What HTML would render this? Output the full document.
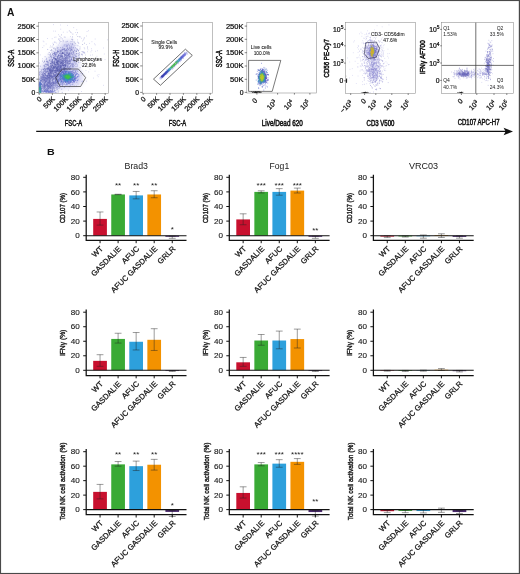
<!DOCTYPE html>
<html><head><meta charset="utf-8"><title>Figure</title>
<style>html,body{margin:0;padding:0;background:#fff;}body{width:520px;height:574px;overflow:hidden;font-family:"Liberation Sans",sans-serif;}svg{display:block;will-change:transform;}text{font-family:"Liberation Sans",sans-serif;}</style>
</head><body>
<svg width="520" height="574" viewBox="0 0 520 574" font-family="Liberation Sans, sans-serif">
<rect x="0" y="0" width="520" height="574" fill="#fff"/>
<text x="6.9" y="15.8" font-size="10.2" text-anchor="start" font-weight="bold" fill="#111" textLength="7.4" lengthAdjust="spacingAndGlyphs" >A</text>
<text x="47.0" y="154.9" font-size="9.9" text-anchor="start" font-weight="bold" fill="#111" textLength="7.7" lengthAdjust="spacingAndGlyphs" >B</text>
<rect x="38.5" y="22.7" width="69.9" height="70.6" fill="#fff" stroke="#8c8c8c" stroke-width="0.55"/>
<text x="35.2" y="28.599999999999998" font-size="6.8" text-anchor="end" font-weight="normal" fill="#111" textLength="17.6" lengthAdjust="spacingAndGlyphs" stroke="#111" stroke-width="0.24">250K</text>
<path d="M36.400000000000006 26.2h2.2" stroke="#333" stroke-width="0.6"/>
<text x="35.2" y="41.9" font-size="6.8" text-anchor="end" font-weight="normal" fill="#111" textLength="17.6" lengthAdjust="spacingAndGlyphs" stroke="#111" stroke-width="0.24">200K</text>
<path d="M36.400000000000006 39.5h2.2" stroke="#333" stroke-width="0.6"/>
<text x="35.2" y="55.199999999999996" font-size="6.8" text-anchor="end" font-weight="normal" fill="#111" textLength="17.6" lengthAdjust="spacingAndGlyphs" stroke="#111" stroke-width="0.24">150K</text>
<path d="M36.400000000000006 52.8h2.2" stroke="#333" stroke-width="0.6"/>
<text x="35.2" y="68.4" font-size="6.8" text-anchor="end" font-weight="normal" fill="#111" textLength="17.6" lengthAdjust="spacingAndGlyphs" stroke="#111" stroke-width="0.24">100K</text>
<path d="M36.400000000000006 66.0h2.2" stroke="#333" stroke-width="0.6"/>
<text x="35.2" y="81.60000000000001" font-size="6.8" text-anchor="end" font-weight="normal" fill="#111" textLength="13.376000000000001" lengthAdjust="spacingAndGlyphs" stroke="#111" stroke-width="0.24">50K</text>
<path d="M36.400000000000006 79.2h2.2" stroke="#333" stroke-width="0.6"/>
<text x="35.2" y="94.9" font-size="6.8" text-anchor="end" font-weight="normal" fill="#111" stroke="#111" stroke-width="0.24">0</text>
<path d="M36.400000000000006 92.5h2.2" stroke="#333" stroke-width="0.6"/>
<text x="0" y="0" font-size="7.0" text-anchor="end" font-weight="normal" fill="#111" transform="translate(42.2 99.5) rotate(-45)" stroke="#111" stroke-width="0.24">0</text>
<path d="M39.2 93.3v1.6" stroke="#333" stroke-width="0.6"/>
<text x="0" y="0" font-size="7.0" text-anchor="end" font-weight="normal" fill="#111" textLength="13.4" lengthAdjust="spacingAndGlyphs" transform="translate(55.4 99.5) rotate(-45)" stroke="#111" stroke-width="0.24">50K</text>
<path d="M52.4 93.3v1.6" stroke="#333" stroke-width="0.6"/>
<text x="0" y="0" font-size="7.0" text-anchor="end" font-weight="normal" fill="#111" textLength="17.6" lengthAdjust="spacingAndGlyphs" transform="translate(68.6 99.5) rotate(-45)" stroke="#111" stroke-width="0.24">100K</text>
<path d="M65.6 93.3v1.6" stroke="#333" stroke-width="0.6"/>
<text x="0" y="0" font-size="7.0" text-anchor="end" font-weight="normal" fill="#111" textLength="17.6" lengthAdjust="spacingAndGlyphs" transform="translate(81.8 99.5) rotate(-45)" stroke="#111" stroke-width="0.24">150K</text>
<path d="M78.8 93.3v1.6" stroke="#333" stroke-width="0.6"/>
<text x="0" y="0" font-size="7.0" text-anchor="end" font-weight="normal" fill="#111" textLength="17.6" lengthAdjust="spacingAndGlyphs" transform="translate(95.0 99.5) rotate(-45)" stroke="#111" stroke-width="0.24">200K</text>
<path d="M92.0 93.3v1.6" stroke="#333" stroke-width="0.6"/>
<text x="0" y="0" font-size="7.0" text-anchor="end" font-weight="normal" fill="#111" textLength="17.6" lengthAdjust="spacingAndGlyphs" transform="translate(108.2 99.5) rotate(-45)" stroke="#111" stroke-width="0.24">250K</text>
<path d="M105.2 93.3v1.6" stroke="#333" stroke-width="0.6"/>
<clipPath id="c1"><rect x="38.8" y="23.0" width="69.30000000000001" height="70.0"/></clipPath>
<g clip-path="url(#c1)">
<filter id="bl" x="-20%" y="-20%" width="140%" height="140%"><feGaussianBlur stdDeviation="2.6"/></filter>
<polygon points="39,93 39,70 46,60 64,41 73,41 78,56 78,68 84,78 79,86 60,89 50,93" fill="#9a9ae2" opacity="0.42" filter="url(#bl)"/>
<path d="M58.8 73.7h0.75M54.6 70.4h0.75M49.9 78.7h0.75M68.7 58.1h0.75M67.1 58.3h0.75M62.0 65.2h0.75M50.1 90.8h0.75M64.5 65.1h0.75M48.8 77.3h0.75M60.0 65.4h0.75M58.5 60.8h0.75M62.4 67.0h0.75M62.3 82.6h0.75M68.6 67.1h0.75M49.3 73.3h0.75M54.8 72.5h0.75M64.1 62.8h0.75M49.5 70.6h0.75M60.7 79.3h0.75M53.2 78.9h0.75M53.2 58.8h0.75M65.4 73.2h0.75M41.1 90.4h0.75M52.8 67.2h0.75M61.4 63.2h0.75M51.5 88.4h0.75M68.1 64.9h0.75M70.8 54.2h0.75M51.9 63.0h0.75M59.3 59.9h0.75M47.8 69.5h0.75M47.9 77.9h0.75M56.7 47.2h0.75M48.3 86.2h0.75M72.0 54.9h0.75M56.7 62.3h0.75M54.9 85.1h0.75M67.1 57.2h0.75M62.2 67.8h0.75M73.3 53.4h0.75M64.9 65.2h0.75M53.1 91.2h0.75M68.0 60.2h0.75M39.7 88.8h0.75M54.6 53.0h0.75M62.1 74.8h0.75M56.8 89.5h0.75M61.3 62.3h0.75M64.0 67.7h0.75M65.1 71.8h0.75M50.8 74.9h0.75M66.0 57.4h0.75M56.5 82.3h0.75M66.6 51.0h0.75M46.9 84.0h0.75M55.3 69.6h0.75M63.0 49.5h0.75M60.6 50.3h0.75M55.5 80.1h0.75M71.1 59.5h0.75M61.4 65.6h0.75M62.3 69.4h0.75M58.2 72.0h0.75M62.3 62.6h0.75M66.8 62.5h0.75M74.9 47.6h0.75M52.8 72.4h0.75M62.9 72.5h0.75M57.6 74.2h0.75M58.0 39.1h0.75M50.9 82.5h0.75M62.3 65.4h0.75M58.3 76.2h0.75M57.3 63.9h0.75M78.2 43.0h0.75M53.3 74.9h0.75M56.0 71.3h0.75M59.3 53.5h0.75M62.6 73.2h0.75M72.5 64.8h0.75M43.3 86.8h0.75M58.8 75.1h0.75M51.7 47.0h0.75M58.4 51.6h0.75M55.1 55.9h0.75M65.8 71.4h0.75M57.9 71.4h0.75M64.8 60.6h0.75M65.6 75.5h0.75M64.3 56.2h0.75M72.5 34.1h0.75M63.4 57.8h0.75M62.8 70.1h0.75M63.1 68.8h0.75M57.4 58.6h0.75M42.3 75.2h0.75M71.6 57.5h0.75M64.0 49.1h0.75M51.9 64.9h0.75M72.3 66.2h0.75M59.7 84.6h0.75M64.5 57.3h0.75M54.0 67.9h0.75M63.2 66.0h0.75M63.8 48.5h0.75M74.6 61.6h0.75M67.9 52.1h0.75M57.9 81.0h0.75M59.5 68.2h0.75M67.3 52.1h0.75M48.5 92.8h0.75M57.1 63.2h0.75M62.4 72.1h0.75M65.8 72.9h0.75M63.2 73.5h0.75M77.9 58.1h0.75M57.7 79.7h0.75M48.7 82.8h0.75M56.4 71.1h0.75M54.8 76.5h0.75M71.7 49.1h0.75M67.4 66.7h0.75M49.7 66.7h0.75M59.6 79.1h0.75M42.4 85.3h0.75M69.9 60.6h0.75M62.4 71.8h0.75M52.9 62.9h0.75M42.8 84.2h0.75M61.9 56.6h0.75M47.1 76.3h0.75M45.8 85.7h0.75M51.1 83.5h0.75M42.7 69.2h0.75M62.0 59.9h0.75M57.7 64.1h0.75M67.9 63.0h0.75M64.8 62.7h0.75M71.6 56.4h0.75M50.1 56.4h0.75M71.8 63.7h0.75M53.2 70.6h0.75M63.1 40.9h0.75M74.6 72.5h0.75M54.7 81.9h0.75M71.5 47.4h0.75M67.1 66.0h0.75M50.7 78.8h0.75M64.7 68.7h0.75M56.7 68.7h0.75M48.4 79.1h0.75M65.3 59.4h0.75M47.0 75.5h0.75M84.2 43.2h0.75M48.8 52.5h0.75M65.3 63.8h0.75M73.0 51.7h0.75M60.3 71.6h0.75M56.7 62.8h0.75M77.7 60.7h0.75M43.9 82.3h0.75M61.2 66.4h0.75M49.7 69.9h0.75M79.5 49.0h0.75M41.8 77.5h0.75M76.1 53.5h0.75M76.1 51.5h0.75M52.8 79.7h0.75M60.4 71.6h0.75M51.9 76.7h0.75M63.5 65.2h0.75M63.9 62.6h0.75M59.8 75.5h0.75M53.9 65.5h0.75M53.3 76.0h0.75M58.0 70.8h0.75M58.9 69.6h0.75M50.2 65.9h0.75M66.9 68.1h0.75M60.2 63.4h0.75M56.1 60.5h0.75M44.1 90.5h0.75M55.0 82.1h0.75M58.7 86.4h0.75M47.7 68.3h0.75M55.1 79.4h0.75M62.7 64.1h0.75M73.0 54.9h0.75M61.1 71.4h0.75M75.7 54.0h0.75M59.9 53.6h0.75M60.8 73.3h0.75M61.5 76.2h0.75M67.4 65.6h0.75M70.1 80.6h0.75M66.2 54.3h0.75M72.7 77.4h0.75M60.1 76.0h0.75M65.4 58.0h0.75M50.2 82.8h0.75M66.8 69.1h0.75M64.0 60.3h0.75M67.3 61.4h0.75M59.8 66.9h0.75M59.9 74.2h0.75M46.7 78.5h0.75M50.1 63.6h0.75M43.9 66.6h0.75M55.9 78.7h0.75M62.0 62.5h0.75M48.6 66.5h0.75M74.5 50.4h0.75M61.5 53.5h0.75M46.8 64.5h0.75M68.9 63.6h0.75M43.5 90.1h0.75M53.2 55.6h0.75M38.5 85.6h0.75M45.7 71.0h0.75M59.6 69.5h0.75M66.6 64.4h0.75M75.6 56.4h0.75M45.4 81.9h0.75M44.2 77.0h0.75M57.4 69.9h0.75M53.1 57.8h0.75M48.6 82.8h0.75M54.8 70.1h0.75M53.4 67.0h0.75M65.2 62.4h0.75M53.7 67.6h0.75M42.0 61.1h0.75M50.8 80.1h0.75M47.8 86.6h0.75M51.7 62.4h0.75M54.4 70.7h0.75M64.8 66.1h0.75M53.1 66.3h0.75M56.6 70.4h0.75M65.1 61.8h0.75M45.3 72.2h0.75M51.2 70.5h0.75M49.0 81.0h0.75M54.9 74.9h0.75M59.7 61.6h0.75M73.7 41.8h0.75M66.9 57.1h0.75M53.6 47.9h0.75M53.7 78.3h0.75M75.1 70.7h0.75M67.3 70.0h0.75M68.9 63.8h0.75M61.0 62.7h0.75M56.0 59.4h0.75M61.4 52.1h0.75M71.3 73.9h0.75M56.4 71.6h0.75M66.9 56.1h0.75M53.3 79.0h0.75M66.2 65.0h0.75M61.7 84.0h0.75M70.6 50.4h0.75M57.7 64.4h0.75M64.8 50.6h0.75M60.5 59.7h0.75M56.7 79.4h0.75M68.0 54.0h0.75M57.3 79.5h0.75M59.3 70.7h0.75M75.6 56.0h0.75M66.4 83.1h0.75M62.3 71.8h0.75M52.9 76.1h0.75M61.7 49.3h0.75M64.4 54.2h0.75M55.9 68.5h0.75M51.2 66.4h0.75M50.4 63.5h0.75M59.1 70.9h0.75M60.3 62.9h0.75M52.1 79.7h0.75M62.8 80.1h0.75M63.2 60.0h0.75M50.7 71.7h0.75M49.0 78.2h0.75M63.0 67.6h0.75M73.6 70.2h0.75M52.8 76.9h0.75M68.9 30.9h0.75M55.0 75.5h0.75M61.4 68.7h0.75M58.2 73.0h0.75M62.6 71.2h0.75M39.0 87.0h0.75M52.4 65.3h0.75M53.5 83.0h0.75M56.5 78.6h0.75M65.3 61.7h0.75M61.3 62.9h0.75M47.2 84.7h0.75M58.6 62.0h0.75M61.3 72.8h0.75M54.9 81.2h0.75M69.0 46.1h0.75M58.3 66.8h0.75M71.3 52.9h0.75M61.0 56.4h0.75M57.8 69.1h0.75M55.3 52.6h0.75M62.9 60.2h0.75M63.4 65.3h0.75M45.6 85.0h0.75M66.1 50.2h0.75M43.0 75.5h0.75M50.6 83.9h0.75M73.0 51.6h0.75M71.9 74.3h0.75M50.5 72.4h0.75M64.9 65.1h0.75M44.1 76.1h0.75M61.5 66.6h0.75M47.1 82.9h0.75M56.4 76.7h0.75M56.7 70.0h0.75M61.0 76.8h0.75M66.5 52.1h0.75M60.3 56.8h0.75M62.6 70.9h0.75M67.3 50.6h0.75M58.5 70.5h0.75M46.8 85.9h0.75M54.9 77.9h0.75M38.8 74.5h0.75M59.7 69.5h0.75M58.7 78.4h0.75M52.7 69.9h0.75M53.1 58.0h0.75M52.8 76.5h0.75M63.5 58.9h0.75M56.8 63.2h0.75M69.2 71.6h0.75M65.6 85.3h0.75M53.3 76.3h0.75M64.8 70.8h0.75M66.9 65.1h0.75M76.9 71.5h0.75M60.9 67.6h0.75M67.0 59.9h0.75M63.8 45.9h0.75M62.1 58.5h0.75M76.6 66.4h0.75M56.6 68.1h0.75M49.7 71.6h0.75M56.7 78.4h0.75M58.6 68.8h0.75M61.6 74.3h0.75M60.9 62.9h0.75M62.2 61.0h0.75M57.2 87.2h0.75M56.3 60.3h0.75M68.0 58.2h0.75M54.9 92.4h0.75M65.3 68.5h0.75M58.7 66.2h0.75M51.6 89.9h0.75M56.7 67.6h0.75M61.1 65.3h0.75M61.1 60.1h0.75M46.2 61.7h0.75M58.5 76.2h0.75M66.1 52.7h0.75M65.6 76.1h0.75M59.5 75.3h0.75M70.8 50.3h0.75M63.4 52.7h0.75M59.1 66.4h0.75M65.0 71.8h0.75M72.4 39.8h0.75M56.4 77.2h0.75M52.7 82.6h0.75M60.8 61.6h0.75M53.6 57.4h0.75M55.4 54.9h0.75M49.8 74.8h0.75M59.6 76.6h0.75M56.5 66.6h0.75M70.6 68.6h0.75M60.0 70.3h0.75M68.8 56.1h0.75M61.8 92.4h0.75M63.9 37.1h0.75M60.0 70.9h0.75M68.9 60.6h0.75M50.3 68.2h0.75M64.4 71.6h0.75M44.3 77.5h0.75M47.4 62.3h0.75M53.7 70.3h0.75M57.6 61.4h0.75M49.2 77.5h0.75M54.0 67.2h0.75M62.1 71.6h0.75M76.1 61.9h0.75M49.8 76.3h0.75M52.4 77.0h0.75M54.6 58.2h0.75M61.3 63.7h0.75M45.8 90.5h0.75M56.9 48.8h0.75M65.2 60.7h0.75M64.0 65.3h0.75M66.6 53.6h0.75M62.4 57.7h0.75M59.1 57.9h0.75M66.5 76.5h0.75M60.5 63.4h0.75M45.1 79.0h0.75M64.5 70.2h0.75M64.0 66.1h0.75M65.0 74.4h0.75M52.1 71.4h0.75M65.0 59.3h0.75M52.8 70.0h0.75M59.4 74.1h0.75M54.1 60.7h0.75M62.2 64.9h0.75M54.7 83.0h0.75M54.1 70.9h0.75M71.1 64.9h0.75M55.2 78.3h0.75M63.9 87.2h0.75M60.7 78.9h0.75M57.5 79.2h0.75M61.0 34.9h0.75M57.4 75.7h0.75M53.7 67.6h0.75M74.6 45.2h0.75M50.2 90.5h0.75M51.3 92.5h0.75M54.4 76.0h0.75M68.1 55.3h0.75M70.9 58.4h0.75M56.5 81.3h0.75M65.2 65.8h0.75M39.4 93.2h0.75M68.7 61.6h0.75M51.4 50.2h0.75M61.9 68.9h0.75M72.0 36.9h0.75M55.7 72.8h0.75M62.3 57.5h0.75M62.4 53.3h0.75M57.2 64.1h0.75M55.5 64.7h0.75M51.9 90.9h0.75M57.3 63.6h0.75M64.9 70.3h0.75M50.1 79.6h0.75M64.9 64.9h0.75M44.1 65.1h0.75M69.1 56.3h0.75M56.6 67.8h0.75M57.7 64.5h0.75M46.3 77.8h0.75M50.2 73.5h0.75M52.7 84.3h0.75M51.7 86.1h0.75M52.3 81.7h0.75M69.4 54.3h0.75M52.8 77.4h0.75M49.8 61.1h0.75M54.3 76.4h0.75M54.9 74.5h0.75M67.7 63.5h0.75M68.0 61.0h0.75M55.7 72.2h0.75M54.3 70.9h0.75M47.3 64.8h0.75M55.4 72.6h0.75M50.5 79.8h0.75M61.0 62.6h0.75M59.5 36.3h0.75M46.6 64.7h0.75M79.7 67.6h0.75M60.3 62.1h0.75M50.0 54.7h0.75M66.4 60.8h0.75M55.0 66.6h0.75M60.2 60.1h0.75M56.9 64.7h0.75M63.6 69.5h0.75M51.2 78.7h0.75M63.4 62.6h0.75M78.1 62.3h0.75M40.8 72.2h0.75M72.7 64.9h0.75M69.3 61.6h0.75M49.5 73.4h0.75M59.8 55.7h0.75M39.0 85.7h0.75M87.1 48.0h0.75M48.9 74.1h0.75M55.7 63.7h0.75M67.4 54.0h0.75M56.9 85.9h0.75M54.8 76.3h0.75M56.2 68.0h0.75M56.7 62.8h0.75M44.4 80.5h0.75M58.1 69.5h0.75M62.8 63.2h0.75M48.2 75.3h0.75M41.2 92.1h0.75M64.5 65.5h0.75M56.1 69.7h0.75M65.1 58.6h0.75M66.7 62.8h0.75M66.7 71.3h0.75M51.8 74.1h0.75M47.6 75.2h0.75M79.2 57.9h0.75M61.2 70.8h0.75M71.2 58.7h0.75M60.2 50.9h0.75M55.6 77.8h0.75M69.4 53.3h0.75M49.6 77.3h0.75M48.4 73.3h0.75M65.9 49.9h0.75M69.8 76.6h0.75M68.7 56.9h0.75M55.6 77.3h0.75M73.6 53.1h0.75M68.0 55.2h0.75M60.8 62.5h0.75M68.2 68.9h0.75M46.9 84.8h0.75M56.7 64.2h0.75M59.9 75.3h0.75M76.4 48.8h0.75M52.1 59.7h0.75M72.9 47.7h0.75M51.7 65.3h0.75M51.7 65.7h0.75M61.1 69.9h0.75M59.7 69.7h0.75M59.3 83.7h0.75M43.3 69.7h0.75M52.5 68.3h0.75M48.5 79.0h0.75M53.8 61.5h0.75M64.7 75.7h0.75M62.3 60.8h0.75M58.3 67.1h0.75M61.6 72.2h0.75M44.3 61.3h0.75M53.0 66.0h0.75M59.6 59.5h0.75M70.9 75.2h0.75M44.1 76.7h0.75M45.8 91.4h0.75M43.1 69.4h0.75M50.2 87.9h0.75M50.2 76.4h0.75M67.8 70.2h0.75M78.2 51.0h0.75M60.1 68.1h0.75M79.3 54.0h0.75M58.1 74.1h0.75M60.4 66.0h0.75M47.1 69.8h0.75M45.6 69.4h0.75M70.1 57.2h0.75M56.5 87.6h0.75M54.4 52.1h0.75M76.2 51.3h0.75M66.9 41.4h0.75M64.3 64.6h0.75M60.4 67.4h0.75M57.9 51.8h0.75M41.1 77.9h0.75M50.5 73.1h0.75M62.2 65.8h0.75M54.6 66.2h0.75M59.8 77.4h0.75M64.3 60.8h0.75M64.0 78.2h0.75M57.0 78.0h0.75M65.2 55.1h0.75M58.2 55.7h0.75M66.7 58.4h0.75M49.7 89.2h0.75M58.2 83.6h0.75M52.0 76.0h0.75M58.3 64.6h0.75M57.0 64.1h0.75M63.1 61.5h0.75M44.7 56.7h0.75M66.9 56.1h0.75M45.1 89.3h0.75M67.3 67.6h0.75M58.2 86.7h0.75M69.7 79.5h0.75M60.6 73.1h0.75M49.2 69.1h0.75M71.1 60.0h0.75M74.2 54.9h0.75M44.7 69.4h0.75M49.5 73.9h0.75M55.0 80.2h0.75M59.0 64.3h0.75M58.5 66.5h0.75M63.7 69.3h0.75M61.5 55.8h0.75M54.4 91.1h0.75M64.8 71.7h0.75M43.9 86.2h0.75M50.4 63.5h0.75M58.0 77.4h0.75M74.7 62.7h0.75M43.9 73.6h0.75M67.0 66.6h0.75M52.4 62.1h0.75M68.2 63.1h0.75M59.5 61.0h0.75M64.6 68.5h0.75M43.8 68.6h0.75M63.1 67.1h0.75M62.9 72.1h0.75M53.1 75.3h0.75M58.8 74.5h0.75M68.6 50.2h0.75M81.7 51.5h0.75M67.1 62.3h0.75M70.3 48.5h0.75M51.4 66.4h0.75M68.8 68.6h0.75M64.3 64.6h0.75M57.4 71.9h0.75M52.9 88.8h0.75M49.0 69.6h0.75M47.9 74.4h0.75M70.1 63.2h0.75M52.8 87.6h0.75M61.6 56.9h0.75M42.8 83.0h0.75M55.1 77.3h0.75M44.4 65.7h0.75M51.5 60.8h0.75M58.3 54.5h0.75M48.2 73.7h0.75M60.9 79.8h0.75M67.7 61.6h0.75M52.0 59.8h0.75M51.1 72.8h0.75M53.4 81.8h0.75M48.6 74.7h0.75M39.0 73.3h0.75M69.7 67.1h0.75M54.0 63.5h0.75M68.8 56.4h0.75M73.0 64.0h0.75M64.1 54.8h0.75M70.1 60.0h0.75M44.3 84.8h0.75M46.7 84.6h0.75M56.6 58.6h0.75M68.8 70.1h0.75M53.8 87.7h0.75M84.4 53.0h0.75M57.9 72.3h0.75M62.2 74.3h0.75M66.3 57.7h0.75M51.8 86.9h0.75M57.9 76.5h0.75M68.7 71.9h0.75M64.1 54.6h0.75M70.1 71.5h0.75M56.3 76.6h0.75M73.7 60.2h0.75M54.8 58.4h0.75M49.9 84.0h0.75M74.7 73.9h0.75M57.7 82.8h0.75M54.8 54.3h0.75M52.7 78.8h0.75M53.5 74.0h0.75M57.2 60.8h0.75M58.1 61.5h0.75M56.8 77.1h0.75M55.2 76.5h0.75M70.2 51.2h0.75M60.9 73.3h0.75M61.1 77.0h0.75M51.7 85.6h0.75M49.8 71.8h0.75M66.7 46.1h0.75M74.8 51.7h0.75M63.7 49.2h0.75M74.9 60.8h0.75M56.4 69.8h0.75M77.4 42.1h0.75M51.4 71.5h0.75M63.1 65.2h0.75M68.6 73.2h0.75M58.1 74.4h0.75M63.6 49.0h0.75M75.7 64.0h0.75M41.9 80.2h0.75M40.2 74.0h0.75M51.4 57.2h0.75M69.6 68.7h0.75M44.1 86.0h0.75M51.0 76.3h0.75M61.4 70.4h0.75M55.5 72.9h0.75M54.5 75.5h0.75M49.5 82.4h0.75M40.8 88.9h0.75M72.8 47.8h0.75M49.9 84.1h0.75M41.8 73.9h0.75M56.4 79.9h0.75M60.4 64.3h0.75M45.2 75.5h0.75M69.5 54.8h0.75M39.4 72.0h0.75M48.9 81.6h0.75M58.7 66.1h0.75M48.5 67.1h0.75M59.2 86.9h0.75M56.9 80.5h0.75M43.8 87.0h0.75M65.6 69.8h0.75M52.8 83.7h0.75M56.9 62.0h0.75M56.7 60.4h0.75M51.9 77.9h0.75M42.6 74.9h0.75M58.9 76.5h0.75M61.8 78.1h0.75M42.2 77.2h0.75M71.8 53.1h0.75M60.6 55.4h0.75M65.5 60.9h0.75M63.0 61.8h0.75M63.6 53.1h0.75M42.8 74.5h0.75M62.7 53.3h0.75M45.1 77.3h0.75M47.8 69.4h0.75M52.4 70.0h0.75M48.7 71.7h0.75M55.8 66.9h0.75M60.2 68.6h0.75M48.7 57.3h0.75M49.7 72.1h0.75M55.3 54.6h0.75M51.0 75.9h0.75M60.8 76.4h0.75M59.9 77.5h0.75M69.5 56.9h0.75M62.3 64.0h0.75M55.1 59.2h0.75M62.3 56.4h0.75M65.9 58.3h0.75M65.7 55.9h0.75M56.3 74.3h0.75M51.9 71.8h0.75M59.5 68.4h0.75M69.7 52.2h0.75M81.9 54.5h0.75M76.6 53.6h0.75M59.7 68.0h0.75M53.0 68.0h0.75M54.0 67.4h0.75M73.2 52.5h0.75M44.3 67.1h0.75M55.4 68.1h0.75M43.7 77.1h0.75M71.4 79.1h0.75M57.0 68.8h0.75M69.6 53.3h0.75M57.3 65.8h0.75M61.5 81.2h0.75M74.8 64.0h0.75M55.5 73.0h0.75M56.6 82.4h0.75M50.6 86.7h0.75M73.9 61.8h0.75M56.8 83.5h0.75M48.5 74.3h0.75M54.3 88.0h0.75M67.2 48.4h0.75M50.5 76.3h0.75M82.3 44.5h0.75M44.2 68.6h0.75M59.4 80.8h0.75M70.6 47.1h0.75M50.0 74.9h0.75M55.6 85.0h0.75M56.0 63.0h0.75M63.9 60.3h0.75M52.5 84.4h0.75M54.0 52.6h0.75M74.4 50.3h0.75M53.7 53.7h0.75M50.7 75.8h0.75M58.2 51.6h0.75M40.4 71.6h0.75M58.1 73.0h0.75M42.1 85.8h0.75M70.4 69.0h0.75M61.4 60.5h0.75M44.1 78.8h0.75M53.8 77.0h0.75M66.6 75.6h0.75M54.4 61.9h0.75M74.7 55.1h0.75M54.9 65.3h0.75M60.5 55.9h0.75M49.1 84.5h0.75M63.1 68.5h0.75M70.5 66.8h0.75M57.0 82.0h0.75M54.3 82.6h0.75M60.7 67.9h0.75M65.2 58.1h0.75M71.1 59.7h0.75M56.0 65.4h0.75M49.5 75.5h0.75M56.3 71.2h0.75M83.9 37.9h0.75M59.1 57.3h0.75M50.9 75.8h0.75M53.9 63.1h0.75M67.1 48.9h0.75M53.5 48.5h0.75M59.4 70.1h0.75M62.7 69.0h0.75M61.0 66.4h0.75M39.9 87.6h0.75M59.3 64.8h0.75M48.7 76.1h0.75M81.2 54.6h0.75M64.5 74.3h0.75M49.6 71.2h0.75M54.8 76.0h0.75M77.2 32.7h0.75M59.9 69.4h0.75M62.8 72.8h0.75M64.6 44.6h0.75M57.8 66.2h0.75M52.4 59.5h0.75M63.0 63.8h0.75M45.8 59.6h0.75M51.1 70.5h0.75M42.4 81.5h0.75M66.2 63.1h0.75M60.6 71.1h0.75M53.8 76.0h0.75M61.3 70.6h0.75M56.7 69.3h0.75M53.5 68.2h0.75M77.6 45.8h0.75M73.6 72.5h0.75M60.1 47.6h0.75M67.8 64.2h0.75M79.3 52.6h0.75M57.4 56.1h0.75M52.9 79.7h0.75M56.3 59.6h0.75M52.9 71.9h0.75M60.3 69.5h0.75M49.2 67.7h0.75M76.0 60.8h0.75M62.7 73.9h0.75M64.9 66.4h0.75M57.5 60.8h0.75M67.8 66.2h0.75M61.9 86.2h0.75M83.6 52.2h0.75M77.0 49.4h0.75M52.2 70.6h0.75M52.5 78.5h0.75M61.4 71.8h0.75M75.0 43.4h0.75M65.7 63.1h0.75M58.9 65.2h0.75M52.6 67.4h0.75M59.2 66.9h0.75M55.8 62.3h0.75M58.6 68.7h0.75M56.8 58.4h0.75M66.5 67.9h0.75M60.5 61.0h0.75M53.0 73.7h0.75M71.9 66.4h0.75M53.3 68.4h0.75M61.9 65.5h0.75M47.2 76.5h0.75M60.9 72.6h0.75M43.5 78.7h0.75M55.1 59.0h0.75M60.7 69.1h0.75M51.7 66.6h0.75M55.8 68.5h0.75M56.0 62.2h0.75M57.2 50.7h0.75M56.7 71.0h0.75M61.9 56.0h0.75M59.0 60.8h0.75M72.9 67.0h0.75M57.4 75.1h0.75M56.3 82.9h0.75M67.3 55.6h0.75M51.6 83.2h0.75M72.5 60.1h0.75M54.2 53.3h0.75M60.6 81.8h0.75M54.9 86.8h0.75M76.3 50.7h0.75M64.6 55.2h0.75M48.2 82.4h0.75M56.2 71.1h0.75M62.5 60.7h0.75M61.7 68.4h0.75M67.9 75.7h0.75M61.8 64.3h0.75M53.1 69.1h0.75M68.9 54.5h0.75M46.9 79.1h0.75M54.6 68.9h0.75M59.9 52.6h0.75M62.5 64.0h0.75M49.4 82.4h0.75M60.0 71.9h0.75M56.3 75.1h0.75M39.6 83.7h0.75M69.5 64.0h0.75M54.7 67.0h0.75M54.8 49.3h0.75M55.6 80.4h0.75M57.3 57.9h0.75M54.3 64.0h0.75M63.3 71.7h0.75M52.3 53.2h0.75M54.2 53.9h0.75M68.7 57.7h0.75M71.6 41.5h0.75M63.7 72.7h0.75M49.4 73.6h0.75M54.8 72.9h0.75M52.5 82.9h0.75M62.5 63.2h0.75M69.0 48.8h0.75M64.9 52.4h0.75M53.2 53.5h0.75M58.5 66.1h0.75M51.0 72.3h0.75M51.5 70.3h0.75M51.0 73.3h0.75M49.3 80.4h0.75M62.5 59.3h0.75M61.6 79.4h0.75M70.3 61.4h0.75M64.9 54.9h0.75M63.0 74.5h0.75M53.2 74.8h0.75M62.9 66.1h0.75M61.2 75.7h0.75M60.6 73.6h0.75M69.6 59.4h0.75M57.3 56.6h0.75M44.8 81.5h0.75M69.7 69.1h0.75M50.5 83.8h0.75M47.6 75.9h0.75M59.7 74.6h0.75M66.0 70.9h0.75M55.4 83.3h0.75M65.4 58.8h0.75M58.5 61.6h0.75M47.6 79.8h0.75M68.8 86.7h0.75M63.3 80.4h0.75M61.2 67.9h0.75M59.4 57.8h0.75M66.9 60.1h0.75M49.8 88.2h0.75M64.6 64.4h0.75M67.7 49.7h0.75M65.9 66.0h0.75M57.7 83.4h0.75M40.1 80.6h0.75M56.1 59.2h0.75M48.2 64.3h0.75M52.4 64.1h0.75M52.3 59.6h0.75M59.9 63.0h0.75M58.1 68.0h0.75M51.8 62.8h0.75M48.5 77.8h0.75M50.5 57.0h0.75M49.0 75.3h0.75M51.8 82.0h0.75M52.5 67.6h0.75M55.0 83.0h0.75M56.2 78.5h0.75M51.2 57.1h0.75M49.9 81.2h0.75M64.8 68.0h0.75M69.6 63.7h0.75M54.1 72.4h0.75M61.5 58.8h0.75M57.4 51.4h0.75M62.0 61.0h0.75M60.5 65.6h0.75M47.4 79.4h0.75M64.9 49.1h0.75M48.3 82.0h0.75M50.1 70.1h0.75M57.3 82.2h0.75M57.7 92.3h0.75M48.0 71.1h0.75M67.0 62.2h0.75M54.2 83.4h0.75M39.2 86.3h0.75M65.1 55.4h0.75M51.0 85.5h0.75M64.8 58.6h0.75M42.5 88.0h0.75M65.3 67.1h0.75M70.6 47.3h0.75M54.2 74.3h0.75M62.0 52.1h0.75M53.0 44.4h0.75M60.4 57.6h0.75M65.2 66.3h0.75M48.6 81.9h0.75M63.0 68.4h0.75M45.7 75.8h0.75M55.4 70.4h0.75M51.8 89.1h0.75M61.7 80.2h0.75M64.5 59.5h0.75M57.5 56.8h0.75M52.4 70.6h0.75M48.5 83.3h0.75M64.7 75.8h0.75M48.6 77.6h0.75M63.4 65.7h0.75M55.7 67.0h0.75M63.7 64.8h0.75M42.7 88.7h0.75M41.3 80.1h0.75M59.4 67.6h0.75M54.1 64.6h0.75M51.6 68.0h0.75M64.6 67.2h0.75M78.0 53.9h0.75M49.5 76.4h0.75M52.6 80.6h0.75M76.7 49.4h0.75M51.1 85.4h0.75M59.6 70.1h0.75M66.9 46.0h0.75M62.2 85.6h0.75M56.4 62.3h0.75M63.7 72.1h0.75M53.2 68.0h0.75M62.7 84.2h0.75M45.7 89.4h0.75M61.5 70.9h0.75M57.7 75.3h0.75M63.3 59.3h0.75M53.6 73.5h0.75M49.6 79.1h0.75M56.9 73.1h0.75M75.1 58.8h0.75M57.9 76.2h0.75M64.3 68.5h0.75M59.6 69.7h0.75M50.2 71.4h0.75M71.6 63.9h0.75M65.3 63.2h0.75M57.6 64.4h0.75M48.2 91.4h0.75M56.5 64.8h0.75M57.6 84.4h0.75M75.6 70.4h0.75M52.5 77.0h0.75M55.0 75.2h0.75M52.4 68.6h0.75M61.8 54.1h0.75M57.2 76.7h0.75M51.6 73.5h0.75M58.7 63.7h0.75M48.1 82.6h0.75M65.5 77.6h0.75M55.0 84.8h0.75M50.2 76.5h0.75M57.0 73.6h0.75M73.9 65.7h0.75M60.4 81.0h0.75M69.9 60.8h0.75M57.2 80.8h0.75M59.1 71.5h0.75M59.6 74.4h0.75M72.5 60.6h0.75M61.8 74.9h0.75M63.9 49.3h0.75M61.9 47.7h0.75M65.3 65.1h0.75M70.7 53.4h0.75M50.1 71.5h0.75M52.7 85.8h0.75M52.3 69.1h0.75M57.9 60.3h0.75M52.2 72.2h0.75M78.3 55.7h0.75M48.3 65.1h0.75M60.5 66.2h0.75M63.7 67.1h0.75M60.6 75.9h0.75M65.4 60.4h0.75M52.4 71.8h0.75M57.3 57.3h0.75M52.8 68.1h0.75M50.8 86.8h0.75M58.0 69.4h0.75M56.5 53.8h0.75M59.1 70.8h0.75M58.4 55.7h0.75M64.6 61.8h0.75M74.3 57.9h0.75M73.7 70.6h0.75M55.7 67.5h0.75M50.4 69.4h0.75M47.6 62.5h0.75M59.7 71.5h0.75M63.6 56.6h0.75M64.9 51.1h0.75M46.9 63.7h0.75M48.0 74.7h0.75M71.8 54.5h0.75M52.7 83.0h0.75M60.3 62.9h0.75M56.6 67.7h0.75M44.7 68.7h0.75M64.1 74.5h0.75M67.0 52.3h0.75M51.4 76.4h0.75M66.4 60.4h0.75M55.6 76.7h0.75M59.2 73.1h0.75M47.3 68.3h0.75M62.4 71.1h0.75M49.3 80.7h0.75M62.5 58.1h0.75M63.9 83.3h0.75M69.5 63.6h0.75M59.7 85.1h0.75M43.1 85.3h0.75M70.4 65.6h0.75M47.7 76.8h0.75M49.3 60.1h0.75M65.6 64.0h0.75M57.5 75.8h0.75M65.3 61.6h0.75M69.8 68.6h0.75M55.4 74.8h0.75M59.6 78.3h0.75M57.5 75.1h0.75M59.3 67.7h0.75M70.1 50.0h0.75M72.6 56.5h0.75M66.7 54.1h0.75M68.7 61.6h0.75M54.9 76.6h0.75M56.9 70.3h0.75M63.7 52.4h0.75M51.3 71.6h0.75M61.1 70.8h0.75M72.4 51.0h0.75M57.5 61.4h0.75M69.3 67.5h0.75M57.6 47.7h0.75M72.7 64.9h0.75M56.2 54.8h0.75M58.8 74.4h0.75M56.8 61.7h0.75M56.6 82.0h0.75M55.8 88.4h0.75M59.7 69.8h0.75M45.2 81.3h0.75M55.3 56.4h0.75M65.7 41.8h0.75M49.4 82.3h0.75M65.3 66.4h0.75M54.2 72.3h0.75M53.3 69.5h0.75M60.6 66.8h0.75M54.8 76.6h0.75M57.5 68.9h0.75M57.1 51.1h0.75M54.3 62.6h0.75M63.5 77.6h0.75M49.7 80.3h0.75M58.7 78.7h0.75M42.2 73.7h0.75M59.9 62.2h0.75M61.3 76.2h0.75M49.7 77.3h0.75M61.2 68.8h0.75M59.6 78.2h0.75M72.1 43.4h0.75M60.6 41.5h0.75M66.4 52.7h0.75M57.2 66.3h0.75M46.8 71.4h0.75M61.9 77.8h0.75M64.4 55.5h0.75M50.5 72.2h0.75M58.7 88.2h0.75M63.4 62.3h0.75M49.2 70.7h0.75M71.6 57.5h0.75M56.2 82.7h0.75M53.3 83.2h0.75M48.9 77.9h0.75M63.8 65.2h0.75M61.0 55.2h0.75M76.4 56.7h0.75M60.3 70.7h0.75M51.6 76.8h0.75M48.9 83.5h0.75M66.4 71.5h0.75M69.1 61.6h0.75M54.2 72.1h0.75M56.7 73.4h0.75M48.1 92.5h0.75M44.0 84.1h0.75M55.5 67.0h0.75M69.5 50.8h0.75M75.4 56.2h0.75M56.5 75.7h0.75M65.6 53.9h0.75M55.7 66.1h0.75M56.6 67.1h0.75M63.8 71.6h0.75M68.7 54.5h0.75M63.9 69.8h0.75M50.4 68.4h0.75M61.2 53.8h0.75M59.7 55.6h0.75M65.8 45.7h0.75M71.9 65.1h0.75M58.8 84.5h0.75M42.9 71.7h0.75M66.8 63.7h0.75M43.5 62.4h0.75M56.0 68.5h0.75M53.8 72.1h0.75M42.1 86.3h0.75M79.0 55.0h0.75M51.7 70.4h0.75M66.4 68.4h0.75M57.2 57.2h0.75M59.9 67.7h0.75M74.6 57.7h0.75M68.1 67.6h0.75M63.1 78.6h0.75M57.0 75.0h0.75M59.9 55.9h0.75M43.8 70.4h0.75M58.9 67.0h0.75M58.2 74.2h0.75M42.6 91.7h0.75M57.3 67.1h0.75M72.8 66.5h0.75M49.9 70.5h0.75M54.1 75.8h0.75M57.8 59.7h0.75M59.9 54.7h0.75M66.2 61.6h0.75M72.5 71.5h0.75M55.2 71.3h0.75M65.9 66.9h0.75M49.8 84.4h0.75M55.9 79.2h0.75M68.2 54.4h0.75M58.2 70.8h0.75M62.9 63.5h0.75M51.4 70.7h0.75M63.0 75.1h0.75M64.2 74.8h0.75M59.9 66.0h0.75M42.6 84.6h0.75M60.3 51.1h0.75" stroke="#6468b8" stroke-width="0.75" fill="none" opacity="0.68"/>
<path d="M46.1 72.4h0.7M56.1 73.1h0.7M52.4 54.7h0.7M63.9 50.4h0.7M60.1 76.3h0.7M51.3 63.3h0.7M49.9 70.1h0.7M49.1 74.7h0.7M64.1 58.6h0.7M59.7 87.0h0.7M51.1 75.8h0.7M60.4 67.8h0.7M56.8 70.4h0.7M70.9 46.1h0.7M51.4 77.3h0.7M50.3 72.7h0.7M59.6 65.1h0.7M58.7 71.1h0.7M50.4 64.2h0.7M61.1 56.6h0.7M62.1 52.6h0.7M62.0 61.4h0.7M55.6 80.6h0.7M48.7 86.6h0.7M66.1 56.9h0.7M59.3 58.2h0.7M57.9 66.7h0.7M62.6 63.9h0.7M52.8 66.0h0.7M55.1 72.5h0.7M41.1 78.4h0.7M52.1 68.4h0.7M44.2 61.2h0.7M53.8 68.6h0.7M53.8 53.1h0.7M57.0 70.2h0.7M65.1 64.6h0.7M59.4 53.0h0.7M59.7 59.0h0.7M58.2 78.0h0.7M49.4 69.6h0.7M50.8 67.5h0.7M65.0 57.4h0.7M67.7 53.7h0.7M57.4 74.8h0.7M50.9 71.0h0.7M56.1 67.7h0.7M62.2 52.9h0.7M59.1 62.5h0.7M44.4 75.0h0.7M57.3 69.2h0.7M61.1 64.3h0.7M55.4 64.3h0.7M55.6 59.1h0.7M47.0 78.0h0.7M45.7 78.3h0.7M49.9 71.6h0.7M53.4 64.2h0.7M47.2 65.3h0.7M54.3 62.1h0.7M47.8 54.2h0.7M52.8 74.4h0.7M39.8 88.4h0.7M58.0 65.4h0.7M48.3 81.0h0.7M53.9 61.9h0.7M61.6 58.7h0.7M55.2 64.6h0.7M60.9 61.0h0.7M66.2 56.3h0.7M52.1 71.3h0.7M61.4 56.1h0.7M61.6 63.8h0.7M46.1 61.2h0.7M58.7 65.3h0.7M54.7 62.6h0.7M64.2 54.0h0.7M50.0 70.0h0.7M54.8 59.5h0.7M58.9 81.2h0.7M69.9 56.3h0.7M68.3 54.5h0.7M51.1 85.6h0.7M67.1 55.4h0.7M49.5 88.3h0.7M63.8 51.5h0.7M61.1 66.9h0.7M61.0 69.9h0.7M60.4 67.2h0.7M51.4 61.0h0.7M63.8 84.5h0.7M64.3 67.0h0.7M71.5 59.8h0.7M58.1 59.0h0.7M49.1 60.4h0.7M59.6 70.4h0.7M43.8 87.4h0.7M67.9 61.8h0.7M48.3 73.1h0.7M40.6 81.3h0.7M69.1 66.7h0.7M55.3 81.0h0.7M57.7 60.5h0.7M60.7 37.7h0.7M57.5 67.3h0.7M78.4 50.4h0.7M72.3 44.5h0.7M69.1 60.3h0.7M61.8 62.1h0.7M54.1 66.6h0.7M57.2 83.4h0.7M45.4 64.5h0.7M58.6 63.3h0.7M65.8 69.4h0.7M55.2 66.3h0.7M52.1 73.2h0.7M55.0 70.8h0.7M79.0 36.8h0.7M59.5 79.7h0.7M66.0 59.9h0.7M65.1 61.4h0.7M67.3 63.4h0.7M69.2 60.0h0.7M53.7 70.9h0.7M56.3 75.8h0.7M60.4 56.6h0.7M71.8 67.7h0.7M60.4 50.9h0.7M59.1 68.7h0.7M58.4 67.4h0.7M66.1 55.5h0.7M52.9 78.7h0.7M56.8 67.3h0.7M47.5 67.6h0.7M47.4 77.1h0.7M38.6 68.7h0.7M59.6 51.6h0.7M54.5 74.5h0.7M47.0 93.2h0.7M54.8 75.3h0.7M55.2 71.5h0.7M57.7 65.0h0.7M38.9 79.6h0.7M62.7 70.4h0.7M55.7 72.8h0.7M60.1 65.8h0.7M57.2 52.1h0.7M58.0 62.8h0.7M51.4 66.6h0.7M47.6 70.7h0.7M60.4 83.7h0.7M68.1 49.5h0.7M57.7 56.0h0.7M64.0 68.7h0.7M52.5 63.6h0.7M51.2 65.5h0.7M46.9 78.9h0.7M51.0 67.6h0.7M47.3 72.0h0.7M64.4 67.6h0.7M65.0 74.4h0.7M47.6 82.5h0.7M48.8 76.8h0.7M60.0 66.6h0.7M62.0 53.5h0.7M48.1 77.5h0.7M56.0 61.2h0.7M69.9 62.1h0.7M49.3 80.8h0.7M55.5 50.7h0.7M57.4 63.4h0.7M53.3 83.5h0.7M56.4 62.5h0.7M62.6 63.5h0.7M64.5 60.2h0.7M54.7 58.7h0.7M54.8 70.5h0.7M50.1 66.7h0.7M46.2 84.4h0.7M54.8 64.0h0.7M50.5 67.5h0.7M51.7 73.0h0.7M55.7 74.2h0.7M56.6 67.8h0.7M65.0 65.6h0.7M61.9 60.8h0.7M52.5 65.3h0.7M57.6 71.3h0.7M56.8 62.7h0.7M41.9 74.6h0.7M63.4 65.8h0.7M53.7 58.5h0.7M56.5 68.7h0.7M52.5 75.9h0.7M52.2 65.6h0.7M52.3 80.4h0.7M55.6 60.0h0.7M54.1 78.4h0.7M59.6 59.4h0.7M66.2 49.7h0.7M54.7 79.3h0.7M57.2 68.8h0.7M53.0 62.8h0.7M48.5 77.0h0.7M61.9 49.5h0.7M66.8 53.4h0.7M50.9 77.5h0.7M56.9 58.0h0.7M44.6 87.7h0.7M51.6 78.0h0.7M44.0 84.1h0.7M45.5 69.7h0.7M56.2 68.8h0.7M48.4 68.1h0.7M51.0 59.0h0.7M62.5 62.2h0.7M71.6 52.2h0.7M60.4 63.3h0.7M51.6 62.0h0.7M68.7 53.3h0.7M50.3 65.5h0.7M68.9 53.1h0.7M52.1 79.4h0.7M69.2 47.6h0.7M57.9 61.0h0.7M57.4 75.1h0.7M77.5 36.5h0.7M59.5 69.4h0.7M58.1 71.0h0.7M58.1 55.1h0.7M49.7 76.2h0.7M63.6 58.7h0.7M59.3 50.1h0.7M57.6 59.5h0.7M59.0 65.9h0.7M49.7 74.7h0.7M50.6 78.0h0.7M49.4 72.8h0.7M55.7 62.0h0.7M61.8 53.1h0.7M63.7 58.6h0.7M49.4 75.4h0.7M50.1 73.1h0.7M62.9 73.7h0.7M60.9 74.5h0.7M54.4 58.0h0.7M44.8 90.3h0.7M47.1 87.2h0.7M65.3 57.2h0.7M54.6 67.3h0.7M57.4 62.6h0.7M52.0 70.1h0.7M62.0 53.0h0.7M54.6 59.1h0.7M46.6 69.0h0.7M58.6 69.8h0.7M56.9 61.7h0.7M59.5 59.1h0.7M60.6 63.2h0.7M50.1 53.8h0.7M51.8 80.7h0.7M65.7 73.3h0.7M53.2 66.7h0.7M69.0 53.1h0.7M71.4 49.1h0.7M58.7 70.0h0.7M50.0 72.3h0.7M52.5 70.7h0.7M60.0 57.1h0.7M57.0 61.5h0.7M51.2 49.8h0.7M56.4 68.5h0.7M54.3 79.2h0.7M63.7 67.5h0.7M65.9 58.5h0.7M51.5 64.4h0.7M53.7 66.8h0.7M56.7 62.3h0.7M70.1 32.1h0.7M62.6 53.4h0.7M59.3 70.9h0.7M52.0 62.6h0.7M58.9 61.5h0.7M44.5 86.4h0.7M47.1 74.1h0.7M61.4 62.2h0.7M64.2 74.9h0.7M57.1 60.2h0.7M58.0 63.4h0.7M56.6 85.2h0.7M54.7 67.0h0.7M57.4 74.2h0.7M64.3 70.5h0.7M68.9 63.0h0.7M57.8 68.2h0.7M53.5 69.7h0.7M43.4 81.0h0.7M48.2 73.3h0.7M65.9 55.0h0.7M68.5 56.6h0.7M67.1 60.0h0.7M56.4 74.1h0.7M52.7 67.6h0.7M73.7 60.6h0.7M57.9 80.3h0.7M58.8 55.7h0.7M60.3 64.4h0.7M57.9 61.4h0.7M48.8 78.4h0.7M65.8 59.9h0.7M65.8 62.7h0.7M50.4 75.4h0.7M63.3 65.5h0.7M60.2 65.9h0.7M66.6 70.6h0.7M42.8 86.9h0.7M73.9 42.9h0.7M45.8 84.0h0.7M44.9 77.9h0.7M65.6 68.6h0.7M62.8 63.4h0.7M64.4 56.8h0.7M51.1 74.0h0.7M58.0 62.0h0.7M51.2 71.4h0.7M43.1 77.6h0.7M54.9 65.9h0.7M63.1 69.6h0.7M58.8 63.0h0.7M45.0 74.3h0.7M55.8 60.0h0.7M55.3 58.9h0.7M57.6 64.5h0.7M61.8 55.4h0.7M55.6 70.3h0.7M64.4 70.2h0.7M53.1 67.0h0.7M56.9 70.4h0.7M61.4 65.7h0.7M58.4 86.2h0.7M68.7 48.3h0.7M49.9 78.0h0.7M50.4 55.8h0.7M50.9 61.7h0.7M65.7 65.5h0.7M57.4 51.9h0.7M69.7 55.3h0.7M56.8 70.9h0.7M65.4 50.5h0.7M54.6 64.6h0.7M55.5 48.9h0.7M62.1 49.7h0.7M56.2 52.6h0.7M48.5 73.3h0.7M55.6 53.5h0.7M58.2 58.4h0.7M63.7 53.2h0.7M59.4 60.9h0.7M67.0 47.8h0.7M65.1 71.8h0.7M60.3 67.2h0.7M53.1 73.6h0.7M42.8 88.0h0.7M46.6 68.0h0.7M52.6 82.8h0.7M53.4 57.7h0.7M65.8 46.7h0.7M55.7 70.2h0.7M43.0 72.4h0.7M57.1 76.4h0.7M56.6 52.5h0.7M64.9 54.6h0.7M60.4 61.3h0.7M55.5 59.2h0.7M48.2 72.8h0.7M57.2 71.3h0.7M55.8 82.1h0.7M50.5 70.4h0.7M63.3 60.5h0.7M50.4 66.3h0.7M43.9 71.1h0.7M68.9 58.1h0.7M71.1 49.5h0.7M62.3 64.9h0.7M62.0 56.2h0.7M68.2 68.6h0.7M40.3 78.3h0.7M53.9 77.3h0.7M63.2 53.7h0.7M61.1 59.4h0.7M56.7 61.6h0.7M56.8 66.2h0.7M73.6 61.4h0.7M47.5 84.9h0.7M61.0 68.7h0.7M67.1 58.0h0.7M58.3 55.6h0.7M53.0 87.0h0.7M60.8 51.7h0.7M68.1 55.5h0.7M44.9 92.1h0.7M55.5 78.7h0.7M49.5 70.5h0.7M46.2 80.2h0.7M60.8 54.4h0.7M53.9 89.8h0.7M71.8 50.2h0.7M48.5 67.8h0.7M48.8 83.3h0.7M61.0 50.6h0.7M55.8 65.2h0.7M57.4 69.9h0.7M67.8 44.1h0.7M67.0 60.9h0.7M54.5 68.3h0.7M52.8 81.9h0.7M50.9 69.3h0.7M53.9 63.0h0.7M49.0 75.2h0.7M65.7 51.1h0.7M54.3 56.8h0.7M52.0 89.8h0.7M48.0 65.5h0.7M58.8 68.7h0.7M42.2 80.1h0.7M54.8 60.9h0.7M66.1 61.0h0.7M58.1 60.5h0.7M54.1 64.7h0.7M57.5 68.1h0.7M59.1 71.6h0.7M71.5 39.5h0.7M62.6 65.0h0.7M60.2 59.1h0.7M58.1 73.4h0.7M63.1 61.4h0.7M54.4 75.5h0.7M61.4 57.8h0.7M70.2 65.9h0.7M47.4 85.8h0.7M43.7 73.5h0.7M57.8 69.8h0.7M52.5 62.2h0.7M45.4 78.3h0.7M53.6 63.5h0.7M54.6 85.4h0.7M50.9 73.6h0.7M51.0 69.6h0.7M56.0 64.8h0.7M56.1 56.7h0.7" stroke="#44489c" stroke-width="0.7" fill="none" opacity="0.62"/>
<path d="M46.6 88.7h0.75M52.7 87.7h0.75M47.2 77.5h0.75M39.3 89.7h0.75M50.3 87.8h0.75M39.0 74.7h0.75M41.9 79.3h0.75M47.8 80.1h0.75M54.7 82.0h0.75M44.3 89.2h0.75M48.6 80.6h0.75M41.1 83.8h0.75M41.8 75.6h0.75M50.0 88.4h0.75M51.7 87.1h0.75M43.8 79.3h0.75M41.6 88.7h0.75M49.3 75.7h0.75M51.3 91.1h0.75M47.2 79.1h0.75M55.6 78.6h0.75M46.6 75.7h0.75M40.9 76.7h0.75M52.3 90.7h0.75M45.0 78.4h0.75M46.7 86.8h0.75M39.6 79.4h0.75M46.5 88.4h0.75M47.4 87.2h0.75M40.9 72.9h0.75M48.5 80.5h0.75M46.4 83.2h0.75M49.3 81.2h0.75M54.0 85.2h0.75M49.6 88.1h0.75M52.1 87.0h0.75M56.1 87.3h0.75M49.7 87.3h0.75M43.9 81.7h0.75M43.8 90.7h0.75M49.2 79.2h0.75M55.5 86.7h0.75M52.8 86.1h0.75M45.4 85.8h0.75M41.5 79.1h0.75M42.6 82.4h0.75M40.4 84.5h0.75M56.0 84.8h0.75M51.3 83.9h0.75M48.9 84.8h0.75M44.3 85.4h0.75M39.7 87.2h0.75M45.6 79.7h0.75M45.2 87.7h0.75M43.7 87.3h0.75M49.8 92.7h0.75M41.7 84.5h0.75M49.5 92.4h0.75M48.3 88.7h0.75M39.8 82.1h0.75M55.2 83.6h0.75M57.6 81.4h0.75M45.6 77.1h0.75M50.1 86.3h0.75M56.9 85.8h0.75M45.8 78.1h0.75M46.6 89.7h0.75M50.7 91.1h0.75M51.3 84.8h0.75M50.0 85.9h0.75M48.8 79.8h0.75M48.9 86.4h0.75M51.9 92.1h0.75M54.6 80.3h0.75M48.7 86.7h0.75M41.5 82.7h0.75M48.0 88.7h0.75M57.8 86.5h0.75M44.0 73.3h0.75M52.3 84.3h0.75M46.5 80.1h0.75M50.6 76.1h0.75M47.5 85.6h0.75M48.5 91.5h0.75M46.5 85.5h0.75M51.2 77.3h0.75M45.6 85.3h0.75M51.7 81.0h0.75M51.0 86.9h0.75M39.6 77.7h0.75M39.9 85.7h0.75M48.0 88.6h0.75M51.1 82.3h0.75M52.3 89.1h0.75M49.3 87.4h0.75M40.6 86.8h0.75M41.9 79.1h0.75M45.3 85.7h0.75M46.7 83.4h0.75M42.0 85.9h0.75M43.3 78.0h0.75M47.5 92.2h0.75M45.0 79.7h0.75M45.5 84.0h0.75M47.7 89.9h0.75M49.2 75.9h0.75M41.5 78.9h0.75M49.2 85.5h0.75M55.9 83.7h0.75M48.5 85.4h0.75M48.4 92.3h0.75M53.5 82.0h0.75M50.4 83.1h0.75M47.5 85.8h0.75M47.1 82.7h0.75M54.8 83.7h0.75M50.1 90.1h0.75M53.9 90.4h0.75M55.6 77.9h0.75M56.8 85.1h0.75M40.0 84.9h0.75M39.6 80.0h0.75M48.5 85.8h0.75M43.0 83.8h0.75M46.5 85.4h0.75M47.0 83.9h0.75M51.4 77.0h0.75M44.5 85.7h0.75M45.0 82.2h0.75M44.8 86.0h0.75M53.2 84.1h0.75M45.7 86.8h0.75M45.8 75.3h0.75M48.3 83.1h0.75M44.1 88.1h0.75M47.2 82.2h0.75M47.1 84.4h0.75M49.2 86.1h0.75M44.6 78.7h0.75M41.5 84.3h0.75M41.3 88.8h0.75M40.4 76.0h0.75M46.0 76.1h0.75M55.1 80.0h0.75M46.7 83.8h0.75M42.9 76.2h0.75M39.7 87.8h0.75M46.9 89.2h0.75M44.4 88.6h0.75M51.5 88.0h0.75M54.2 84.1h0.75M54.7 81.5h0.75M55.3 71.3h0.75M47.1 81.0h0.75M47.0 90.2h0.75M50.6 85.5h0.75M55.5 77.6h0.75M42.9 92.5h0.75M48.6 74.6h0.75M48.7 79.1h0.75M54.4 90.7h0.75M44.3 91.5h0.75M42.8 89.6h0.75M49.9 84.4h0.75M39.9 83.6h0.75M42.2 72.8h0.75M49.9 86.8h0.75M50.9 85.3h0.75M43.8 70.2h0.75M49.4 89.8h0.75M44.0 77.9h0.75M46.8 76.6h0.75M47.0 88.9h0.75M54.5 86.3h0.75M48.0 88.7h0.75M54.0 83.4h0.75M40.9 81.0h0.75M40.7 80.6h0.75M46.4 86.7h0.75M47.8 85.3h0.75M45.2 87.1h0.75M51.4 88.8h0.75M54.5 83.5h0.75M48.0 87.1h0.75M45.3 89.8h0.75M45.0 80.0h0.75M46.7 82.8h0.75M51.2 83.1h0.75M47.6 83.9h0.75M48.7 81.8h0.75M52.5 77.9h0.75M45.1 81.5h0.75M50.2 85.2h0.75M49.4 83.3h0.75M43.4 79.4h0.75M45.3 82.3h0.75M48.4 86.8h0.75M51.9 84.5h0.75M43.3 79.7h0.75M47.3 86.8h0.75M56.7 85.9h0.75M41.8 91.1h0.75M52.7 91.7h0.75M47.0 89.8h0.75M44.6 84.6h0.75M45.9 89.8h0.75M47.3 81.5h0.75M48.2 88.3h0.75M43.4 88.2h0.75M43.4 80.6h0.75M48.1 83.8h0.75M42.1 76.9h0.75M47.1 86.2h0.75M44.7 85.9h0.75M39.4 87.0h0.75M49.1 86.4h0.75M43.9 85.4h0.75M47.7 90.3h0.75M48.4 86.3h0.75M43.4 89.3h0.75M52.9 82.5h0.75M50.2 86.5h0.75M46.8 78.6h0.75M55.8 75.7h0.75M48.5 83.1h0.75M52.7 82.9h0.75M47.2 88.1h0.75M49.3 82.4h0.75M50.4 87.0h0.75M51.9 82.4h0.75M46.8 83.0h0.75M42.8 86.3h0.75M49.0 92.1h0.75M45.4 86.9h0.75M52.7 84.4h0.75M47.3 85.7h0.75M43.6 80.1h0.75M52.6 85.9h0.75M46.6 78.8h0.75M47.6 90.8h0.75M41.3 80.6h0.75M52.5 92.1h0.75M54.7 82.2h0.75M50.0 81.3h0.75M49.6 83.2h0.75M48.0 91.7h0.75M48.7 83.8h0.75M47.3 86.3h0.75M44.4 86.0h0.75M50.0 92.8h0.75M40.8 89.4h0.75M59.1 86.0h0.75M47.6 90.7h0.75M44.5 82.6h0.75M48.7 82.1h0.75M52.5 85.0h0.75M44.8 89.6h0.75M42.9 91.2h0.75M51.8 85.7h0.75M51.9 93.0h0.75M53.8 85.0h0.75M46.7 90.5h0.75M39.7 82.0h0.75M49.4 87.8h0.75M48.6 87.2h0.75M40.5 84.1h0.75M48.3 83.9h0.75M47.3 88.0h0.75M42.3 82.2h0.75M41.8 76.6h0.75M50.8 83.9h0.75M51.8 83.2h0.75M57.5 88.5h0.75M47.7 85.6h0.75M46.0 89.0h0.75M56.9 82.9h0.75M41.6 88.0h0.75M52.3 77.6h0.75M43.6 80.1h0.75M49.8 87.5h0.75M43.4 79.4h0.75M50.4 74.8h0.75M50.2 84.2h0.75M56.5 89.9h0.75M44.1 83.6h0.75M45.6 81.4h0.75M47.4 89.8h0.75M39.6 83.9h0.75M54.4 88.7h0.75M43.0 81.0h0.75M42.8 77.1h0.75M52.7 85.3h0.75M43.6 77.9h0.75M45.1 82.5h0.75M55.5 82.7h0.75M47.6 90.3h0.75M50.3 84.1h0.75M49.9 82.9h0.75M46.6 80.3h0.75M42.6 77.7h0.75M49.5 87.5h0.75M47.9 88.8h0.75M49.6 85.6h0.75M42.7 87.9h0.75M52.8 88.1h0.75M53.1 82.7h0.75M42.2 91.1h0.75M44.1 86.2h0.75M46.1 85.1h0.75M45.7 82.4h0.75M48.0 75.6h0.75M42.5 79.5h0.75M43.4 72.5h0.75M49.8 93.0h0.75M45.8 88.6h0.75M49.9 78.9h0.75M53.0 76.7h0.75M44.2 83.2h0.75M53.2 85.6h0.75M46.4 81.1h0.75M47.4 85.2h0.75M50.6 91.8h0.75M50.6 85.1h0.75M46.3 92.8h0.75M48.0 84.9h0.75M55.8 92.7h0.75M49.8 84.5h0.75M43.9 90.2h0.75M44.8 89.7h0.75M43.2 85.5h0.75M49.0 85.7h0.75M48.1 86.9h0.75M41.5 79.6h0.75M46.4 80.5h0.75M43.8 85.2h0.75M52.8 82.2h0.75M49.7 85.9h0.75M45.3 80.4h0.75M46.3 81.5h0.75M49.6 76.4h0.75M52.5 88.7h0.75M49.8 92.3h0.75M49.9 76.7h0.75M47.3 87.2h0.75M43.7 79.5h0.75M49.1 87.5h0.75M44.9 83.8h0.75M44.5 82.2h0.75M46.7 90.2h0.75M39.1 83.3h0.75" stroke="#6c70c0" stroke-width="0.75" fill="none" opacity="0.62"/>
<path d="M50.4 78.6h0.75M44.4 80.4h0.75M48.5 63.6h0.75M47.6 60.9h0.75M44.6 80.7h0.75M48.3 68.4h0.75M45.9 79.1h0.75M54.6 60.1h0.75M54.6 54.4h0.75M50.7 68.0h0.75M39.7 84.3h0.75M49.0 79.4h0.75M47.2 75.7h0.75M45.5 72.8h0.75M55.5 70.1h0.75M44.6 74.3h0.75M46.5 81.4h0.75M44.8 71.7h0.75M50.7 64.5h0.75M48.9 70.5h0.75M48.0 78.5h0.75M44.5 73.5h0.75M48.3 68.8h0.75M41.8 81.3h0.75M52.0 60.7h0.75M41.9 79.0h0.75M56.8 69.1h0.75M47.2 71.1h0.75M41.6 75.1h0.75M45.9 76.0h0.75M54.2 75.0h0.75M46.2 81.3h0.75M47.3 68.7h0.75M48.8 81.4h0.75M51.3 66.1h0.75M47.6 79.1h0.75M47.9 87.9h0.75M48.3 77.1h0.75M49.2 70.0h0.75M47.0 76.2h0.75M44.9 83.0h0.75M49.8 70.4h0.75M43.7 86.6h0.75M43.2 76.0h0.75M46.6 78.7h0.75M48.7 74.0h0.75M40.7 86.4h0.75M56.9 65.9h0.75M47.0 69.2h0.75M41.3 74.5h0.75M48.8 69.9h0.75M46.9 84.7h0.75M43.5 78.3h0.75M42.7 82.6h0.75M48.8 74.5h0.75M51.1 69.4h0.75M43.8 86.3h0.75M44.0 77.6h0.75M39.0 78.7h0.75M53.1 67.6h0.75M51.5 77.2h0.75M47.1 61.5h0.75M50.4 73.2h0.75M55.7 64.0h0.75M43.2 81.1h0.75M42.7 78.1h0.75M44.8 76.1h0.75M39.9 91.0h0.75M40.7 78.1h0.75M54.7 67.4h0.75M38.9 91.3h0.75M60.6 53.4h0.75M52.5 61.0h0.75M50.5 69.0h0.75M48.4 67.0h0.75M49.5 70.9h0.75M45.3 71.1h0.75M51.2 68.2h0.75M56.1 63.2h0.75M49.5 71.7h0.75M53.7 71.3h0.75M50.0 63.1h0.75M50.3 81.3h0.75M45.2 70.0h0.75M38.8 84.0h0.75M55.5 59.4h0.75M44.3 81.1h0.75M45.3 77.5h0.75M45.9 75.4h0.75M50.1 69.0h0.75M47.4 75.7h0.75M49.3 68.9h0.75M43.3 74.5h0.75M58.0 57.1h0.75M40.6 83.3h0.75M52.1 69.9h0.75M54.3 68.5h0.75M46.6 71.8h0.75M46.0 64.3h0.75M44.2 71.4h0.75M48.2 69.0h0.75M42.6 78.7h0.75M52.8 73.0h0.75M45.7 88.2h0.75M49.7 78.0h0.75M40.4 77.0h0.75M45.2 74.9h0.75M42.7 69.3h0.75M51.0 67.3h0.75M41.8 86.9h0.75M50.1 69.2h0.75M61.4 61.2h0.75M43.0 75.8h0.75M53.6 56.1h0.75M44.7 80.5h0.75M39.5 83.8h0.75M44.1 83.6h0.75M42.7 71.9h0.75M44.2 91.2h0.75M50.7 75.8h0.75M49.8 69.6h0.75M52.6 70.3h0.75M54.8 58.8h0.75M46.4 75.7h0.75M41.0 70.8h0.75M58.2 65.7h0.75M40.9 69.6h0.75M46.3 71.7h0.75M48.4 62.2h0.75M41.2 77.1h0.75M43.9 80.1h0.75M41.8 76.9h0.75M45.4 74.1h0.75M49.5 75.5h0.75M52.0 61.1h0.75M44.3 79.9h0.75M45.5 72.6h0.75M46.8 61.6h0.75M43.5 84.2h0.75M52.2 61.1h0.75M51.6 61.8h0.75M39.2 88.1h0.75M48.4 73.3h0.75M51.3 72.6h0.75M47.2 76.0h0.75M53.6 63.6h0.75M45.8 81.6h0.75M50.4 50.5h0.75M39.1 84.0h0.75M44.6 79.1h0.75M45.3 81.4h0.75M47.3 68.7h0.75M45.9 79.1h0.75M47.4 77.3h0.75M41.6 81.6h0.75M44.5 82.6h0.75M39.3 72.3h0.75M44.7 74.0h0.75M46.8 71.0h0.75M46.3 76.9h0.75M53.9 53.8h0.75M42.8 77.0h0.75M43.0 76.1h0.75M49.4 66.4h0.75M44.3 88.1h0.75M46.9 73.5h0.75M54.6 65.3h0.75M40.4 81.4h0.75M51.4 71.5h0.75M43.5 75.6h0.75M44.8 68.3h0.75M55.3 55.1h0.75M45.9 80.6h0.75M55.3 64.6h0.75M46.3 66.1h0.75M45.4 70.3h0.75M45.9 77.7h0.75M55.1 67.7h0.75M49.0 76.3h0.75M43.1 73.5h0.75M41.2 80.6h0.75M53.0 71.1h0.75M44.0 73.8h0.75M40.7 79.4h0.75M50.3 68.4h0.75M42.4 78.6h0.75M45.5 71.4h0.75M44.6 85.0h0.75M48.5 75.6h0.75M49.4 81.4h0.75M46.1 79.0h0.75M48.1 77.1h0.75M52.4 61.6h0.75M57.7 66.9h0.75M43.4 65.6h0.75M48.1 86.0h0.75M44.3 75.2h0.75M54.2 58.8h0.75M45.0 75.8h0.75M54.8 66.5h0.75M46.3 58.8h0.75M47.7 75.1h0.75M46.9 75.3h0.75M51.0 63.1h0.75M46.9 77.6h0.75M44.1 84.3h0.75M52.1 54.4h0.75M42.9 75.8h0.75M44.3 79.5h0.75M58.2 74.5h0.75M48.7 69.2h0.75M45.8 78.3h0.75M39.3 82.7h0.75M48.7 79.0h0.75M47.6 72.0h0.75M39.8 76.7h0.75M46.0 68.8h0.75M53.3 68.3h0.75M42.3 79.8h0.75M54.9 71.3h0.75M52.6 70.5h0.75M46.3 78.2h0.75M39.9 80.3h0.75M52.0 76.9h0.75M52.1 65.4h0.75M51.9 77.0h0.75M40.5 78.1h0.75M45.3 66.7h0.75M55.7 72.2h0.75M47.3 68.7h0.75M43.3 77.5h0.75M54.9 68.3h0.75M54.9 60.8h0.75M51.7 75.4h0.75M39.3 84.7h0.75M41.6 84.3h0.75M44.0 88.2h0.75M44.5 73.3h0.75M48.8 73.0h0.75M54.0 70.7h0.75M44.8 85.8h0.75M45.0 63.9h0.75M46.4 68.6h0.75M48.8 73.2h0.75M48.9 70.6h0.75M45.0 77.6h0.75M52.0 69.1h0.75M49.5 68.0h0.75M51.8 62.8h0.75M47.3 80.5h0.75M49.2 68.6h0.75M48.1 68.3h0.75M61.0 69.2h0.75M41.5 76.8h0.75M54.6 62.8h0.75M39.5 75.5h0.75M45.3 74.0h0.75M49.1 69.7h0.75M47.7 71.5h0.75M50.9 75.0h0.75" stroke="#6468b8" stroke-width="0.75" fill="none" opacity="0.62"/>
<path d="M67.5 48.1h0.7M57.9 45.0h0.7M68.2 83.6h0.7M85.8 59.5h0.7M94.7 71.2h0.7M71.3 53.5h0.7M50.4 59.7h0.7M62.9 32.2h0.7M47.4 85.0h0.7M71.4 63.5h0.7M71.2 49.0h0.7M75.4 72.3h0.7M63.1 63.7h0.7M84.4 48.8h0.7M70.7 44.9h0.7M77.6 50.5h0.7M86.3 44.5h0.7M95.0 51.3h0.7M54.6 42.4h0.7M78.6 43.2h0.7M96.9 75.2h0.7M76.3 34.7h0.7M67.6 45.1h0.7M39.0 62.4h0.7M103.2 48.0h0.7M80.9 75.3h0.7M52.6 50.9h0.7M72.3 63.1h0.7M49.7 59.2h0.7M66.3 70.3h0.7M42.4 47.5h0.7M59.9 51.2h0.7M79.6 46.6h0.7M81.4 71.3h0.7M83.4 52.9h0.7M54.7 52.2h0.7M78.7 57.8h0.7M77.3 64.6h0.7M53.9 42.0h0.7M91.1 48.7h0.7M42.6 83.9h0.7M54.7 42.0h0.7M83.5 39.0h0.7M54.1 71.7h0.7M70.1 56.8h0.7M57.7 52.7h0.7M60.0 55.6h0.7M80.3 36.9h0.7M53.3 24.6h0.7M92.1 54.9h0.7M67.8 55.1h0.7M84.1 60.8h0.7M81.6 53.5h0.7M66.1 55.2h0.7M42.8 41.1h0.7M78.7 56.8h0.7M81.0 81.6h0.7M97.8 76.7h0.7M64.4 86.7h0.7M53.9 54.7h0.7M83.9 52.8h0.7M66.1 50.7h0.7M88.4 71.9h0.7M66.8 64.4h0.7M52.5 72.6h0.7M90.3 55.2h0.7M62.6 48.7h0.7M65.0 37.2h0.7M46.3 80.9h0.7M67.7 64.3h0.7M73.0 63.2h0.7M43.6 41.8h0.7M78.1 71.0h0.7M49.7 47.3h0.7M50.9 65.8h0.7M73.5 56.5h0.7M57.6 61.1h0.7M68.5 44.8h0.7M73.3 46.0h0.7M83.2 65.4h0.7M57.0 64.8h0.7M69.1 45.4h0.7M53.4 31.1h0.7M49.9 61.2h0.7M87.3 46.6h0.7M70.6 61.2h0.7M80.5 62.6h0.7M87.6 67.5h0.7M55.8 62.0h0.7M68.3 64.7h0.7M63.2 68.5h0.7M89.1 43.4h0.7M59.3 59.9h0.7M75.8 58.2h0.7M81.3 38.3h0.7M80.4 73.5h0.7M85.8 62.4h0.7M64.2 62.0h0.7M66.8 32.2h0.7M58.3 55.4h0.7M59.7 42.0h0.7M64.3 50.4h0.7M69.1 55.3h0.7M70.8 70.9h0.7M70.2 62.1h0.7M61.6 66.2h0.7M62.6 46.7h0.7M48.2 69.4h0.7M59.6 59.7h0.7M86.1 64.0h0.7M103.9 54.0h0.7M83.3 66.4h0.7M57.5 56.7h0.7M59.0 40.6h0.7M72.8 44.4h0.7M94.9 44.9h0.7M59.3 57.4h0.7M59.7 56.8h0.7M58.3 34.7h0.7M92.3 62.7h0.7M70.5 49.0h0.7M65.7 60.5h0.7M45.8 44.0h0.7M53.8 74.9h0.7M51.1 73.6h0.7M66.7 56.5h0.7M89.6 69.1h0.7M83.0 40.0h0.7M86.2 81.2h0.7M66.4 48.7h0.7M50.5 71.3h0.7M72.7 56.1h0.7M48.2 80.3h0.7M82.0 55.7h0.7M91.6 41.7h0.7M82.1 41.0h0.7M90.6 51.9h0.7M87.6 49.8h0.7M74.4 73.1h0.7M53.6 57.5h0.7M54.6 68.8h0.7M58.3 50.4h0.7M64.8 73.5h0.7M51.3 55.6h0.7M62.7 47.8h0.7M55.4 53.6h0.7M71.1 32.8h0.7M71.7 38.2h0.7M68.2 90.2h0.7M52.5 55.0h0.7M63.9 70.7h0.7M60.4 29.2h0.7M42.2 58.7h0.7M72.1 72.0h0.7M59.4 66.0h0.7M51.0 75.4h0.7M66.9 45.8h0.7M70.8 82.1h0.7M54.4 37.4h0.7M51.8 38.7h0.7M67.2 61.3h0.7M65.4 59.0h0.7M87.0 51.7h0.7M71.9 45.8h0.7M64.0 62.1h0.7M75.4 32.5h0.7M52.7 57.1h0.7M65.7 73.2h0.7M60.0 25.0h0.7M86.7 31.5h0.7M52.5 61.8h0.7M71.8 64.0h0.7M61.0 89.3h0.7M76.6 45.2h0.7M88.1 30.7h0.7M58.6 60.3h0.7M70.2 41.6h0.7M93.3 78.1h0.7M53.0 61.6h0.7M57.9 49.5h0.7M83.8 57.9h0.7M66.3 57.5h0.7M49.2 74.3h0.7M56.0 75.6h0.7M60.7 49.2h0.7M91.8 58.9h0.7M57.8 48.0h0.7M77.7 84.1h0.7M77.8 50.1h0.7M50.1 45.9h0.7M66.1 59.7h0.7M57.5 75.2h0.7M52.7 45.3h0.7M76.0 63.2h0.7M61.8 70.4h0.7M45.5 80.5h0.7M103.0 85.3h0.7M69.9 85.5h0.7M68.9 75.9h0.7M64.8 58.9h0.7M76.4 29.8h0.7M64.7 81.8h0.7M82.7 60.9h0.7M71.1 76.8h0.7M73.4 27.6h0.7M52.9 51.6h0.7M70.3 49.3h0.7M66.3 81.0h0.7M83.0 65.0h0.7M68.2 57.0h0.7M73.8 59.6h0.7M56.4 67.7h0.7M54.8 55.4h0.7M62.3 38.7h0.7M77.7 55.0h0.7M49.4 54.8h0.7M46.0 77.5h0.7M76.3 85.8h0.7M58.9 66.6h0.7M52.5 43.2h0.7M66.6 62.2h0.7M82.8 52.0h0.7M85.6 70.4h0.7M54.0 53.3h0.7M53.4 81.5h0.7M59.2 69.2h0.7M82.6 52.2h0.7M60.2 61.1h0.7M55.6 37.1h0.7M52.6 61.1h0.7M71.1 82.3h0.7M38.9 63.5h0.7M49.6 73.3h0.7M79.1 57.9h0.7M91.5 50.4h0.7M59.6 40.3h0.7M57.5 57.7h0.7M78.7 75.1h0.7M63.7 45.1h0.7M62.7 49.6h0.7M60.6 50.0h0.7M54.1 55.2h0.7M59.8 53.5h0.7M46.0 58.2h0.7M77.1 65.7h0.7M59.3 39.0h0.7M47.3 38.5h0.7M57.8 51.4h0.7M39.8 66.0h0.7M43.6 45.8h0.7M56.5 68.3h0.7M97.2 50.7h0.7M63.6 50.2h0.7M64.8 53.5h0.7M107.2 39.8h0.7M66.3 44.3h0.7M73.7 48.3h0.7M77.1 39.9h0.7M101.5 59.1h0.7M40.0 66.4h0.7M60.6 38.9h0.7M75.0 48.3h0.7M79.7 47.9h0.7M82.3 58.2h0.7M73.7 58.3h0.7M62.2 50.6h0.7M75.2 66.5h0.7M61.5 89.2h0.7M94.8 39.0h0.7M85.2 55.0h0.7M71.7 44.3h0.7M94.1 43.8h0.7M66.7 45.3h0.7M98.6 74.6h0.7M47.1 49.4h0.7M73.8 49.6h0.7M62.4 40.1h0.7M72.0 39.9h0.7M81.2 91.5h0.7M62.9 80.3h0.7M73.9 46.1h0.7M62.6 41.8h0.7M69.8 66.4h0.7M82.7 51.9h0.7M49.2 54.9h0.7M94.4 60.2h0.7M67.0 25.4h0.7M61.2 64.1h0.7M53.1 75.9h0.7M59.1 43.2h0.7M58.9 54.7h0.7M83.8 47.7h0.7M39.9 54.9h0.7M76.2 78.7h0.7M50.3 77.9h0.7M78.7 62.7h0.7M55.9 43.0h0.7M53.0 69.8h0.7M71.5 71.8h0.7M96.6 56.3h0.7M67.3 84.3h0.7M47.5 49.5h0.7M62.2 50.5h0.7M70.3 43.7h0.7M86.3 36.0h0.7M55.2 31.2h0.7M45.9 64.7h0.7M77.9 53.2h0.7M81.3 65.1h0.7M58.9 55.5h0.7M73.8 85.6h0.7M61.1 61.5h0.7M76.6 74.0h0.7M74.7 71.8h0.7M51.3 52.2h0.7M104.7 59.6h0.7M69.4 60.0h0.7M70.3 36.6h0.7M57.1 53.5h0.7M70.7 43.4h0.7" stroke="#8c8cd8" stroke-width="0.7" fill="none" opacity="0.6"/>
<path d="M66.9 74.8h0.8M61.4 75.1h0.8M63.8 79.9h0.8M73.5 79.1h0.8M66.4 75.4h0.8M60.3 75.5h0.8M74.5 80.9h0.8M68.4 76.4h0.8M67.4 78.6h0.8M67.4 78.6h0.8M63.9 77.4h0.8M65.8 80.7h0.8M61.8 81.4h0.8M67.0 75.6h0.8M67.5 77.6h0.8M66.3 78.6h0.8M64.8 71.8h0.8M70.5 77.1h0.8M74.9 78.5h0.8M58.4 81.2h0.8M64.3 79.0h0.8M77.4 80.7h0.8M62.5 76.9h0.8M60.1 79.4h0.8M69.9 73.9h0.8M69.4 80.2h0.8M71.1 75.1h0.8M64.3 73.6h0.8M61.6 78.2h0.8M67.6 81.4h0.8M68.6 76.2h0.8M61.0 82.2h0.8M68.1 77.1h0.8M62.9 73.9h0.8M70.3 74.1h0.8M70.0 79.2h0.8M65.7 72.0h0.8M69.3 81.7h0.8M63.7 73.2h0.8M72.3 77.7h0.8M64.6 81.2h0.8M66.2 78.7h0.8M65.6 74.8h0.8M68.4 74.5h0.8M59.4 75.5h0.8M73.0 80.8h0.8M77.2 80.4h0.8M74.7 78.0h0.8M65.4 78.7h0.8M63.1 79.6h0.8M65.4 78.1h0.8M63.6 76.8h0.8M71.8 76.5h0.8M64.4 78.1h0.8M71.4 76.6h0.8M62.1 72.2h0.8M61.4 80.6h0.8M67.0 78.8h0.8M72.2 78.1h0.8M69.6 75.6h0.8M60.1 79.2h0.8M67.0 79.1h0.8M62.6 76.8h0.8M76.5 74.5h0.8M67.8 81.4h0.8M66.4 77.6h0.8M57.8 79.7h0.8M65.4 81.3h0.8M67.0 76.0h0.8M69.4 76.5h0.8M65.1 82.2h0.8M71.8 77.6h0.8M71.0 79.9h0.8M70.0 77.4h0.8M67.7 78.5h0.8M69.9 78.4h0.8M64.9 77.0h0.8M69.5 74.1h0.8M67.4 79.7h0.8M68.2 76.3h0.8M67.3 75.7h0.8M71.8 76.0h0.8M59.9 73.4h0.8M68.8 77.9h0.8M65.3 73.1h0.8M66.7 74.6h0.8M64.4 77.2h0.8M63.9 78.2h0.8M64.1 75.8h0.8M66.4 81.9h0.8M74.5 80.2h0.8M64.1 77.3h0.8M71.5 79.8h0.8M60.1 77.1h0.8M64.1 79.6h0.8M70.3 75.6h0.8M77.0 76.4h0.8M78.4 76.7h0.8M67.0 83.2h0.8M65.0 75.8h0.8M74.0 77.1h0.8M69.6 73.3h0.8M75.5 80.4h0.8M69.0 79.5h0.8M65.1 75.8h0.8M60.3 78.4h0.8M73.0 80.0h0.8M71.5 79.5h0.8M63.3 73.1h0.8M70.3 77.8h0.8M71.8 76.4h0.8M63.4 78.7h0.8M64.9 72.1h0.8M64.7 74.5h0.8M62.4 75.5h0.8M71.7 84.7h0.8M75.2 75.9h0.8M72.5 77.0h0.8M69.2 75.1h0.8M67.1 72.0h0.8M75.5 74.8h0.8M70.0 75.4h0.8M68.6 73.6h0.8M65.7 80.1h0.8M70.1 71.1h0.8M71.2 73.1h0.8M68.7 78.9h0.8M64.5 76.3h0.8M66.3 78.5h0.8M71.5 81.5h0.8M68.9 83.5h0.8M63.1 82.8h0.8M66.2 79.7h0.8M66.8 77.5h0.8M63.3 78.5h0.8M76.5 77.7h0.8M67.3 77.3h0.8M70.6 76.6h0.8M67.4 77.9h0.8M73.3 80.2h0.8M62.7 75.3h0.8M67.5 79.9h0.8M71.8 76.6h0.8M77.0 76.7h0.8M73.7 81.7h0.8M74.6 77.9h0.8M70.0 72.5h0.8M59.4 75.3h0.8M70.6 80.6h0.8M66.9 80.5h0.8M70.0 82.0h0.8M60.2 74.7h0.8M63.1 74.0h0.8M74.8 74.4h0.8M63.7 76.0h0.8M71.4 75.8h0.8M70.7 79.0h0.8M64.5 69.8h0.8M63.3 73.3h0.8M74.8 75.0h0.8M62.6 78.4h0.8M67.6 74.3h0.8M72.3 80.1h0.8M68.7 74.9h0.8M63.5 70.8h0.8M69.1 78.5h0.8M63.3 77.3h0.8M82.2 73.7h0.8M59.7 79.2h0.8M65.5 75.7h0.8M70.2 76.8h0.8M71.9 78.9h0.8M72.6 77.6h0.8M57.7 81.5h0.8M59.7 80.5h0.8M68.5 72.9h0.8M67.7 80.0h0.8M62.8 77.4h0.8M64.1 74.1h0.8M64.6 81.2h0.8M70.5 77.2h0.8M67.0 77.6h0.8M68.7 77.8h0.8M59.7 80.1h0.8M63.5 69.1h0.8M70.6 73.5h0.8M66.8 76.9h0.8M64.7 78.9h0.8M66.2 76.4h0.8M63.1 76.4h0.8M62.7 77.4h0.8M73.4 80.4h0.8M69.3 73.0h0.8M72.0 80.2h0.8M76.7 70.2h0.8M67.5 76.2h0.8M72.3 73.8h0.8M65.7 84.5h0.8M71.9 71.0h0.8M67.5 81.5h0.8M64.6 79.1h0.8M67.8 72.6h0.8M64.6 80.8h0.8M72.8 75.3h0.8M72.5 75.0h0.8M68.5 77.2h0.8M61.8 78.2h0.8M65.6 68.6h0.8M63.7 74.6h0.8M63.6 74.2h0.8M64.3 69.5h0.8M71.4 77.5h0.8M68.6 76.4h0.8M67.7 76.4h0.8M62.5 72.4h0.8M67.7 80.4h0.8M68.5 82.3h0.8M61.2 76.4h0.8M64.6 81.1h0.8M75.1 75.6h0.8M70.7 76.5h0.8M62.9 76.9h0.8M62.7 82.1h0.8M70.1 81.0h0.8M69.0 69.6h0.8M71.0 77.5h0.8M56.6 77.5h0.8M72.0 82.6h0.8M62.8 79.7h0.8M68.9 76.7h0.8M66.1 78.9h0.8M70.0 79.3h0.8M65.6 73.1h0.8M73.4 81.3h0.8M64.8 77.1h0.8M71.1 71.7h0.8M69.7 84.8h0.8M68.6 75.0h0.8M76.6 77.2h0.8M68.4 75.9h0.8M68.2 71.5h0.8M61.6 72.6h0.8M71.5 76.9h0.8M72.6 70.8h0.8M64.7 81.8h0.8M63.8 71.3h0.8M64.0 76.1h0.8M67.3 81.3h0.8M73.4 82.1h0.8M70.0 75.6h0.8M65.2 72.5h0.8M73.2 81.2h0.8M67.8 74.4h0.8M70.5 78.8h0.8M68.1 73.5h0.8M68.5 75.4h0.8M70.7 79.1h0.8M69.4 75.9h0.8M74.3 79.7h0.8M73.1 79.9h0.8M70.4 78.4h0.8M62.6 71.5h0.8M63.2 79.1h0.8M71.5 77.8h0.8M67.8 83.0h0.8M65.6 71.6h0.8M60.4 76.2h0.8M70.6 79.5h0.8M66.4 79.8h0.8M67.2 74.9h0.8M65.7 79.6h0.8M71.7 73.6h0.8M62.9 77.6h0.8M77.0 73.5h0.8M61.7 78.5h0.8M69.7 75.3h0.8M67.3 78.7h0.8M59.5 77.1h0.8M70.1 80.1h0.8M72.7 77.0h0.8M60.9 81.5h0.8M70.9 75.2h0.8M72.1 80.5h0.8M66.8 69.7h0.8M65.3 74.8h0.8M63.6 76.9h0.8M62.5 78.4h0.8M75.9 73.4h0.8M72.1 75.5h0.8M69.9 76.8h0.8M73.2 75.0h0.8M70.7 74.8h0.8M68.4 77.2h0.8M72.3 72.2h0.8M61.3 81.6h0.8M69.1 82.6h0.8M62.8 77.9h0.8M70.1 82.8h0.8M67.2 75.8h0.8M70.6 76.9h0.8M64.0 79.6h0.8M58.8 74.0h0.8M73.5 75.6h0.8M65.9 78.4h0.8M72.5 78.9h0.8M63.1 75.4h0.8M72.1 76.8h0.8M64.6 80.0h0.8M72.5 84.1h0.8M62.6 75.0h0.8M64.3 78.3h0.8M65.3 80.7h0.8M55.3 80.2h0.8M64.5 76.3h0.8M70.0 77.8h0.8M62.8 82.0h0.8M70.0 75.6h0.8M68.3 73.7h0.8M61.9 76.2h0.8M69.0 77.5h0.8M63.9 72.8h0.8M59.9 82.3h0.8M69.1 74.7h0.8M72.7 78.9h0.8M65.5 75.3h0.8M72.5 78.2h0.8M74.7 78.3h0.8M64.8 75.3h0.8M64.2 78.0h0.8M68.5 79.1h0.8M69.4 73.9h0.8M66.5 74.2h0.8M69.6 73.0h0.8M64.8 74.5h0.8M64.6 76.4h0.8M74.2 76.4h0.8M61.0 76.2h0.8M70.8 79.0h0.8M68.5 83.5h0.8M72.4 77.5h0.8M72.8 73.0h0.8M66.6 74.5h0.8M68.2 82.3h0.8M65.2 82.2h0.8M62.8 81.7h0.8M59.8 74.5h0.8M71.9 76.9h0.8M68.0 77.2h0.8M68.2 76.6h0.8M63.0 76.3h0.8M67.9 74.4h0.8M69.5 82.8h0.8M60.1 75.5h0.8M66.1 77.3h0.8M67.8 74.9h0.8M67.2 77.2h0.8M67.0 82.1h0.8M68.0 72.5h0.8M60.4 79.1h0.8M65.9 75.2h0.8M61.3 76.2h0.8M67.0 75.0h0.8M65.8 80.0h0.8M70.9 78.9h0.8M66.6 72.9h0.8M70.9 81.9h0.8M73.1 80.9h0.8M68.6 78.4h0.8M67.3 81.2h0.8M66.2 84.0h0.8M70.9 76.2h0.8M67.4 72.1h0.8M64.1 76.3h0.8M78.3 74.6h0.8M71.5 77.4h0.8M66.1 79.2h0.8M58.5 80.2h0.8M76.0 78.1h0.8M67.1 77.7h0.8M70.4 75.6h0.8M67.9 78.8h0.8M65.8 78.4h0.8M68.9 79.5h0.8M63.0 75.5h0.8M65.5 81.0h0.8M68.5 72.0h0.8M61.7 83.3h0.8M68.9 73.1h0.8M63.3 77.7h0.8M73.8 82.3h0.8M65.8 76.3h0.8M76.0 74.1h0.8M74.4 78.3h0.8M67.8 81.3h0.8M69.6 74.6h0.8M60.6 77.3h0.8M69.7 81.5h0.8M55.7 81.5h0.8M70.2 82.0h0.8M71.0 77.9h0.8M69.3 78.5h0.8M64.6 76.8h0.8M68.0 75.8h0.8M60.9 72.6h0.8M69.7 78.9h0.8M67.9 73.5h0.8M71.2 76.0h0.8M58.1 82.2h0.8M60.7 84.3h0.8M69.8 75.8h0.8M56.9 75.0h0.8M74.0 81.5h0.8M68.6 71.8h0.8M65.7 76.3h0.8M69.5 76.8h0.8M68.9 72.0h0.8M64.5 81.8h0.8M60.9 80.1h0.8M77.7 79.3h0.8M61.2 81.2h0.8M59.1 78.3h0.8M65.6 81.1h0.8M72.7 77.8h0.8M75.4 80.3h0.8M65.3 74.1h0.8M78.4 75.9h0.8M69.2 76.8h0.8M65.3 72.1h0.8M66.8 76.8h0.8M71.8 75.6h0.8M60.4 73.8h0.8M67.2 78.0h0.8M70.6 76.0h0.8M69.8 77.7h0.8M74.9 77.0h0.8M68.0 79.0h0.8M72.8 74.3h0.8M65.3 76.3h0.8M57.9 81.3h0.8M72.2 77.3h0.8M82.4 81.2h0.8M76.4 82.2h0.8M71.4 72.7h0.8M74.2 78.5h0.8M62.1 77.4h0.8M70.8 80.3h0.8M68.2 75.5h0.8M70.8 74.8h0.8M67.1 79.6h0.8M61.0 78.4h0.8M58.7 74.3h0.8M61.9 76.9h0.8M70.6 77.0h0.8M71.5 77.5h0.8M66.5 78.8h0.8M66.3 77.6h0.8M72.1 75.4h0.8M72.5 73.7h0.8M66.4 71.7h0.8M65.0 82.3h0.8M69.0 81.2h0.8M60.8 74.0h0.8M69.5 79.8h0.8M71.1 71.9h0.8M69.7 77.0h0.8M67.9 78.7h0.8M66.1 71.8h0.8M62.6 72.6h0.8M61.5 76.8h0.8M73.2 74.9h0.8M64.0 73.5h0.8M59.7 77.4h0.8M65.2 76.4h0.8M63.1 78.8h0.8M62.0 78.9h0.8M64.4 79.7h0.8M63.4 78.6h0.8M69.4 76.9h0.8M74.7 77.8h0.8M63.4 79.4h0.8M63.7 75.5h0.8M67.5 77.8h0.8M75.0 71.6h0.8M66.2 80.8h0.8M66.7 78.2h0.8M74.2 73.3h0.8M67.6 79.7h0.8M64.8 71.6h0.8M62.9 77.8h0.8M68.3 83.1h0.8M73.3 72.3h0.8M72.0 80.1h0.8M74.7 76.7h0.8M64.9 77.7h0.8M74.3 79.2h0.8M75.0 79.7h0.8M64.8 74.0h0.8M75.7 72.4h0.8M65.8 76.2h0.8M63.3 75.4h0.8M67.4 84.8h0.8M67.1 75.5h0.8M68.0 80.2h0.8M63.7 75.9h0.8M59.6 79.4h0.8M70.5 82.0h0.8M62.0 84.1h0.8M71.3 76.3h0.8M65.6 76.2h0.8M62.0 79.7h0.8M64.7 74.9h0.8M69.7 77.6h0.8M64.8 76.5h0.8M65.2 81.5h0.8M71.9 74.9h0.8M67.2 81.6h0.8M66.1 82.9h0.8M69.4 79.3h0.8M58.1 79.9h0.8M68.9 79.1h0.8" stroke="#5c66d0" stroke-width="0.8" fill="none" opacity="0.8"/>
<path d="M68.7 78.0h0.85M66.1 78.7h0.85M67.6 75.1h0.85M64.7 77.3h0.85M68.3 72.9h0.85M62.0 78.9h0.85M67.4 82.2h0.85M63.4 76.5h0.85M65.8 78.0h0.85M71.1 80.0h0.85M64.7 79.3h0.85M64.2 77.6h0.85M67.9 78.1h0.85M65.3 79.5h0.85M67.2 77.0h0.85M66.7 75.0h0.85M69.3 77.6h0.85M68.6 80.4h0.85M65.1 76.5h0.85M67.4 78.6h0.85M66.9 78.7h0.85M68.6 73.8h0.85M65.6 73.3h0.85M66.6 76.2h0.85M69.0 77.3h0.85M67.2 79.3h0.85M69.0 74.7h0.85M65.6 77.6h0.85M71.9 76.6h0.85M67.0 77.5h0.85M69.5 76.8h0.85M68.2 76.2h0.85M65.9 75.5h0.85M69.1 76.0h0.85M68.8 77.7h0.85M70.0 72.1h0.85M64.9 74.8h0.85M67.0 78.5h0.85M74.1 79.8h0.85M71.0 77.7h0.85M66.4 78.0h0.85M61.7 78.7h0.85M67.4 78.1h0.85M64.7 75.0h0.85M65.7 76.9h0.85M68.3 76.3h0.85M68.3 78.3h0.85M64.3 76.8h0.85M63.3 76.0h0.85M69.8 75.7h0.85M72.3 77.9h0.85M69.7 77.2h0.85M69.7 79.0h0.85M67.7 76.0h0.85M66.0 80.6h0.85M66.9 76.2h0.85M65.5 73.9h0.85M66.1 77.6h0.85M66.1 75.6h0.85M68.5 77.8h0.85M66.2 77.6h0.85M64.8 78.6h0.85M64.8 76.4h0.85M67.8 76.2h0.85M64.4 80.9h0.85M71.4 73.8h0.85M67.7 74.7h0.85M68.2 74.6h0.85M68.9 78.0h0.85M71.9 79.2h0.85M66.2 78.7h0.85M66.2 76.8h0.85M66.1 73.7h0.85M69.0 73.2h0.85M66.8 78.0h0.85M67.7 74.1h0.85M65.7 78.3h0.85M70.3 80.0h0.85M62.6 77.9h0.85M66.1 78.4h0.85M62.9 76.7h0.85M69.3 75.8h0.85M66.4 75.2h0.85M70.3 74.5h0.85M65.0 76.4h0.85M66.6 80.9h0.85M68.1 75.5h0.85M68.9 77.6h0.85M68.1 76.9h0.85M68.6 74.8h0.85M64.2 76.2h0.85M64.5 78.3h0.85M72.5 79.3h0.85M68.6 77.6h0.85M65.6 74.6h0.85M68.8 74.3h0.85M68.2 76.7h0.85M69.4 77.1h0.85M67.7 75.9h0.85M62.9 76.4h0.85M69.2 78.9h0.85M71.0 75.2h0.85M64.9 78.3h0.85M66.2 81.8h0.85M68.2 74.2h0.85M65.9 79.9h0.85M62.6 77.3h0.85M63.7 80.0h0.85M66.2 75.1h0.85M62.9 75.7h0.85M60.7 76.1h0.85M73.2 77.2h0.85M66.7 74.9h0.85M68.3 76.1h0.85M65.2 79.6h0.85M68.6 75.4h0.85M71.3 76.9h0.85M68.7 77.3h0.85M70.5 78.1h0.85M66.5 78.3h0.85M66.4 77.2h0.85M71.7 75.0h0.85M64.7 76.3h0.85M66.1 79.4h0.85M63.2 81.2h0.85M71.6 76.2h0.85M67.9 76.3h0.85M69.2 78.2h0.85M69.4 78.4h0.85M72.5 76.7h0.85M69.2 76.7h0.85M67.5 77.4h0.85M67.3 77.6h0.85M65.2 76.7h0.85M65.8 74.8h0.85M65.5 76.1h0.85M67.0 74.1h0.85M66.7 74.9h0.85M65.2 77.4h0.85M70.3 77.5h0.85M66.1 76.2h0.85M70.9 74.0h0.85M70.4 74.2h0.85M65.7 77.1h0.85M66.8 80.1h0.85M68.7 76.9h0.85M69.9 77.1h0.85M65.3 79.1h0.85M71.4 79.4h0.85M64.3 80.5h0.85M66.3 78.4h0.85M70.6 81.4h0.85M63.1 75.1h0.85M70.5 77.9h0.85M66.6 71.6h0.85M68.6 76.7h0.85M60.5 82.0h0.85M60.8 76.0h0.85M67.4 77.4h0.85M69.4 76.5h0.85M65.0 76.3h0.85M61.8 74.9h0.85M72.6 75.7h0.85M67.2 80.5h0.85M70.2 77.2h0.85M69.3 76.5h0.85M65.0 78.9h0.85M67.8 80.0h0.85M66.7 76.3h0.85M68.3 76.6h0.85M66.6 75.3h0.85M68.1 77.6h0.85M72.2 77.0h0.85M62.8 77.9h0.85M73.5 76.2h0.85M65.3 76.7h0.85M59.8 76.4h0.85M66.9 74.2h0.85M68.9 75.4h0.85M62.5 75.7h0.85M69.1 80.6h0.85M70.7 77.4h0.85M66.0 76.5h0.85M70.0 76.0h0.85M68.5 78.8h0.85M65.0 75.9h0.85M68.6 77.0h0.85M67.1 76.0h0.85M67.2 80.4h0.85M71.0 74.0h0.85M67.5 77.2h0.85M67.5 74.4h0.85M67.1 77.3h0.85M65.6 77.6h0.85M60.9 74.2h0.85M67.7 77.7h0.85M67.0 76.1h0.85M67.9 79.0h0.85M69.8 76.9h0.85M66.2 79.0h0.85M68.8 78.6h0.85M66.7 75.4h0.85M67.9 75.8h0.85M70.4 78.6h0.85M61.6 78.2h0.85M70.9 78.9h0.85M66.1 75.4h0.85M70.0 78.9h0.85M67.6 74.9h0.85M63.4 77.5h0.85M65.2 75.7h0.85M68.6 79.0h0.85M61.9 75.8h0.85M70.8 76.9h0.85M66.5 78.2h0.85M64.4 74.7h0.85M67.5 79.9h0.85M70.1 77.0h0.85M70.1 76.2h0.85M64.3 73.9h0.85M68.1 78.7h0.85M68.4 76.9h0.85M66.3 79.0h0.85M67.3 74.3h0.85M71.0 75.8h0.85M68.4 77.0h0.85M70.2 77.5h0.85M70.7 77.4h0.85M66.2 76.1h0.85M69.1 75.5h0.85M69.9 76.6h0.85M64.9 75.4h0.85M67.0 80.3h0.85M69.4 77.0h0.85M65.0 80.5h0.85M66.7 77.0h0.85M66.3 79.5h0.85M67.9 76.1h0.85M67.9 75.1h0.85M64.6 76.7h0.85M59.8 79.2h0.85M72.7 74.9h0.85M67.0 74.1h0.85M67.9 77.4h0.85M69.4 74.5h0.85M65.8 75.8h0.85M66.7 81.3h0.85M66.9 76.9h0.85M66.1 78.5h0.85M74.2 79.2h0.85M71.5 75.0h0.85M70.2 77.1h0.85M70.7 79.0h0.85M69.1 73.9h0.85M67.8 76.1h0.85M68.6 77.1h0.85M70.2 74.0h0.85M65.4 76.9h0.85M68.3 76.2h0.85M67.3 77.1h0.85" stroke="#3f92c8" stroke-width="0.85" fill="none" opacity="0.9"/>
<path d="M69.0 76.8h0.85M67.8 74.9h0.85M63.3 75.3h0.85M68.0 74.4h0.85M68.0 76.8h0.85M67.4 76.1h0.85M66.7 77.8h0.85M68.0 76.9h0.85M66.6 77.1h0.85M69.3 76.9h0.85M66.8 75.6h0.85M67.6 75.9h0.85M65.1 77.8h0.85M66.4 74.7h0.85M66.3 78.9h0.85M67.2 75.5h0.85M65.7 77.7h0.85M68.0 77.1h0.85M67.1 77.4h0.85M69.8 77.4h0.85M67.1 75.4h0.85M68.1 78.6h0.85M68.4 75.5h0.85M67.7 78.3h0.85M66.4 77.4h0.85M69.3 78.7h0.85M64.9 75.0h0.85M68.0 77.7h0.85M66.8 76.9h0.85M66.8 78.2h0.85M63.9 77.2h0.85M65.4 76.2h0.85M65.0 75.9h0.85M67.4 76.9h0.85M70.2 76.7h0.85M67.9 77.3h0.85M67.8 78.5h0.85M67.6 77.1h0.85M67.2 76.9h0.85M67.3 78.0h0.85M67.4 77.0h0.85M67.3 77.7h0.85M66.7 77.9h0.85M66.5 77.7h0.85M70.4 77.2h0.85M67.3 75.6h0.85M68.6 76.9h0.85M68.8 76.2h0.85M68.2 78.9h0.85M68.0 76.5h0.85M65.3 76.9h0.85M68.4 77.5h0.85M65.6 75.8h0.85M65.9 75.8h0.85M67.0 77.2h0.85M70.4 77.1h0.85M69.7 75.1h0.85M69.8 77.8h0.85M68.1 77.8h0.85M68.4 79.0h0.85M68.7 75.0h0.85M64.6 78.6h0.85M67.3 78.3h0.85M66.9 76.2h0.85M66.9 77.2h0.85M67.7 76.2h0.85M68.2 77.6h0.85M66.0 75.7h0.85M64.3 76.6h0.85M67.4 76.1h0.85M66.4 76.8h0.85M67.4 77.5h0.85M68.7 77.4h0.85M69.2 75.8h0.85M68.4 77.3h0.85M65.8 76.2h0.85M68.1 77.0h0.85M65.4 76.3h0.85M69.8 77.8h0.85M67.5 78.4h0.85M66.0 76.7h0.85M68.9 76.5h0.85M65.6 77.5h0.85M69.9 74.1h0.85M67.6 75.5h0.85M66.9 75.4h0.85M71.5 76.2h0.85M67.5 76.1h0.85M65.8 76.4h0.85M67.7 78.8h0.85M67.9 78.6h0.85M65.7 77.0h0.85M66.7 75.2h0.85M73.3 76.6h0.85M67.8 76.1h0.85M66.5 75.8h0.85M69.0 76.5h0.85M67.2 77.1h0.85M65.5 77.2h0.85M67.1 77.4h0.85M66.8 76.9h0.85M68.2 78.0h0.85M66.3 78.0h0.85M65.8 76.7h0.85M67.6 77.1h0.85M63.5 75.8h0.85M67.1 77.9h0.85M66.3 78.5h0.85M64.5 77.0h0.85M68.3 76.9h0.85M67.8 77.9h0.85M66.1 77.5h0.85M69.1 76.6h0.85M63.7 75.6h0.85M66.0 75.7h0.85M68.1 76.0h0.85M71.3 77.5h0.85M65.3 76.6h0.85M69.8 77.6h0.85M65.8 78.0h0.85" stroke="#38b070" stroke-width="0.85" fill="none" opacity="0.95"/>
<path d="M67.0 78.2h0.9M66.9 77.3h0.9M67.9 76.6h0.9M67.3 77.6h0.9M67.8 76.9h0.9M67.8 77.9h0.9M68.2 77.2h0.9M67.7 76.0h0.9M67.5 76.6h0.9M68.1 76.5h0.9M67.8 76.3h0.9M68.2 76.5h0.9M67.4 77.2h0.9M67.1 76.9h0.9M68.3 77.9h0.9M65.8 76.4h0.9M68.0 77.5h0.9M67.0 77.0h0.9M67.2 78.2h0.9M67.2 76.2h0.9M66.0 76.1h0.9M68.6 76.7h0.9M69.1 77.3h0.9M67.7 77.3h0.9M68.1 77.4h0.9M66.5 76.6h0.9M66.9 77.0h0.9M67.2 76.2h0.9M66.8 78.0h0.9M69.3 76.4h0.9M67.7 76.9h0.9M66.6 77.3h0.9M67.3 77.9h0.9M67.8 76.7h0.9M65.0 76.8h0.9M68.2 76.5h0.9M68.2 77.3h0.9M65.8 76.8h0.9M67.7 77.3h0.9M67.5 76.9h0.9M67.1 76.7h0.9M67.4 76.3h0.9M68.0 76.7h0.9M67.9 76.6h0.9M67.8 77.0h0.9M68.2 77.2h0.9M68.2 76.8h0.9M67.4 76.7h0.9M66.3 76.8h0.9M68.4 77.4h0.9M66.6 77.1h0.9M68.1 76.1h0.9M67.7 77.1h0.9M68.1 77.1h0.9M65.9 75.7h0.9M69.2 76.7h0.9M68.5 77.6h0.9M67.5 76.2h0.9M68.6 76.9h0.9M67.9 77.2h0.9" stroke="#44c44c" stroke-width="0.9" fill="none" opacity="1"/>
<path d="M40.5 91.3h0.75M39.1 82.2h0.75M40.0 87.5h0.75M40.4 87.0h0.75M40.7 91.8h0.75M40.5 84.5h0.75M39.8 87.2h0.75M39.3 84.2h0.75M40.0 83.0h0.75M40.2 89.3h0.75M39.8 86.2h0.75M40.3 89.3h0.75M40.1 82.9h0.75M39.5 86.1h0.75M38.8 84.5h0.75M39.5 90.5h0.75M39.7 85.7h0.75M39.4 85.9h0.75M39.0 88.5h0.75M40.6 88.1h0.75M39.6 92.2h0.75M40.2 83.6h0.75M39.6 85.2h0.75M39.9 92.0h0.75M39.5 87.0h0.75M40.0 83.0h0.75M39.6 89.8h0.75M40.6 80.5h0.75M40.3 86.4h0.75M40.7 89.8h0.75M41.1 88.7h0.75M39.7 84.4h0.75M39.1 89.6h0.75M40.2 90.6h0.75M40.1 81.9h0.75M39.7 86.6h0.75M40.0 90.4h0.75M40.7 88.6h0.75M38.7 83.7h0.75M38.6 84.6h0.75M39.2 88.4h0.75M39.8 91.7h0.75M40.5 85.8h0.75M40.5 87.5h0.75M40.2 92.5h0.75M39.2 87.2h0.75M40.8 84.7h0.75M40.0 88.0h0.75M39.7 82.6h0.75M39.5 83.8h0.75M40.5 88.4h0.75M40.3 83.1h0.75M40.2 88.0h0.75M40.5 84.8h0.75M40.4 92.6h0.75M41.0 84.0h0.75M39.2 82.0h0.75M40.5 89.7h0.75M40.1 84.3h0.75M39.9 87.1h0.75M40.6 89.4h0.75M40.7 86.0h0.75M40.1 86.2h0.75M39.6 86.4h0.75M39.7 89.4h0.75M39.7 87.8h0.75M39.4 82.9h0.75M40.7 83.8h0.75M41.0 91.0h0.75M38.5 85.1h0.75M39.7 87.6h0.75M39.8 85.3h0.75M40.6 87.0h0.75M40.5 84.9h0.75M39.5 92.5h0.75M39.7 83.4h0.75M39.8 91.4h0.75M39.8 84.8h0.75M40.3 91.2h0.75M39.8 86.3h0.75M39.8 89.0h0.75M38.7 88.2h0.75M39.9 86.3h0.75M39.7 82.4h0.75M39.0 88.1h0.75M39.5 87.2h0.75M39.8 85.6h0.75M39.2 85.6h0.75M39.7 83.2h0.75M39.3 90.7h0.75M40.5 88.0h0.75M41.8 90.6h0.75M40.6 84.5h0.75M39.4 83.3h0.75M39.9 84.5h0.75M40.3 83.4h0.75M40.0 80.2h0.75M39.9 91.4h0.75M39.7 88.7h0.75M40.5 83.4h0.75M39.1 87.8h0.75M40.1 86.5h0.75M39.3 92.0h0.75M39.2 86.5h0.75M39.9 90.2h0.75M39.6 84.5h0.75M41.1 84.4h0.75M40.4 86.9h0.75M39.6 87.3h0.75M39.8 88.7h0.75" stroke="#5a74c8" stroke-width="0.75" fill="none" opacity="0.8"/>
<path d="M38.7 89.9h0.75M39.6 88.1h0.75M40.2 91.3h0.75M39.7 89.4h0.75M40.1 89.1h0.75M39.3 91.4h0.75M39.3 88.5h0.75M40.1 86.9h0.75M39.6 90.2h0.75M39.7 87.2h0.75M39.5 89.3h0.75M40.3 92.0h0.75M39.3 91.7h0.75M39.8 89.8h0.75M39.5 89.5h0.75M39.1 88.8h0.75M39.9 92.8h0.75M40.2 89.3h0.75M39.8 85.3h0.75M39.5 87.5h0.75M39.9 86.8h0.75M39.2 87.8h0.75M39.7 91.6h0.75M39.7 88.4h0.75M39.7 90.0h0.75M39.9 90.7h0.75M40.4 92.3h0.75M39.4 91.5h0.75M39.9 88.0h0.75M39.3 88.4h0.75M38.7 91.2h0.75M39.5 92.4h0.75M39.4 90.1h0.75M39.9 91.9h0.75M39.7 88.0h0.75M40.4 91.7h0.75" stroke="#38a898" stroke-width="0.75" fill="none" opacity="0.9"/>
<path d="M53.4 92.2h0.7M53.6 91.6h0.7M49.9 91.7h0.7M42.1 91.8h0.7M44.2 91.6h0.7M44.0 91.7h0.7M46.1 92.6h0.7M48.8 91.6h0.7M44.5 91.3h0.7M47.8 91.3h0.7M46.3 91.0h0.7M51.0 91.2h0.7M44.8 91.6h0.7M44.8 91.3h0.7M46.0 90.9h0.7M47.1 91.0h0.7M43.1 91.6h0.7M46.9 90.7h0.7M46.5 91.5h0.7M49.7 91.6h0.7M49.0 91.7h0.7M46.1 91.0h0.7M50.4 91.2h0.7M48.1 91.7h0.7M51.7 92.0h0.7M45.3 91.2h0.7M50.2 90.7h0.7M43.1 91.7h0.7M45.6 91.0h0.7M51.2 91.7h0.7M51.6 91.2h0.7M46.9 91.2h0.7M49.2 90.4h0.7M45.3 91.7h0.7M45.0 91.4h0.7M48.5 91.7h0.7M46.2 90.8h0.7M57.9 91.1h0.7M54.8 90.5h0.7M48.5 91.3h0.7M55.5 92.4h0.7M51.9 90.9h0.7M44.9 91.0h0.7M46.0 91.5h0.7M44.9 91.3h0.7M53.8 92.1h0.7M40.7 90.9h0.7M46.6 92.0h0.7M46.7 92.3h0.7M49.5 92.1h0.7M44.7 91.2h0.7M52.0 91.7h0.7M40.7 91.3h0.7M48.7 91.7h0.7M45.5 92.2h0.7M48.6 92.1h0.7M49.6 91.4h0.7M46.8 90.8h0.7M51.4 91.8h0.7M51.7 91.2h0.7M44.1 91.2h0.7M46.8 91.4h0.7M51.9 91.0h0.7M46.1 91.7h0.7M51.6 92.5h0.7M50.1 91.0h0.7M44.0 91.0h0.7M48.3 91.5h0.7M47.8 91.1h0.7M47.3 91.4h0.7" stroke="#7078d0" stroke-width="0.7" fill="none" opacity="0.8"/>
</g>
<polygon points="55.7,77.7 62.3,69 78.4,69 85.7,77.7 80.6,86.5 60.1,86.5" fill="none" stroke="#222" stroke-width="0.6"/>
<text x="87.6" y="60.8" font-size="5.0" text-anchor="middle" font-weight="normal" fill="#111" textLength="28.5" lengthAdjust="spacingAndGlyphs" stroke="#111" stroke-width="0.06">Lymphocytes</text>
<text x="89" y="66.6" font-size="5.0" text-anchor="middle" font-weight="normal" fill="#111" textLength="14" lengthAdjust="spacingAndGlyphs" stroke="#111" stroke-width="0.06">22.8%</text>
<text x="0" y="0" font-size="8.8" text-anchor="middle" font-weight="normal" fill="#111" textLength="17" lengthAdjust="spacingAndGlyphs" transform="translate(14.4 58.3) rotate(-90)" stroke="#111" stroke-width="0.5">SSC-A</text>
<text x="73.5" y="125.6" font-size="8.3" text-anchor="middle" font-weight="normal" fill="#111" textLength="17.5" lengthAdjust="spacingAndGlyphs" stroke="#111" stroke-width="0.5">FSC-A</text>
<rect x="142.5" y="22.6" width="69.80000000000001" height="70.6" fill="#fff" stroke="#8c8c8c" stroke-width="0.55"/>
<text x="139" y="28.4" font-size="6.8" text-anchor="end" font-weight="normal" fill="#111" textLength="17.6" lengthAdjust="spacingAndGlyphs" stroke="#111" stroke-width="0.24">250K</text>
<path d="M140.2 26.0h2.2" stroke="#333" stroke-width="0.6"/>
<text x="139" y="41.699999999999996" font-size="6.8" text-anchor="end" font-weight="normal" fill="#111" textLength="17.6" lengthAdjust="spacingAndGlyphs" stroke="#111" stroke-width="0.24">200K</text>
<path d="M140.2 39.3h2.2" stroke="#333" stroke-width="0.6"/>
<text x="139" y="55.0" font-size="6.8" text-anchor="end" font-weight="normal" fill="#111" textLength="17.6" lengthAdjust="spacingAndGlyphs" stroke="#111" stroke-width="0.24">150K</text>
<path d="M140.2 52.6h2.2" stroke="#333" stroke-width="0.6"/>
<text x="139" y="68.30000000000001" font-size="6.8" text-anchor="end" font-weight="normal" fill="#111" textLength="17.6" lengthAdjust="spacingAndGlyphs" stroke="#111" stroke-width="0.24">100K</text>
<path d="M140.2 65.9h2.2" stroke="#333" stroke-width="0.6"/>
<text x="139" y="81.60000000000001" font-size="6.8" text-anchor="end" font-weight="normal" fill="#111" textLength="13.376000000000001" lengthAdjust="spacingAndGlyphs" stroke="#111" stroke-width="0.24">50K</text>
<path d="M140.2 79.2h2.2" stroke="#333" stroke-width="0.6"/>
<text x="139" y="94.80000000000001" font-size="6.8" text-anchor="end" font-weight="normal" fill="#111" stroke="#111" stroke-width="0.24">0</text>
<path d="M140.2 92.4h2.2" stroke="#333" stroke-width="0.6"/>
<text x="0" y="0" font-size="7.0" text-anchor="end" font-weight="normal" fill="#111" transform="translate(146.2 99.4) rotate(-45)" stroke="#111" stroke-width="0.24">0</text>
<path d="M143.2 93.2v1.6" stroke="#333" stroke-width="0.6"/>
<text x="0" y="0" font-size="7.0" text-anchor="end" font-weight="normal" fill="#111" textLength="13.4" lengthAdjust="spacingAndGlyphs" transform="translate(159.6 99.4) rotate(-45)" stroke="#111" stroke-width="0.24">50K</text>
<path d="M156.6 93.2v1.6" stroke="#333" stroke-width="0.6"/>
<text x="0" y="0" font-size="7.0" text-anchor="end" font-weight="normal" fill="#111" textLength="17.6" lengthAdjust="spacingAndGlyphs" transform="translate(173.0 99.4) rotate(-45)" stroke="#111" stroke-width="0.24">100K</text>
<path d="M170.0 93.2v1.6" stroke="#333" stroke-width="0.6"/>
<text x="0" y="0" font-size="7.0" text-anchor="end" font-weight="normal" fill="#111" textLength="17.6" lengthAdjust="spacingAndGlyphs" transform="translate(186.4 99.4) rotate(-45)" stroke="#111" stroke-width="0.24">150K</text>
<path d="M183.4 93.2v1.6" stroke="#333" stroke-width="0.6"/>
<text x="0" y="0" font-size="7.0" text-anchor="end" font-weight="normal" fill="#111" textLength="17.6" lengthAdjust="spacingAndGlyphs" transform="translate(199.8 99.4) rotate(-45)" stroke="#111" stroke-width="0.24">200K</text>
<path d="M196.8 93.2v1.6" stroke="#333" stroke-width="0.6"/>
<text x="0" y="0" font-size="7.0" text-anchor="end" font-weight="normal" fill="#111" textLength="17.6" lengthAdjust="spacingAndGlyphs" transform="translate(213.2 99.4) rotate(-45)" stroke="#111" stroke-width="0.24">250K</text>
<path d="M210.2 93.2v1.6" stroke="#333" stroke-width="0.6"/>
<g>
<linearGradient id="g2" gradientUnits="userSpaceOnUse" x1="160.6" y1="78.2" x2="186.3" y2="53"><stop offset="0" stop-color="#3a3aa8"/><stop offset="0.26" stop-color="#3c4cc0"/><stop offset="0.36" stop-color="#38a8b8"/><stop offset="0.46" stop-color="#48b850"/><stop offset="0.6" stop-color="#50b858"/><stop offset="0.7" stop-color="#3c9cc0"/><stop offset="0.82" stop-color="#5a5ed0"/><stop offset="1" stop-color="#8c8ce0"/></linearGradient>
<path d="M160.6 78.2L186.3 53" stroke="#b8b8ee" stroke-width="3.0" stroke-linecap="round" opacity="0.55"/>
<path d="M161.3 78.3h0.7M177.3 63.4h0.7M186.1 52.4h0.7M160.0 77.4h0.7M184.4 52.4h0.7M161.5 77.4h0.7M181.9 56.4h0.7M171.1 68.0h0.7M161.9 76.1h0.7M178.6 60.1h0.7M164.6 73.6h0.7M178.3 59.2h0.7M185.1 53.6h0.7M171.7 69.1h0.7M184.4 55.8h0.7M175.2 61.9h0.7M168.6 73.1h0.7M184.5 53.0h0.7M169.6 70.1h0.7M181.6 55.9h0.7M180.9 57.1h0.7M181.5 58.1h0.7M176.3 60.2h0.7M160.8 77.3h0.7M160.4 77.8h0.7M182.6 56.7h0.7M163.0 76.5h0.7M163.5 74.6h0.7M179.9 58.7h0.7M175.5 62.4h0.7M175.6 64.9h0.7M174.3 64.2h0.7M171.7 65.6h0.7M163.7 76.0h0.7M179.5 61.5h0.7M174.2 63.9h0.7M169.9 69.5h0.7M174.7 64.7h0.7M183.8 56.0h0.7M179.8 58.8h0.7M180.4 56.3h0.7M165.4 73.7h0.7M168.1 68.7h0.7M172.1 66.7h0.7M168.7 71.0h0.7M170.9 67.1h0.7M165.2 71.6h0.7M170.0 69.2h0.7M177.7 61.2h0.7M185.7 53.6h0.7M166.4 69.4h0.7M165.3 72.6h0.7M162.1 76.8h0.7M183.1 56.8h0.7M174.4 65.6h0.7M173.9 65.3h0.7M164.4 73.4h0.7M173.3 68.2h0.7M166.2 72.1h0.7M173.9 64.8h0.7M178.1 62.4h0.7M168.9 70.8h0.7M178.9 58.1h0.7M175.4 61.8h0.7M165.5 74.1h0.7M182.6 58.4h0.7M161.5 76.3h0.7M172.9 66.6h0.7M182.4 54.9h0.7M180.1 58.3h0.7M167.2 70.8h0.7M172.4 65.7h0.7M174.1 64.5h0.7M182.1 56.4h0.7M164.1 73.8h0.7M187.4 54.1h0.7M170.1 69.1h0.7M185.5 53.7h0.7M166.6 74.3h0.7M164.8 74.5h0.7M180.5 59.3h0.7M169.8 69.2h0.7M162.0 75.6h0.7M179.9 59.5h0.7M174.5 66.9h0.7M164.6 73.7h0.7M185.2 55.4h0.7M173.7 64.3h0.7M164.6 73.8h0.7M165.9 73.7h0.7M176.0 62.1h0.7M176.4 64.6h0.7M183.2 58.1h0.7M174.3 66.0h0.7M177.1 62.2h0.7M172.0 68.9h0.7M179.1 59.5h0.7M168.1 70.5h0.7M181.0 59.9h0.7M174.8 64.4h0.7M178.8 59.6h0.7M173.5 66.7h0.7M180.8 59.8h0.7M167.5 72.0h0.7M175.8 63.2h0.7M166.8 72.9h0.7M183.1 54.4h0.7M180.7 60.4h0.7M167.3 71.4h0.7M184.9 54.3h0.7M177.5 62.7h0.7M173.9 66.1h0.7M177.7 60.8h0.7M178.1 63.7h0.7M162.8 77.1h0.7M167.1 69.3h0.7M179.9 60.9h0.7M161.2 75.6h0.7M182.4 56.8h0.7M179.6 61.8h0.7" stroke="#6a6ed4" stroke-width="0.7" fill="none" opacity="0.7"/>
<path d="M161.4 77.3L185.4 53.8" stroke="url(#g2)" stroke-width="2.3" stroke-linecap="butt"/>
<path d="M173.7 66.4h0.5M178.2 60.2h0.5M177.7 60.4h0.5M175.0 63.5h0.5M172.1 66.1h0.5M170.6 68.3h0.5M171.5 68.3h0.5M174.9 63.0h0.5M175.0 63.2h0.5M175.2 63.8h0.5M167.6 69.5h0.5M170.8 68.7h0.5M173.4 66.1h0.5M176.9 62.4h0.5" stroke="#e8f4e0" stroke-width="0.5" fill="none" opacity="0.6"/>
</g>
<polygon points="153.5,79.1 185.4,49.2 192.3,55.4 160.4,85.3" fill="none" stroke="#333" stroke-width="0.7"/>
<text x="164.2" y="43.5" font-size="5.0" text-anchor="middle" font-weight="normal" fill="#111" textLength="26" lengthAdjust="spacingAndGlyphs" stroke="#111" stroke-width="0.06">Single Cells</text>
<text x="165.6" y="49.4" font-size="5.0" text-anchor="middle" font-weight="normal" fill="#111" textLength="14" lengthAdjust="spacingAndGlyphs" stroke="#111" stroke-width="0.06">99.9%</text>
<text x="0" y="0" font-size="8.8" text-anchor="middle" font-weight="normal" fill="#111" textLength="17" lengthAdjust="spacingAndGlyphs" transform="translate(118.6 58.3) rotate(-90)" stroke="#111" stroke-width="0.5">FSC-H</text>
<text x="177.5" y="125.6" font-size="8.3" text-anchor="middle" font-weight="normal" fill="#111" textLength="17.5" lengthAdjust="spacingAndGlyphs" stroke="#111" stroke-width="0.5">FSC-A</text>
<rect x="246.8" y="22.7" width="69.69999999999999" height="70.3" fill="#fff" stroke="#8c8c8c" stroke-width="0.55"/>
<text x="243.5" y="28.5" font-size="6.8" text-anchor="end" font-weight="normal" fill="#111" textLength="17.6" lengthAdjust="spacingAndGlyphs" stroke="#111" stroke-width="0.24">250K</text>
<path d="M244.7 26.1h2.2" stroke="#333" stroke-width="0.6"/>
<text x="243.5" y="41.699999999999996" font-size="6.8" text-anchor="end" font-weight="normal" fill="#111" textLength="17.6" lengthAdjust="spacingAndGlyphs" stroke="#111" stroke-width="0.24">200K</text>
<path d="M244.7 39.3h2.2" stroke="#333" stroke-width="0.6"/>
<text x="243.5" y="55.1" font-size="6.8" text-anchor="end" font-weight="normal" fill="#111" textLength="17.6" lengthAdjust="spacingAndGlyphs" stroke="#111" stroke-width="0.24">150K</text>
<path d="M244.7 52.7h2.2" stroke="#333" stroke-width="0.6"/>
<text x="243.5" y="68.4" font-size="6.8" text-anchor="end" font-weight="normal" fill="#111" textLength="17.6" lengthAdjust="spacingAndGlyphs" stroke="#111" stroke-width="0.24">100K</text>
<path d="M244.7 66.0h2.2" stroke="#333" stroke-width="0.6"/>
<text x="243.5" y="81.7" font-size="6.8" text-anchor="end" font-weight="normal" fill="#111" textLength="13.376000000000001" lengthAdjust="spacingAndGlyphs" stroke="#111" stroke-width="0.24">50K</text>
<path d="M244.7 79.3h2.2" stroke="#333" stroke-width="0.6"/>
<text x="243.5" y="94.80000000000001" font-size="6.8" text-anchor="end" font-weight="normal" fill="#111" stroke="#111" stroke-width="0.24">0</text>
<path d="M244.7 92.4h2.2" stroke="#333" stroke-width="0.6"/>
<text x="0" y="0" font-size="7.0" text-anchor="end" font-weight="normal" fill="#111" transform="translate(257.7 101.0) rotate(-45)" stroke="#111" stroke-width="0.24">0</text>
<path d="M256.9 93.0v1.6" stroke="#333" stroke-width="0.6"/>
<text x="0" y="0" font-size="7.0" text-anchor="end" font-weight="normal" fill="#111" transform="translate(277.2 102.8) rotate(-45)" stroke="#111" stroke-width="0.24">10<tspan font-size="4.9" dy="-2.4">3</tspan></text>
<path d="M277.6 93.0v1.6" stroke="#333" stroke-width="0.6"/>
<text x="0" y="0" font-size="7.0" text-anchor="end" font-weight="normal" fill="#111" transform="translate(294.2 102.8) rotate(-45)" stroke="#111" stroke-width="0.24">10<tspan font-size="4.9" dy="-2.4">4</tspan></text>
<path d="M294.4 93.0v1.6" stroke="#333" stroke-width="0.6"/>
<text x="0" y="0" font-size="7.0" text-anchor="end" font-weight="normal" fill="#111" transform="translate(310.4 102.8) rotate(-45)" stroke="#111" stroke-width="0.24">10<tspan font-size="4.9" dy="-2.4">5</tspan></text>
<path d="M309.9 93.0v1.6" stroke="#333" stroke-width="0.6"/>
<g>
<path d="M266.0 78.6h0.8M263.4 69.7h0.8M261.8 86.2h0.8M260.3 80.3h0.8M264.7 75.7h0.8M261.5 75.5h0.8M263.8 77.3h0.8M265.4 81.7h0.8M262.0 87.0h0.8M261.3 74.9h0.8M261.5 73.9h0.8M261.1 76.9h0.8M264.0 71.2h0.8M258.9 74.3h0.8M261.4 78.9h0.8M260.3 82.9h0.8M260.9 76.4h0.8M262.2 81.6h0.8M262.7 77.3h0.8M260.8 77.8h0.8M262.9 75.9h0.8M262.0 70.3h0.8M260.9 81.7h0.8M265.2 76.9h0.8M257.2 84.1h0.8M261.7 86.9h0.8M261.1 81.0h0.8M260.7 82.4h0.8M264.6 73.2h0.8M264.9 88.0h0.8M261.5 72.6h0.8M262.6 75.7h0.8M258.7 73.2h0.8M262.6 71.5h0.8M264.4 78.9h0.8M261.6 82.5h0.8M260.0 79.8h0.8M259.0 76.0h0.8M263.4 75.2h0.8M261.8 79.7h0.8M265.4 82.1h0.8M263.0 76.2h0.8M258.8 83.7h0.8M266.2 69.1h0.8M264.0 77.0h0.8M263.6 78.4h0.8M261.6 77.2h0.8M261.9 81.6h0.8M261.4 75.1h0.8M263.5 79.6h0.8M263.0 78.3h0.8M265.3 81.4h0.8M262.5 76.4h0.8M263.5 70.1h0.8M260.9 74.5h0.8M262.4 75.7h0.8M267.5 80.0h0.8M262.9 85.7h0.8M262.0 76.0h0.8M264.7 80.3h0.8M264.1 81.8h0.8M261.2 74.7h0.8M260.4 77.6h0.8M264.2 73.2h0.8M260.8 72.1h0.8M266.4 80.2h0.8M262.5 72.6h0.8M259.7 74.8h0.8M262.1 72.4h0.8M261.5 81.8h0.8M262.1 77.6h0.8M257.4 76.2h0.8M261.7 74.6h0.8M259.0 76.9h0.8M259.8 75.1h0.8M258.5 76.8h0.8M264.0 74.0h0.8M262.7 71.4h0.8M263.3 79.3h0.8M261.2 80.6h0.8M260.1 77.4h0.8M265.7 77.1h0.8M259.5 81.6h0.8M263.2 76.2h0.8M258.0 70.1h0.8M258.7 82.8h0.8M262.7 74.0h0.8M264.6 82.8h0.8M260.2 79.0h0.8M258.4 78.6h0.8M266.0 71.8h0.8M262.1 74.8h0.8M261.8 77.5h0.8M262.6 80.6h0.8M263.2 81.2h0.8M264.3 81.4h0.8M260.5 78.8h0.8M261.2 74.0h0.8M266.3 78.3h0.8M262.1 69.2h0.8M261.5 80.1h0.8M261.6 75.1h0.8M265.3 76.0h0.8M261.3 76.8h0.8M261.5 81.2h0.8M263.3 76.9h0.8M261.2 76.3h0.8M265.8 76.0h0.8M263.5 71.2h0.8M262.7 79.8h0.8M264.8 78.4h0.8M263.3 78.4h0.8M264.4 85.0h0.8M262.5 74.1h0.8M263.3 76.8h0.8M263.4 80.2h0.8M262.4 75.5h0.8M262.7 72.5h0.8M262.6 73.8h0.8M263.0 77.7h0.8M261.5 72.6h0.8M262.1 74.6h0.8M261.7 79.8h0.8M264.1 72.3h0.8M264.1 82.4h0.8M264.5 78.3h0.8M261.8 83.8h0.8M261.3 71.4h0.8M262.2 78.3h0.8M259.7 72.6h0.8M266.4 77.6h0.8M263.7 75.0h0.8M258.7 76.5h0.8M265.0 74.7h0.8M258.1 76.5h0.8M261.4 77.3h0.8M259.7 76.0h0.8M260.8 80.6h0.8M262.4 80.5h0.8M261.9 69.1h0.8M257.7 79.2h0.8M264.0 80.5h0.8M261.9 70.4h0.8M260.9 78.7h0.8M265.1 75.9h0.8M260.8 74.3h0.8M264.3 80.5h0.8M258.0 81.8h0.8M260.0 71.6h0.8M258.5 74.4h0.8M267.1 86.9h0.8M259.3 74.6h0.8M262.4 78.8h0.8M261.0 71.2h0.8M261.1 74.6h0.8M258.1 77.8h0.8M258.8 70.6h0.8M265.4 80.8h0.8M265.2 77.7h0.8M261.1 76.9h0.8M259.0 80.0h0.8M262.6 76.0h0.8M257.9 76.8h0.8M265.6 82.7h0.8M264.0 75.9h0.8M262.3 79.3h0.8M262.5 81.2h0.8M260.6 68.4h0.8M256.7 73.7h0.8M259.0 79.7h0.8M264.4 77.2h0.8M263.2 77.5h0.8M262.4 75.4h0.8M261.1 81.7h0.8M261.4 77.0h0.8M264.7 80.9h0.8M261.2 78.2h0.8M259.8 77.7h0.8M262.7 77.2h0.8M262.4 78.6h0.8M256.5 74.1h0.8M262.2 75.3h0.8M259.9 76.3h0.8M265.6 76.3h0.8M260.6 75.4h0.8M259.4 79.0h0.8M259.9 80.7h0.8M264.0 79.4h0.8M264.3 76.9h0.8M258.2 77.0h0.8M263.4 71.3h0.8M259.3 81.4h0.8M263.0 82.3h0.8M263.5 77.5h0.8M263.0 80.4h0.8M262.0 76.4h0.8M262.7 76.0h0.8M267.3 74.3h0.8M258.7 72.3h0.8M264.3 75.7h0.8M262.4 76.4h0.8M262.6 71.7h0.8M262.2 75.0h0.8M264.4 79.6h0.8M259.2 73.5h0.8M263.3 81.8h0.8M263.7 76.6h0.8M264.5 68.2h0.8M260.8 73.5h0.8M259.8 79.4h0.8M262.6 78.3h0.8M261.7 79.6h0.8M263.8 75.0h0.8M264.1 73.7h0.8M265.9 72.2h0.8M261.4 73.1h0.8M262.1 82.2h0.8M260.4 84.0h0.8M265.2 78.7h0.8M260.7 80.7h0.8M255.7 74.3h0.8M264.2 77.1h0.8M267.5 74.6h0.8M259.1 76.4h0.8M263.3 83.7h0.8M258.1 77.8h0.8M264.8 74.6h0.8M261.0 72.6h0.8M263.7 80.4h0.8M263.3 78.1h0.8M264.2 76.7h0.8M263.6 80.3h0.8M264.9 79.2h0.8M262.2 79.9h0.8M258.6 70.5h0.8M265.6 77.7h0.8M259.7 75.0h0.8M261.7 77.5h0.8M260.3 81.0h0.8M258.2 87.9h0.8M259.6 83.6h0.8M263.5 70.8h0.8M259.3 77.4h0.8M262.6 75.6h0.8M262.1 77.8h0.8M259.5 77.4h0.8M267.1 74.7h0.8M259.8 79.7h0.8M265.0 81.2h0.8M260.6 76.9h0.8M262.5 76.4h0.8M262.9 81.4h0.8M263.3 77.2h0.8M261.6 84.1h0.8M259.3 84.9h0.8M263.7 77.5h0.8M260.4 84.2h0.8M264.8 80.7h0.8M266.7 70.3h0.8M262.3 76.0h0.8M260.4 77.5h0.8M263.2 79.2h0.8M261.7 72.1h0.8M263.3 79.5h0.8M266.8 80.8h0.8M262.1 72.8h0.8M268.2 74.6h0.8M262.5 80.1h0.8M263.2 82.3h0.8M259.7 74.6h0.8M262.4 72.5h0.8M260.6 82.5h0.8M262.7 76.8h0.8M260.7 77.4h0.8M262.0 73.1h0.8M263.8 72.3h0.8M264.9 75.9h0.8M256.9 71.2h0.8M262.7 73.9h0.8M266.1 82.5h0.8M266.8 80.6h0.8M265.1 74.9h0.8M265.0 75.5h0.8M261.9 72.0h0.8M262.2 78.8h0.8M261.9 72.9h0.8M264.1 80.7h0.8M261.8 80.2h0.8M264.3 73.4h0.8M262.0 70.0h0.8M259.7 78.9h0.8M260.0 78.7h0.8M262.9 69.2h0.8M260.9 83.1h0.8M262.1 77.7h0.8M260.4 71.0h0.8M258.4 88.3h0.8M261.6 73.8h0.8M262.3 69.7h0.8M265.2 83.8h0.8M260.3 78.5h0.8M260.0 80.5h0.8M260.1 76.6h0.8M265.0 79.2h0.8M261.3 71.3h0.8M258.4 81.9h0.8M263.2 77.4h0.8M264.9 77.8h0.8M260.4 76.8h0.8M261.8 77.1h0.8M267.7 79.5h0.8M262.7 76.2h0.8M260.5 73.3h0.8M257.7 75.4h0.8M258.5 70.0h0.8M259.9 69.3h0.8M265.2 82.0h0.8M259.8 85.2h0.8M263.5 67.4h0.8M262.1 73.3h0.8M258.0 76.2h0.8M264.7 78.9h0.8M258.7 74.6h0.8M260.3 81.7h0.8M261.8 73.4h0.8M259.9 69.5h0.8M260.1 80.7h0.8M257.6 78.0h0.8M261.8 80.4h0.8M259.4 80.7h0.8M265.6 86.1h0.8M258.3 77.1h0.8M261.5 77.7h0.8M259.7 80.5h0.8M267.4 83.1h0.8M259.8 75.0h0.8M263.7 77.7h0.8M260.3 82.0h0.8M263.2 81.2h0.8M261.6 82.2h0.8M260.9 72.8h0.8M262.0 71.8h0.8M264.9 80.1h0.8M258.1 77.9h0.8M264.0 75.8h0.8M263.0 74.9h0.8M261.9 76.9h0.8M263.1 73.4h0.8M259.4 78.5h0.8M260.8 79.2h0.8M260.9 72.1h0.8M263.7 78.2h0.8M263.7 75.9h0.8M261.2 82.1h0.8M258.1 84.0h0.8M263.2 77.0h0.8M262.2 79.6h0.8M260.2 78.3h0.8M259.8 70.0h0.8M262.5 77.6h0.8M263.5 79.4h0.8M263.6 80.3h0.8M259.6 82.0h0.8M268.2 75.0h0.8M259.1 79.9h0.8M264.1 81.2h0.8M265.6 71.8h0.8M262.9 79.0h0.8M264.9 73.7h0.8M262.1 75.7h0.8M261.6 76.6h0.8M261.7 70.3h0.8M261.9 77.5h0.8M261.1 63.3h0.8M260.4 74.6h0.8M260.0 83.5h0.8M264.1 76.5h0.8M263.4 90.1h0.8M259.8 79.1h0.8M260.6 83.0h0.8M264.6 76.7h0.8M263.4 74.1h0.8M258.3 80.5h0.8M265.8 76.0h0.8M260.8 70.2h0.8M267.0 72.5h0.8M259.8 76.4h0.8M264.8 77.4h0.8M262.0 77.3h0.8M264.0 77.1h0.8M262.4 76.9h0.8M259.4 82.5h0.8M260.4 72.0h0.8M261.0 77.3h0.8M263.9 71.4h0.8M259.1 77.9h0.8M262.9 72.9h0.8M259.4 77.9h0.8M261.7 70.9h0.8M260.0 83.0h0.8M259.6 81.3h0.8M258.5 83.0h0.8M265.7 74.7h0.8M260.4 79.7h0.8M259.1 79.4h0.8M264.8 78.2h0.8M262.8 76.6h0.8M264.3 74.0h0.8M265.7 77.1h0.8M261.3 70.8h0.8M261.0 78.1h0.8M264.9 70.9h0.8M261.7 74.5h0.8M259.2 77.2h0.8M260.2 80.6h0.8M255.8 80.1h0.8M257.6 69.6h0.8M263.2 75.9h0.8M262.3 73.4h0.8M259.6 74.3h0.8" stroke="#4c58c4" stroke-width="0.8" fill="none" opacity="0.8"/>
<path d="M264.4 75.4h0.8M264.0 75.3h0.8M264.8 74.6h0.8M262.0 70.9h0.8M264.5 77.7h0.8M265.7 75.6h0.8M263.1 73.8h0.8M265.4 75.9h0.8M265.7 77.3h0.8M264.2 72.8h0.8M263.7 79.5h0.8M263.8 79.2h0.8M262.5 80.0h0.8M267.9 80.3h0.8M264.9 74.4h0.8M263.9 75.9h0.8M264.7 72.4h0.8M263.5 79.5h0.8M264.7 79.4h0.8M265.5 74.6h0.8M262.9 78.7h0.8M264.5 77.7h0.8M263.5 80.1h0.8M265.1 80.4h0.8M264.1 79.2h0.8M264.4 75.1h0.8M264.4 73.3h0.8M264.3 77.9h0.8M265.3 74.9h0.8M262.9 75.7h0.8M262.0 75.9h0.8M267.7 77.9h0.8M263.6 75.8h0.8M266.6 74.6h0.8M264.4 77.3h0.8M263.6 75.7h0.8M262.5 75.4h0.8M266.1 81.1h0.8M264.2 79.3h0.8M265.1 77.8h0.8M264.3 80.5h0.8M265.2 76.9h0.8M264.2 79.8h0.8M263.8 75.7h0.8M264.2 76.3h0.8M266.0 78.4h0.8M264.4 76.2h0.8M266.2 78.6h0.8M267.0 79.8h0.8M264.2 76.1h0.8M264.2 78.0h0.8M265.5 78.7h0.8M266.4 73.7h0.8M264.5 73.9h0.8M263.3 76.0h0.8M263.7 75.1h0.8M262.7 80.4h0.8M264.1 79.9h0.8M263.2 71.7h0.8M263.8 79.7h0.8" stroke="#6a40b8" stroke-width="0.8" fill="none" opacity="0.7"/>
<path d="M260.9 78.4h0.85M260.1 81.1h0.85M262.4 80.1h0.85M261.3 80.8h0.85M261.8 76.0h0.85M260.7 77.4h0.85M260.3 74.1h0.85M261.9 79.2h0.85M261.3 79.6h0.85M264.1 73.9h0.85M262.1 74.7h0.85M260.7 77.8h0.85M258.1 78.9h0.85M263.0 78.8h0.85M262.7 82.2h0.85M261.1 80.3h0.85M263.9 78.6h0.85M259.0 76.9h0.85M261.3 72.9h0.85M261.6 79.3h0.85M261.3 76.8h0.85M263.9 75.6h0.85M260.3 77.4h0.85M263.4 78.9h0.85M261.8 76.0h0.85M263.6 79.7h0.85M259.1 78.2h0.85M258.1 81.3h0.85M262.6 75.6h0.85M259.8 76.5h0.85M259.1 78.8h0.85M260.9 72.5h0.85M261.7 80.5h0.85M259.8 76.3h0.85M264.4 77.8h0.85M260.9 77.8h0.85M262.9 74.6h0.85M261.6 72.9h0.85M259.3 73.1h0.85M263.0 78.1h0.85M262.8 80.6h0.85M261.8 77.9h0.85M262.3 78.6h0.85M260.1 76.6h0.85M261.5 77.4h0.85M260.6 76.9h0.85M262.1 77.8h0.85M262.6 79.5h0.85M262.5 79.9h0.85M263.0 81.1h0.85M262.6 75.6h0.85M265.2 80.4h0.85M263.6 79.3h0.85M261.8 74.2h0.85M262.4 76.3h0.85M261.1 71.5h0.85M264.0 74.1h0.85M260.0 78.6h0.85M262.6 75.2h0.85M261.7 78.0h0.85M261.9 78.7h0.85M262.9 76.3h0.85M259.3 83.2h0.85M261.1 74.6h0.85M262.8 78.9h0.85M260.8 83.7h0.85M258.2 80.8h0.85M261.6 78.1h0.85M262.2 76.7h0.85M262.2 73.8h0.85M261.1 82.3h0.85M257.8 80.6h0.85M258.3 75.0h0.85M263.0 76.2h0.85M260.8 73.2h0.85M261.5 76.8h0.85M260.7 73.1h0.85M261.9 78.4h0.85M263.4 78.7h0.85M264.0 80.5h0.85M257.4 81.8h0.85M261.5 74.5h0.85M262.4 79.9h0.85M259.4 74.0h0.85M262.7 75.8h0.85M263.9 77.9h0.85M260.9 73.7h0.85M262.6 72.6h0.85M259.7 73.7h0.85M264.3 81.9h0.85M261.4 76.3h0.85M262.8 80.7h0.85M260.5 83.3h0.85M261.4 80.4h0.85M258.1 77.2h0.85M260.6 82.7h0.85M261.4 73.8h0.85M264.6 75.4h0.85M261.7 73.9h0.85M262.7 77.8h0.85M261.3 76.2h0.85M260.8 75.3h0.85M259.6 80.6h0.85M263.0 73.5h0.85M259.9 78.4h0.85M265.1 76.7h0.85M261.2 76.6h0.85M262.1 76.8h0.85M263.3 80.0h0.85M262.5 81.6h0.85M261.3 75.8h0.85M266.2 72.1h0.85M259.3 70.9h0.85M262.2 74.4h0.85M263.3 71.6h0.85M261.5 76.2h0.85M260.1 80.3h0.85M261.1 78.5h0.85M260.9 77.7h0.85M261.0 77.5h0.85M261.5 75.5h0.85M262.4 76.8h0.85M260.2 74.5h0.85M262.4 80.9h0.85M259.7 76.2h0.85M262.4 80.1h0.85M262.8 74.1h0.85M261.8 79.7h0.85M262.1 76.7h0.85M259.9 77.7h0.85M261.6 77.4h0.85M264.0 80.5h0.85M260.5 77.9h0.85M261.2 77.6h0.85M264.2 79.8h0.85M261.8 75.5h0.85M261.5 78.3h0.85M260.9 80.3h0.85M261.7 74.1h0.85M264.8 69.4h0.85M261.3 77.0h0.85M263.2 80.3h0.85M263.9 81.5h0.85M262.2 77.6h0.85M263.2 77.2h0.85M259.8 76.1h0.85M262.7 79.0h0.85M260.0 80.5h0.85M262.2 73.2h0.85M262.4 80.0h0.85M262.5 76.5h0.85M260.5 80.3h0.85M262.0 77.3h0.85M261.1 74.5h0.85M258.9 76.4h0.85M263.4 79.4h0.85M260.7 81.4h0.85M261.4 74.6h0.85M263.2 81.0h0.85M261.1 74.0h0.85M261.6 70.7h0.85M261.8 81.4h0.85M262.1 75.3h0.85M262.8 76.0h0.85M263.6 76.3h0.85M264.8 76.3h0.85M262.0 74.8h0.85M259.8 78.2h0.85M262.2 74.7h0.85M262.5 76.2h0.85M260.9 77.1h0.85M262.3 79.3h0.85M263.6 78.3h0.85M260.6 75.4h0.85M262.3 74.1h0.85M261.4 76.3h0.85M261.6 77.8h0.85M263.3 81.7h0.85M263.0 80.0h0.85M260.1 80.1h0.85M263.7 73.6h0.85M265.5 75.8h0.85M258.1 82.1h0.85M261.8 75.1h0.85M260.8 80.2h0.85M262.1 76.3h0.85M263.4 74.8h0.85M260.4 75.8h0.85M260.6 79.2h0.85M261.4 74.4h0.85M261.0 71.9h0.85M261.9 77.6h0.85M262.6 76.7h0.85M262.3 74.8h0.85M261.7 77.7h0.85M259.9 78.9h0.85M261.9 77.4h0.85M261.0 82.7h0.85M261.7 75.2h0.85M260.4 78.9h0.85M261.4 75.2h0.85M260.6 79.8h0.85M261.8 80.1h0.85M261.7 74.1h0.85M263.0 78.2h0.85M260.7 76.5h0.85M260.2 79.5h0.85M261.1 78.6h0.85M262.1 76.6h0.85M262.3 76.6h0.85M259.9 76.2h0.85M259.9 79.3h0.85M262.7 75.7h0.85M262.6 78.0h0.85M263.2 74.8h0.85M261.7 74.6h0.85M260.7 81.0h0.85M258.7 74.8h0.85M262.4 79.4h0.85M260.5 71.8h0.85M259.1 78.3h0.85M263.4 79.7h0.85M260.6 80.9h0.85M261.4 79.0h0.85M261.4 81.6h0.85M260.9 71.5h0.85M261.2 77.8h0.85M262.1 75.4h0.85M261.4 74.2h0.85M261.3 77.5h0.85M262.1 81.7h0.85M258.7 78.7h0.85M262.3 74.2h0.85M261.8 77.3h0.85M260.2 79.2h0.85M264.6 79.1h0.85M262.9 80.2h0.85M261.5 79.9h0.85M260.5 77.8h0.85M262.8 80.8h0.85M261.3 76.5h0.85M262.4 77.1h0.85M261.9 79.5h0.85M260.6 79.7h0.85M262.3 76.6h0.85M259.8 75.6h0.85M261.6 79.8h0.85M258.8 79.2h0.85M262.0 74.3h0.85M263.0 78.4h0.85M262.4 74.7h0.85M260.0 79.7h0.85M263.8 78.3h0.85M261.4 76.1h0.85M259.1 79.9h0.85M261.6 80.6h0.85M260.6 80.1h0.85M260.6 78.9h0.85M263.8 75.4h0.85M263.1 77.3h0.85" stroke="#3a8cc8" stroke-width="0.85" fill="none" opacity="0.9"/>
<path d="M260.6 77.7h0.85M262.3 75.9h0.85M261.3 76.2h0.85M260.8 76.9h0.85M262.5 76.3h0.85M263.0 76.5h0.85M260.8 79.4h0.85M263.1 76.0h0.85M262.2 75.0h0.85M261.2 76.6h0.85M262.4 74.8h0.85M261.0 75.9h0.85M261.7 74.9h0.85M260.1 82.9h0.85M261.8 74.3h0.85M262.5 74.7h0.85M259.5 80.6h0.85M263.0 75.6h0.85M260.4 78.2h0.85M263.8 78.5h0.85M262.3 75.0h0.85M259.7 78.1h0.85M262.7 77.6h0.85M261.6 80.0h0.85M260.7 79.5h0.85M262.5 76.1h0.85M261.7 77.5h0.85M262.2 75.4h0.85M261.3 77.5h0.85M261.6 77.3h0.85M261.9 76.9h0.85M261.1 79.3h0.85M260.9 76.7h0.85M260.6 75.0h0.85M262.1 77.2h0.85M261.5 78.2h0.85M261.4 78.6h0.85M263.6 78.0h0.85M261.3 80.6h0.85M262.4 74.0h0.85M263.0 77.7h0.85M262.5 75.0h0.85M260.7 76.0h0.85M262.2 75.1h0.85M260.8 79.2h0.85M260.9 77.5h0.85M260.6 73.9h0.85M261.5 77.1h0.85M260.0 79.2h0.85M262.5 79.0h0.85M261.0 75.0h0.85M261.5 77.6h0.85M261.4 76.1h0.85M260.5 75.9h0.85M261.5 76.3h0.85M263.4 76.8h0.85M262.1 76.4h0.85M261.4 75.4h0.85M261.1 74.4h0.85M259.4 79.9h0.85M260.5 78.1h0.85M261.5 76.2h0.85M262.4 76.2h0.85M262.1 76.6h0.85M262.6 79.2h0.85M261.7 79.4h0.85M262.1 80.4h0.85M261.5 74.3h0.85M261.8 77.8h0.85M261.2 76.9h0.85M261.3 74.8h0.85M263.5 75.8h0.85M260.4 74.2h0.85M260.7 77.2h0.85M263.2 78.5h0.85M260.8 74.9h0.85M260.4 77.1h0.85M262.5 76.4h0.85M263.3 81.1h0.85M261.8 73.1h0.85M262.8 77.1h0.85M262.3 79.2h0.85M260.5 77.4h0.85M261.8 75.8h0.85M262.3 77.0h0.85M261.2 81.0h0.85M261.8 80.5h0.85M261.4 79.3h0.85M260.8 77.6h0.85M262.8 73.0h0.85M262.2 76.8h0.85M262.8 77.6h0.85M261.5 74.8h0.85M264.8 75.9h0.85M261.2 75.9h0.85M261.3 77.7h0.85M260.2 79.4h0.85M261.3 78.5h0.85M259.3 76.3h0.85M261.3 76.5h0.85M260.9 77.9h0.85M262.0 75.4h0.85M259.5 78.7h0.85M261.3 79.4h0.85M262.5 77.1h0.85M260.1 76.6h0.85M260.8 79.7h0.85M259.8 79.1h0.85M259.9 76.2h0.85M260.1 75.9h0.85M261.1 78.0h0.85M261.0 78.6h0.85M263.5 77.6h0.85M260.4 76.9h0.85M261.5 76.6h0.85M262.8 79.6h0.85M263.7 78.3h0.85M258.7 77.0h0.85M262.3 75.7h0.85M260.9 79.1h0.85M261.7 75.1h0.85M261.0 71.3h0.85M261.6 74.9h0.85M261.5 75.0h0.85M260.6 76.3h0.85M264.6 75.0h0.85M260.3 76.2h0.85M262.7 78.9h0.85M262.3 76.7h0.85M261.7 75.8h0.85M261.4 75.7h0.85M260.0 75.3h0.85M263.7 78.1h0.85M260.8 77.1h0.85M261.1 79.7h0.85M261.6 76.0h0.85M262.3 77.9h0.85M260.9 75.8h0.85M261.7 74.1h0.85M260.6 79.3h0.85M262.5 79.5h0.85M261.1 76.1h0.85M261.3 76.4h0.85M263.0 76.9h0.85M263.0 75.9h0.85M262.0 80.5h0.85M260.8 76.0h0.85M260.9 74.1h0.85M261.3 76.0h0.85M264.0 76.4h0.85M259.3 79.1h0.85M262.6 77.2h0.85M261.9 78.7h0.85M261.0 77.4h0.85M261.7 80.5h0.85M263.1 77.6h0.85M260.2 79.0h0.85M261.5 79.6h0.85M261.6 77.6h0.85M262.3 75.9h0.85M260.9 81.8h0.85M260.7 79.1h0.85M262.3 78.9h0.85M263.1 74.7h0.85M262.6 73.3h0.85M261.6 78.0h0.85M262.7 79.4h0.85M260.6 76.8h0.85M261.4 75.9h0.85M260.7 76.0h0.85M262.8 80.0h0.85M262.4 80.6h0.85M261.7 75.2h0.85M260.9 77.7h0.85M262.7 79.7h0.85M260.6 79.2h0.85M261.0 78.5h0.85M262.6 80.2h0.85M261.0 77.8h0.85M262.0 76.5h0.85" stroke="#48b088" stroke-width="0.85" fill="none" opacity="0.95"/>
<path d="M261.6 78.3h0.9M260.2 76.4h0.9M263.3 78.1h0.9M261.1 74.7h0.9M260.7 78.2h0.9M262.0 78.1h0.9M262.0 76.5h0.9M262.7 75.7h0.9M261.9 77.0h0.9M260.2 78.7h0.9M261.3 78.4h0.9M262.5 77.6h0.9M261.0 77.1h0.9M261.4 79.5h0.9M262.2 79.7h0.9M262.1 76.3h0.9M262.2 78.8h0.9M261.4 78.1h0.9M261.2 75.5h0.9M261.4 78.5h0.9M261.2 74.1h0.9M260.9 79.0h0.9M261.7 79.0h0.9M260.9 76.8h0.9M260.7 76.3h0.9M261.9 77.6h0.9M261.1 77.8h0.9M260.5 76.8h0.9M260.3 75.2h0.9M260.4 75.8h0.9M262.7 79.4h0.9M262.5 76.5h0.9M262.0 75.7h0.9M261.1 77.8h0.9M260.2 77.7h0.9M262.0 74.3h0.9M259.6 77.0h0.9M261.4 77.6h0.9M260.6 78.2h0.9M261.6 76.3h0.9M262.8 77.8h0.9M262.1 80.1h0.9M261.1 77.1h0.9M260.1 77.1h0.9M261.8 81.1h0.9M261.9 77.7h0.9M260.5 76.1h0.9M260.0 75.4h0.9M261.6 77.8h0.9M260.8 77.1h0.9M260.9 78.3h0.9M262.0 76.6h0.9M261.1 75.6h0.9M261.1 80.6h0.9M261.5 78.7h0.9M261.9 79.6h0.9M261.2 76.1h0.9M262.3 78.8h0.9M261.0 79.0h0.9M261.5 77.3h0.9M262.9 78.2h0.9M261.7 76.9h0.9M261.6 79.0h0.9M261.8 76.3h0.9M261.8 77.2h0.9M261.7 77.1h0.9M259.8 75.0h0.9M261.2 74.1h0.9M260.3 80.4h0.9M262.0 76.7h0.9M261.7 74.1h0.9M261.7 78.9h0.9M261.6 75.5h0.9M262.2 76.6h0.9M261.0 77.7h0.9M261.3 80.4h0.9M261.4 80.6h0.9M261.8 75.6h0.9M261.5 77.5h0.9M262.6 79.3h0.9M263.5 76.4h0.9M261.1 80.9h0.9M260.8 77.9h0.9M262.7 75.9h0.9M261.2 76.3h0.9M261.9 78.0h0.9M261.5 78.4h0.9M260.9 76.8h0.9M261.9 80.4h0.9M261.5 77.5h0.9M262.5 77.5h0.9M262.5 77.8h0.9M262.4 77.7h0.9M260.8 76.1h0.9M261.8 80.2h0.9M262.9 76.9h0.9M263.4 75.7h0.9M260.8 78.8h0.9M260.3 78.8h0.9M261.8 78.3h0.9M260.5 78.0h0.9M262.2 77.3h0.9M262.3 77.4h0.9M261.8 76.9h0.9M260.4 77.2h0.9M261.9 76.3h0.9M260.0 75.1h0.9M262.5 77.1h0.9M260.9 79.2h0.9M261.4 75.2h0.9M261.1 76.1h0.9M261.3 76.0h0.9M261.5 78.1h0.9M261.0 77.1h0.9M261.4 78.6h0.9M260.9 78.5h0.9M262.5 77.1h0.9M260.7 76.9h0.9M260.1 76.6h0.9M260.6 77.1h0.9M261.2 78.2h0.9M261.6 78.0h0.9M261.5 77.8h0.9M260.6 78.4h0.9M262.5 79.1h0.9M260.4 78.0h0.9M260.2 78.5h0.9M261.3 76.7h0.9M260.9 77.0h0.9M261.5 76.0h0.9" stroke="#8cc040" stroke-width="0.9" fill="none" opacity="1"/>
<path d="M261.5 77.8h0.9M261.8 77.5h0.9M261.5 79.8h0.9M262.0 77.8h0.9M260.8 78.1h0.9M261.8 74.8h0.9M261.4 77.9h0.9M261.5 77.6h0.9M261.4 78.9h0.9M261.7 77.2h0.9M261.4 79.6h0.9M261.1 77.0h0.9M261.7 77.6h0.9M261.6 78.9h0.9M262.1 77.9h0.9M261.5 77.4h0.9M261.4 78.5h0.9M260.9 76.5h0.9M261.3 76.5h0.9M261.1 78.7h0.9M260.4 78.1h0.9M260.8 77.3h0.9M261.2 76.5h0.9M260.8 77.6h0.9M260.0 75.4h0.9M261.3 78.6h0.9M262.4 77.2h0.9M261.1 77.2h0.9M261.7 78.4h0.9M261.0 78.0h0.9M261.5 78.6h0.9M261.3 77.3h0.9M261.1 76.2h0.9M261.6 78.2h0.9M262.0 77.8h0.9M261.3 76.6h0.9M260.9 76.8h0.9M261.7 77.6h0.9M260.4 77.4h0.9M261.4 76.5h0.9M261.5 78.0h0.9M261.0 76.1h0.9M261.3 77.8h0.9M261.4 79.0h0.9M261.6 76.5h0.9M261.9 76.9h0.9M261.8 77.6h0.9M262.1 76.5h0.9M261.9 77.9h0.9M261.0 78.2h0.9M262.6 77.9h0.9M261.1 77.3h0.9M262.1 77.8h0.9M262.2 76.8h0.9M262.1 75.9h0.9M261.4 77.2h0.9M261.3 78.7h0.9M261.2 77.9h0.9M262.4 78.3h0.9M261.3 76.8h0.9M260.5 77.9h0.9M261.9 78.6h0.9M261.6 79.7h0.9M261.9 75.2h0.9M261.1 78.3h0.9M261.3 78.3h0.9M262.8 76.7h0.9M262.6 77.4h0.9M260.8 77.6h0.9M261.9 76.9h0.9" stroke="#bcc82c" stroke-width="0.9" fill="none" opacity="1"/>
<path d="M259.4 91.9h0.7M255.6 92.5h0.7M255.5 92.0h0.7M255.9 92.4h0.7M259.8 92.6h0.7M260.1 92.2h0.7M252.4 92.2h0.7M255.1 91.9h0.7M254.9 92.2h0.7M256.1 92.5h0.7M254.0 92.5h0.7M256.1 92.4h0.7M258.7 91.8h0.7M259.5 92.0h0.7M256.9 92.5h0.7M258.0 91.7h0.7M256.3 92.5h0.7M255.7 92.2h0.7M256.1 92.7h0.7M254.8 91.9h0.7M253.6 92.0h0.7M255.5 92.3h0.7M255.8 91.7h0.7M252.5 92.4h0.7M257.6 91.8h0.7M258.0 91.5h0.7M261.1 92.4h0.7M252.4 92.4h0.7M255.9 92.1h0.7M255.2 92.1h0.7M255.8 91.9h0.7M254.7 92.4h0.7M257.2 91.8h0.7M254.9 92.7h0.7M257.6 92.7h0.7M253.0 91.9h0.7M251.2 91.6h0.7M255.2 91.9h0.7M253.6 92.0h0.7M255.6 92.5h0.7M257.2 91.7h0.7M259.3 92.1h0.7M253.8 92.2h0.7M255.1 91.8h0.7M259.4 92.0h0.7M254.7 92.4h0.7M259.7 92.3h0.7M254.0 92.3h0.7M258.4 92.3h0.7M257.4 92.1h0.7" stroke="#222" stroke-width="0.7" fill="none" opacity="1"/>
</g>
<path d="M248.6 91.4V60.4H280.8L272.2 91.4Z" fill="none" stroke="#333" stroke-width="0.65"/>
<text x="261.2" y="49.4" font-size="5.0" text-anchor="middle" font-weight="normal" fill="#111" textLength="21" lengthAdjust="spacingAndGlyphs" stroke="#111" stroke-width="0.06">Live cells</text>
<text x="261.9" y="55.4" font-size="5.0" text-anchor="middle" font-weight="normal" fill="#111" textLength="16.5" lengthAdjust="spacingAndGlyphs" stroke="#111" stroke-width="0.06">100.0%</text>
<text x="0" y="0" font-size="8.8" text-anchor="middle" font-weight="normal" fill="#111" textLength="17" lengthAdjust="spacingAndGlyphs" transform="translate(222.4 58.8) rotate(-90)" stroke="#111" stroke-width="0.5">SSC-A</text>
<text x="282.3" y="125.8" font-size="8.3" text-anchor="middle" font-weight="normal" fill="#111" textLength="41" lengthAdjust="spacingAndGlyphs" stroke="#111" stroke-width="0.5">Live/Dead 620</text>
<rect x="345.6" y="22.4" width="70.0" height="71.0" fill="#fff" stroke="#8c8c8c" stroke-width="0.55"/>
<text x="343.4" y="32.0" font-size="6.8" text-anchor="end" font-weight="normal" fill="#111" stroke="#111" stroke-width="0.24">10<tspan font-size="4.9" dy="-2.6">5</tspan></text>
<path d="M344.0 29.4h1.6" stroke="#333" stroke-width="0.6"/>
<text x="343.4" y="48.4" font-size="6.8" text-anchor="end" font-weight="normal" fill="#111" stroke="#111" stroke-width="0.24">10<tspan font-size="4.9" dy="-2.6">4</tspan></text>
<path d="M344.0 45.8h1.6" stroke="#333" stroke-width="0.6"/>
<text x="343.4" y="65.7" font-size="6.8" text-anchor="end" font-weight="normal" fill="#111" stroke="#111" stroke-width="0.24">10<tspan font-size="4.9" dy="-2.6">3</tspan></text>
<path d="M344.0 63.1h1.6" stroke="#333" stroke-width="0.6"/>
<text x="343.4" y="83.2" font-size="6.8" text-anchor="end" font-weight="normal" fill="#111" stroke="#111" stroke-width="0.24">0</text>
<path d="M344.0 80.8h1.6" stroke="#333" stroke-width="0.6"/>
<text x="0" y="0" font-size="7.0" text-anchor="end" font-weight="normal" fill="#111" transform="translate(353.1 103.2) rotate(-45)" stroke="#111" stroke-width="0.24">−10<tspan font-size="4.9" dy="-2.4">3</tspan></text>
<path d="M350.7 93.4v1.6" stroke="#333" stroke-width="0.6"/>
<text x="0" y="0" font-size="7.0" text-anchor="end" font-weight="normal" fill="#111" transform="translate(366.5 101.4) rotate(-45)" stroke="#111" stroke-width="0.24">0</text>
<path d="M364.6 93.4v1.6" stroke="#333" stroke-width="0.6"/>
<text x="0" y="0" font-size="7.0" text-anchor="end" font-weight="normal" fill="#111" transform="translate(378.2 103.2) rotate(-45)" stroke="#111" stroke-width="0.24">10<tspan font-size="4.9" dy="-2.4">3</tspan></text>
<path d="M375.8 93.4v1.6" stroke="#333" stroke-width="0.6"/>
<text x="0" y="0" font-size="7.0" text-anchor="end" font-weight="normal" fill="#111" transform="translate(394.2 103.2) rotate(-45)" stroke="#111" stroke-width="0.24">10<tspan font-size="4.9" dy="-2.4">4</tspan></text>
<path d="M391.8 93.4v1.6" stroke="#333" stroke-width="0.6"/>
<text x="0" y="0" font-size="7.0" text-anchor="end" font-weight="normal" fill="#111" transform="translate(410.6 103.2) rotate(-45)" stroke="#111" stroke-width="0.24">10<tspan font-size="4.9" dy="-2.4">5</tspan></text>
<path d="M408.2 93.4v1.6" stroke="#333" stroke-width="0.6"/>
<clipPath id="c4"><rect x="345.90000000000003" y="22.7" width="69.4" height="70.4"/></clipPath>
<filter id="bl4" x="-30%" y="-30%" width="160%" height="160%"><feGaussianBlur stdDeviation="1.8"/></filter>
<g clip-path="url(#c4)">
<ellipse cx="372" cy="51" rx="6" ry="8" fill="#a8a0e0" opacity="0.4" filter="url(#bl4)"/>
<ellipse cx="374" cy="70" rx="5" ry="12" fill="#b0b0e8" opacity="0.3" filter="url(#bl4)"/>
<path d="M370.5 36.1h0.7M365.6 43.2h0.7M371.0 77.5h0.7M354.1 40.8h0.7M364.0 56.8h0.7M379.7 47.9h0.7M365.1 73.8h0.7M373.8 64.9h0.7M377.2 48.4h0.7M372.7 49.4h0.7M365.6 59.7h0.7M374.3 41.4h0.7M365.2 65.9h0.7M372.2 66.7h0.7M368.6 47.5h0.7M376.9 65.8h0.7M349.6 69.3h0.7M365.3 66.7h0.7M382.8 54.4h0.7M363.7 61.4h0.7M371.7 65.4h0.7M360.4 61.2h0.7M377.7 67.1h0.7M375.7 73.6h0.7M364.8 74.0h0.7M372.6 45.0h0.7M368.8 61.5h0.7M373.5 75.6h0.7M372.4 51.3h0.7M387.4 53.7h0.7M364.8 70.1h0.7M367.9 47.7h0.7M363.0 73.5h0.7M363.0 59.4h0.7M367.6 55.5h0.7M364.8 60.0h0.7M375.5 71.8h0.7M368.3 42.8h0.7M359.8 58.1h0.7M352.3 75.4h0.7M371.2 59.6h0.7M360.5 49.6h0.7M365.4 66.8h0.7M367.9 66.1h0.7M374.9 33.0h0.7M369.2 74.5h0.7M367.1 59.7h0.7M370.0 42.1h0.7M387.4 56.3h0.7M375.8 52.2h0.7M381.5 73.1h0.7M379.9 70.5h0.7M376.3 76.1h0.7M374.0 59.8h0.7M377.1 46.5h0.7M351.9 68.6h0.7M372.1 48.9h0.7M369.0 45.7h0.7M364.7 60.5h0.7M371.9 68.9h0.7M370.3 66.3h0.7M376.1 49.0h0.7M358.3 49.2h0.7M369.1 51.2h0.7M387.6 49.2h0.7M374.6 48.2h0.7M376.2 41.7h0.7M378.2 60.5h0.7M368.0 42.6h0.7M383.6 50.6h0.7M381.8 26.8h0.7M362.0 81.7h0.7M384.4 58.4h0.7M378.5 66.0h0.7M368.3 59.8h0.7M362.4 40.7h0.7M371.9 67.6h0.7M372.2 42.2h0.7M377.4 59.3h0.7M376.7 54.4h0.7M369.0 71.8h0.7M381.3 42.5h0.7M362.7 70.7h0.7M373.7 58.8h0.7M363.6 71.3h0.7M372.4 61.0h0.7M373.9 51.4h0.7M374.0 59.9h0.7M376.4 63.1h0.7M361.4 49.0h0.7M369.0 73.3h0.7M366.1 72.9h0.7M379.1 69.5h0.7M388.0 58.0h0.7M373.4 74.0h0.7M374.1 71.1h0.7M370.0 76.5h0.7M373.6 33.3h0.7M379.2 55.7h0.7M364.4 54.3h0.7M368.9 73.0h0.7M373.5 57.3h0.7M370.9 46.5h0.7M366.2 52.1h0.7M369.3 43.1h0.7M368.0 71.2h0.7M374.4 58.2h0.7M373.6 55.0h0.7M362.1 69.6h0.7M387.9 64.8h0.7M376.2 90.1h0.7M361.9 65.0h0.7M368.4 54.6h0.7M358.5 57.2h0.7M374.0 37.5h0.7M369.3 51.8h0.7M363.5 66.4h0.7M383.4 63.6h0.7M378.7 68.0h0.7M370.5 65.7h0.7M381.0 52.7h0.7M369.9 40.4h0.7M357.0 47.6h0.7M377.7 62.9h0.7M373.0 75.2h0.7M357.7 76.0h0.7M371.6 68.2h0.7M381.4 47.7h0.7M364.5 63.4h0.7M370.6 50.7h0.7M370.1 48.8h0.7M372.0 53.2h0.7M383.8 44.7h0.7M375.4 59.2h0.7M382.9 45.7h0.7M367.5 80.6h0.7M366.0 53.3h0.7M368.0 45.6h0.7M380.2 77.7h0.7M369.9 48.5h0.7M360.8 66.7h0.7M367.0 65.3h0.7M352.9 52.7h0.7M375.7 63.6h0.7M349.4 62.0h0.7M372.0 57.9h0.7M368.4 52.5h0.7M372.1 64.8h0.7M347.2 58.0h0.7M378.0 55.3h0.7M380.2 46.1h0.7M385.4 70.6h0.7M381.9 78.6h0.7M362.0 56.7h0.7M374.6 71.7h0.7M371.6 41.5h0.7M380.2 56.0h0.7M374.3 54.1h0.7M370.2 40.5h0.7M376.0 50.1h0.7M357.6 63.5h0.7M370.7 70.5h0.7M377.2 42.6h0.7M369.7 58.2h0.7M371.7 44.6h0.7M371.6 70.8h0.7M380.3 76.9h0.7M376.7 25.7h0.7M369.0 51.2h0.7M349.2 78.0h0.7M377.9 58.1h0.7M373.7 64.4h0.7M369.4 75.8h0.7M384.7 68.7h0.7M366.8 61.4h0.7M378.4 67.4h0.7M365.8 70.4h0.7M376.5 65.6h0.7M367.9 57.8h0.7M356.6 57.8h0.7M367.7 54.3h0.7M368.9 54.0h0.7M371.7 59.4h0.7M366.4 56.5h0.7M370.3 64.5h0.7M374.3 53.5h0.7M364.8 37.1h0.7M361.6 63.4h0.7M364.1 78.8h0.7M369.8 53.2h0.7M369.8 51.1h0.7M366.3 59.0h0.7M360.1 59.9h0.7M370.3 46.5h0.7M378.7 62.8h0.7M379.2 49.6h0.7M361.7 42.9h0.7M359.2 33.8h0.7M382.8 52.0h0.7M372.5 51.3h0.7M369.9 78.4h0.7M357.9 45.5h0.7M372.0 46.5h0.7M376.2 74.8h0.7M377.7 67.8h0.7M369.8 71.0h0.7M365.0 42.8h0.7M369.0 54.9h0.7M380.2 45.4h0.7M379.6 48.1h0.7M361.5 36.3h0.7M370.7 39.6h0.7M372.6 58.7h0.7M368.0 33.4h0.7M367.1 63.8h0.7M357.6 67.0h0.7M371.1 51.1h0.7M372.5 66.5h0.7M370.8 48.1h0.7M376.9 49.4h0.7M373.7 70.6h0.7M380.8 78.6h0.7M378.7 60.0h0.7M369.5 60.5h0.7M376.0 47.5h0.7M382.5 37.7h0.7M378.6 41.7h0.7M362.8 51.6h0.7M368.9 40.8h0.7M375.7 56.6h0.7M381.1 45.0h0.7M357.4 66.9h0.7M369.3 70.6h0.7M353.4 42.0h0.7M371.7 83.2h0.7M361.7 33.6h0.7M367.6 76.3h0.7M382.9 40.6h0.7M366.4 34.4h0.7M364.7 45.7h0.7M374.2 72.7h0.7M388.9 53.5h0.7M377.2 60.9h0.7M372.0 82.9h0.7M376.3 78.2h0.7M373.3 69.2h0.7M374.8 56.8h0.7M365.8 52.9h0.7M371.1 53.2h0.7M368.4 49.0h0.7M377.5 54.9h0.7M370.1 55.3h0.7M380.9 51.2h0.7M381.6 47.0h0.7M382.5 65.9h0.7M367.3 63.9h0.7M379.6 45.8h0.7M369.3 62.1h0.7M369.4 54.3h0.7M371.2 62.1h0.7M376.8 77.0h0.7M368.5 80.9h0.7M370.1 39.4h0.7M367.7 53.6h0.7M379.0 32.1h0.7M366.3 56.4h0.7M375.9 63.1h0.7M377.5 56.0h0.7M369.3 73.6h0.7M383.9 63.0h0.7M372.2 47.0h0.7M386.8 63.2h0.7M375.7 37.4h0.7M375.6 89.3h0.7M369.8 55.4h0.7M382.5 55.7h0.7M377.3 83.0h0.7M362.3 47.4h0.7M376.1 59.6h0.7M371.3 55.9h0.7M372.0 62.6h0.7M367.5 54.5h0.7M372.8 44.1h0.7M374.3 29.8h0.7M375.8 56.5h0.7M362.2 75.4h0.7M362.2 84.6h0.7M365.6 73.6h0.7M370.5 78.8h0.7M369.4 71.3h0.7M368.6 33.9h0.7M373.9 64.2h0.7M374.0 79.6h0.7M365.5 39.7h0.7M372.9 49.1h0.7M370.3 58.0h0.7M364.9 72.1h0.7M370.1 81.1h0.7M372.9 71.7h0.7M368.9 49.6h0.7M367.1 46.7h0.7M374.4 59.8h0.7M363.0 38.2h0.7M364.6 34.6h0.7M364.4 38.5h0.7M376.3 43.1h0.7M366.6 56.5h0.7M371.3 63.5h0.7M376.7 66.3h0.7M368.5 74.1h0.7M373.8 48.9h0.7M382.2 42.8h0.7M374.6 74.2h0.7M371.9 62.5h0.7M371.9 66.6h0.7M372.7 58.1h0.7M376.3 33.6h0.7M372.9 54.2h0.7M385.6 61.8h0.7M366.1 66.5h0.7M368.2 42.8h0.7M369.0 64.5h0.7M379.9 71.6h0.7M372.7 56.0h0.7M372.5 73.6h0.7M370.1 73.0h0.7M365.1 57.9h0.7M376.8 67.1h0.7M372.5 51.4h0.7M357.7 52.4h0.7M364.7 52.9h0.7M382.8 48.1h0.7M377.3 57.8h0.7M362.8 59.4h0.7M376.6 42.8h0.7M362.4 53.1h0.7M376.4 50.3h0.7M374.2 63.9h0.7M371.1 63.8h0.7M380.4 55.6h0.7M373.4 44.3h0.7M365.7 56.8h0.7M377.1 49.4h0.7M360.7 69.9h0.7M388.6 24.9h0.7M363.2 59.6h0.7M374.6 45.9h0.7M373.5 72.2h0.7M369.0 67.4h0.7M372.0 46.1h0.7M366.5 50.2h0.7M380.9 72.9h0.7M372.8 37.9h0.7M367.4 52.9h0.7M356.8 57.8h0.7M373.1 41.0h0.7M367.9 52.2h0.7M384.6 66.6h0.7M376.7 59.1h0.7M361.6 69.9h0.7M366.1 33.3h0.7M376.4 53.6h0.7M371.0 64.6h0.7M369.3 63.3h0.7M380.5 53.9h0.7M368.4 58.3h0.7M375.8 52.9h0.7M371.6 49.3h0.7M370.5 65.0h0.7M365.0 55.7h0.7M360.3 49.0h0.7M371.6 64.8h0.7M363.5 56.7h0.7M364.2 62.1h0.7M373.0 63.7h0.7M369.5 39.8h0.7M366.9 40.9h0.7M366.1 57.3h0.7M378.9 49.8h0.7M365.4 60.6h0.7M355.9 83.5h0.7M359.7 71.0h0.7M378.2 70.4h0.7M370.3 67.4h0.7M368.5 70.3h0.7M366.2 47.6h0.7M373.8 52.2h0.7M375.9 47.0h0.7M373.0 45.4h0.7M370.3 85.5h0.7M363.2 42.3h0.7M359.3 55.1h0.7M382.9 52.2h0.7M377.8 55.7h0.7M366.4 83.7h0.7M378.9 34.5h0.7M363.9 63.3h0.7M375.8 55.2h0.7M373.3 64.9h0.7M368.5 70.8h0.7M364.8 67.7h0.7M377.7 60.6h0.7M368.5 57.8h0.7M354.8 61.3h0.7M360.7 32.2h0.7M376.6 46.3h0.7M373.6 58.6h0.7M358.2 46.5h0.7M369.0 64.0h0.7M371.5 41.8h0.7M367.2 59.4h0.7M361.8 52.4h0.7M367.0 30.8h0.7M383.6 69.2h0.7M367.6 70.1h0.7M363.4 77.6h0.7M368.3 59.8h0.7M366.8 59.2h0.7M373.4 58.4h0.7M365.0 67.7h0.7" stroke="#a4a2e0" stroke-width="0.7" fill="none" opacity="0.6"/>
<path d="M374.3 52.0h0.7M376.3 47.3h0.7M377.2 51.0h0.7M378.2 49.2h0.7M371.0 53.4h0.7M376.5 61.2h0.7M370.2 47.3h0.7M375.1 59.9h0.7M374.9 49.9h0.7M377.2 51.8h0.7M372.7 56.0h0.7M369.7 37.5h0.7M372.9 56.6h0.7M373.8 55.5h0.7M372.7 58.7h0.7M372.5 61.6h0.7M372.2 57.1h0.7M369.8 53.9h0.7M373.7 52.9h0.7M378.3 52.3h0.7M376.6 54.3h0.7M376.4 46.2h0.7M370.5 58.2h0.7M368.7 54.5h0.7M374.3 53.3h0.7M373.8 55.5h0.7M371.0 54.6h0.7M369.9 49.1h0.7M365.6 51.3h0.7M365.1 52.2h0.7M372.9 45.0h0.7M372.3 53.9h0.7M370.6 46.2h0.7M371.6 54.6h0.7M375.8 64.4h0.7M364.0 54.2h0.7M373.8 47.9h0.7M373.3 65.4h0.7M372.5 60.7h0.7M376.3 49.2h0.7M362.6 59.4h0.7M378.3 40.7h0.7M371.2 47.5h0.7M372.8 52.4h0.7M376.7 48.2h0.7M379.8 41.1h0.7M372.9 69.2h0.7M371.6 56.0h0.7M370.1 73.2h0.7M375.6 49.8h0.7M364.2 53.4h0.7M375.0 38.9h0.7M370.0 55.6h0.7M362.2 50.8h0.7M365.5 43.4h0.7M373.7 59.3h0.7M376.7 47.8h0.7M374.1 40.6h0.7M366.0 55.5h0.7M370.4 45.5h0.7M364.4 50.5h0.7M381.1 39.1h0.7M367.8 59.2h0.7M364.2 48.0h0.7M372.3 59.3h0.7M371.7 63.7h0.7M371.9 51.3h0.7M373.8 54.3h0.7M365.9 45.9h0.7M371.0 54.2h0.7M367.0 47.4h0.7M369.0 54.2h0.7M370.3 55.9h0.7M373.6 46.1h0.7M370.8 44.0h0.7M372.4 57.2h0.7M368.0 40.6h0.7M374.1 50.1h0.7M371.9 55.0h0.7M373.5 58.0h0.7M370.1 37.8h0.7M370.0 50.0h0.7M370.3 54.5h0.7M371.0 60.4h0.7M369.4 52.0h0.7M370.5 65.6h0.7M368.1 45.6h0.7M370.5 56.9h0.7M372.1 50.9h0.7M366.0 38.6h0.7M371.1 50.5h0.7M379.2 54.4h0.7M373.7 58.2h0.7M368.3 44.1h0.7M370.5 61.6h0.7M376.0 48.2h0.7M366.9 58.0h0.7M376.5 44.9h0.7M378.6 47.0h0.7M375.1 50.7h0.7M370.7 48.1h0.7M374.8 56.0h0.7M375.3 50.2h0.7M368.5 65.9h0.7M379.0 50.8h0.7M367.3 61.7h0.7M372.5 52.4h0.7M375.5 54.3h0.7M372.5 64.9h0.7M364.3 56.2h0.7M368.0 52.5h0.7M371.3 53.7h0.7M362.1 56.5h0.7M381.6 49.3h0.7M375.7 56.0h0.7M373.2 48.8h0.7M374.6 53.8h0.7M378.0 57.4h0.7M369.1 33.1h0.7M378.2 55.2h0.7M372.7 48.1h0.7M382.3 60.7h0.7M372.4 49.6h0.7M374.4 60.8h0.7M374.1 58.1h0.7M373.1 54.3h0.7M366.8 52.8h0.7M372.2 51.5h0.7M371.0 54.0h0.7M369.6 50.7h0.7M366.6 67.0h0.7M368.3 44.2h0.7M369.8 49.3h0.7M367.6 36.2h0.7M378.8 58.6h0.7M370.4 55.6h0.7M367.4 41.5h0.7M373.4 55.7h0.7M369.2 52.0h0.7M359.3 51.2h0.7M376.4 53.1h0.7M372.8 55.7h0.7M363.3 43.7h0.7M366.7 53.6h0.7M369.4 39.8h0.7M375.7 50.8h0.7M376.1 65.0h0.7M365.1 43.7h0.7M376.5 61.1h0.7M373.6 54.3h0.7M374.9 56.2h0.7M366.7 56.8h0.7M376.1 49.4h0.7M368.2 48.8h0.7M369.6 55.4h0.7M375.2 52.2h0.7M370.7 40.5h0.7M370.2 45.5h0.7M369.7 54.2h0.7M372.7 74.7h0.7M368.4 48.5h0.7M367.2 50.3h0.7M370.8 58.5h0.7M363.9 57.9h0.7M374.7 48.6h0.7M369.1 53.3h0.7M374.2 51.0h0.7M371.3 52.1h0.7M367.5 53.8h0.7M374.4 52.3h0.7M367.2 52.0h0.7M371.5 54.0h0.7M370.3 57.4h0.7M376.5 57.3h0.7M373.0 59.9h0.7M371.8 50.9h0.7M366.0 52.1h0.7M377.1 45.9h0.7M375.2 43.8h0.7M373.2 63.8h0.7M372.2 44.5h0.7M373.2 51.1h0.7M375.3 48.7h0.7M364.8 48.9h0.7M374.4 58.6h0.7M373.1 52.2h0.7M374.8 50.8h0.7M370.1 53.5h0.7M376.5 48.8h0.7M374.1 47.9h0.7M368.9 53.1h0.7M366.4 46.6h0.7M367.0 48.2h0.7M368.2 66.9h0.7M374.5 52.5h0.7M366.4 36.8h0.7M373.8 48.0h0.7M376.3 49.5h0.7M366.5 47.9h0.7M365.6 43.0h0.7M374.9 48.6h0.7M374.9 48.4h0.7M371.0 48.5h0.7M369.7 47.8h0.7M378.2 51.7h0.7M363.8 62.8h0.7M377.2 59.2h0.7M371.5 51.0h0.7M370.0 52.8h0.7M373.9 52.0h0.7M368.5 45.9h0.7M378.9 62.7h0.7M366.8 48.0h0.7M371.8 55.7h0.7M371.5 53.5h0.7M373.5 59.3h0.7M366.5 59.0h0.7M373.8 55.4h0.7M365.7 50.6h0.7M370.9 56.1h0.7M374.8 56.4h0.7M366.6 60.0h0.7M372.2 57.9h0.7M371.9 47.6h0.7M382.9 56.2h0.7M375.1 49.1h0.7M371.0 59.1h0.7M373.8 63.1h0.7M377.0 45.2h0.7M365.5 59.4h0.7M374.5 50.4h0.7M370.7 48.5h0.7M379.5 51.0h0.7M366.2 57.7h0.7M371.6 54.3h0.7M370.3 51.8h0.7M364.1 55.4h0.7M369.1 49.6h0.7M373.3 60.1h0.7M362.9 51.2h0.7M374.2 58.4h0.7M368.1 54.0h0.7M373.6 57.9h0.7M369.3 50.9h0.7M369.8 59.2h0.7M376.5 49.3h0.7M371.4 53.4h0.7M368.2 51.3h0.7M375.6 56.9h0.7M369.1 48.0h0.7M371.4 42.9h0.7M373.2 52.8h0.7M366.3 50.6h0.7M369.2 50.4h0.7M368.3 60.6h0.7M367.9 56.8h0.7M372.8 61.1h0.7M371.7 52.1h0.7M372.2 40.3h0.7M382.0 50.7h0.7M370.6 45.0h0.7M371.4 62.1h0.7M368.8 54.8h0.7M376.3 57.9h0.7M370.2 41.2h0.7M373.6 55.6h0.7M370.6 49.4h0.7M379.3 42.2h0.7M369.8 48.3h0.7M365.4 47.8h0.7M368.6 59.8h0.7M364.6 43.5h0.7M373.0 42.5h0.7M363.5 48.2h0.7M366.9 46.0h0.7M371.3 54.9h0.7M369.2 50.4h0.7M374.9 51.1h0.7M375.0 48.4h0.7M374.0 60.0h0.7M366.1 70.6h0.7M370.6 50.0h0.7M371.2 54.9h0.7M366.9 52.3h0.7M369.5 60.9h0.7M364.7 56.1h0.7M370.6 47.5h0.7M372.5 50.6h0.7M372.1 53.6h0.7M377.0 49.6h0.7M378.9 35.4h0.7M379.6 59.6h0.7M378.5 53.3h0.7M373.1 45.8h0.7M377.5 44.9h0.7M368.6 52.1h0.7M372.9 54.2h0.7M367.0 50.0h0.7M374.0 59.4h0.7M375.1 54.6h0.7M370.8 48.7h0.7M369.8 51.5h0.7M374.1 49.0h0.7M380.5 45.9h0.7M375.3 50.8h0.7M371.3 49.7h0.7M378.3 50.3h0.7M374.2 52.8h0.7M375.1 55.7h0.7M378.8 47.6h0.7M368.5 62.5h0.7M377.3 52.5h0.7M370.7 53.7h0.7M377.4 47.4h0.7M378.0 51.7h0.7M370.4 49.7h0.7M363.1 54.1h0.7M366.4 48.7h0.7M368.2 53.5h0.7M374.9 52.3h0.7M372.7 54.6h0.7M378.6 55.6h0.7M378.5 51.7h0.7M373.4 48.1h0.7M374.4 46.8h0.7M373.9 48.2h0.7M370.4 59.6h0.7M372.5 57.0h0.7M370.9 40.7h0.7M378.1 51.0h0.7" stroke="#7a76c8" stroke-width="0.7" fill="none" opacity="0.7"/>
<path d="M371.4 80.3h0.7M369.2 67.5h0.7M379.7 67.9h0.7M379.6 70.8h0.7M373.4 73.6h0.7M372.1 81.2h0.7M379.4 73.6h0.7M377.2 77.2h0.7M382.1 61.2h0.7M379.1 80.0h0.7M373.0 73.2h0.7M372.8 82.5h0.7M369.2 77.7h0.7M380.3 77.4h0.7M372.2 69.7h0.7M364.7 65.4h0.7M379.4 66.0h0.7M366.9 71.3h0.7M367.6 76.6h0.7M370.4 80.3h0.7M373.9 62.4h0.7M370.9 68.3h0.7M370.6 82.4h0.7M369.8 75.9h0.7M371.7 77.6h0.7M367.9 61.3h0.7M376.8 83.9h0.7M368.1 70.8h0.7M372.1 66.1h0.7M378.9 73.5h0.7M368.1 71.5h0.7M380.5 67.8h0.7M372.1 66.9h0.7M375.2 68.9h0.7M378.5 66.9h0.7M367.7 76.5h0.7M359.9 66.0h0.7M375.7 75.0h0.7M371.8 69.8h0.7M370.7 71.8h0.7M372.3 77.3h0.7M374.5 77.3h0.7M381.9 71.1h0.7M373.1 76.0h0.7M384.0 70.4h0.7M382.2 82.1h0.7M361.9 65.6h0.7M369.9 76.1h0.7M380.5 73.6h0.7M375.2 89.5h0.7M376.1 89.3h0.7M370.3 85.5h0.7M372.1 54.9h0.7M370.6 69.6h0.7M374.2 78.8h0.7M377.6 77.1h0.7M371.0 86.6h0.7M379.9 73.4h0.7M371.8 72.8h0.7M373.4 67.9h0.7M374.4 68.1h0.7M377.4 68.2h0.7M376.7 75.6h0.7M375.2 77.1h0.7M369.7 92.6h0.7M371.3 78.7h0.7M374.5 69.9h0.7M382.4 81.5h0.7M373.2 77.4h0.7M377.6 85.1h0.7M379.1 71.9h0.7M373.3 64.4h0.7M375.6 79.7h0.7M372.6 78.1h0.7M375.0 69.6h0.7M368.8 81.5h0.7M386.1 77.3h0.7M369.5 65.3h0.7M375.6 78.0h0.7M381.4 54.9h0.7M382.9 74.4h0.7M375.1 76.0h0.7M372.8 71.0h0.7M379.3 60.0h0.7M373.9 77.4h0.7M366.9 71.9h0.7M381.5 75.9h0.7M377.7 78.5h0.7M375.5 75.8h0.7M370.7 71.5h0.7M382.9 63.8h0.7M373.7 63.5h0.7M372.0 67.3h0.7M368.8 75.0h0.7M370.1 77.1h0.7M382.8 53.7h0.7M373.7 57.2h0.7M373.9 76.0h0.7M375.4 82.3h0.7M375.2 60.0h0.7M381.4 65.9h0.7M374.0 75.6h0.7M370.4 73.8h0.7M381.3 60.3h0.7M366.8 69.7h0.7M373.7 63.4h0.7M363.9 80.1h0.7M376.3 63.0h0.7M377.1 72.6h0.7M375.2 63.0h0.7M373.5 76.8h0.7M366.4 65.1h0.7M378.9 88.3h0.7M377.5 72.6h0.7M369.5 70.0h0.7M373.3 76.5h0.7M373.3 92.0h0.7M380.6 56.4h0.7M369.1 73.1h0.7M379.0 76.2h0.7M361.8 60.6h0.7M380.7 77.6h0.7M386.3 79.2h0.7M376.6 84.8h0.7M372.4 68.9h0.7M369.8 75.0h0.7M376.5 80.2h0.7M381.1 77.9h0.7M380.2 71.2h0.7M370.0 78.7h0.7M379.2 83.3h0.7M373.7 69.5h0.7M372.8 75.8h0.7M374.3 71.7h0.7M375.7 70.9h0.7M376.0 68.5h0.7M367.4 70.7h0.7M383.2 66.9h0.7M378.7 83.4h0.7M372.0 75.1h0.7M364.0 77.5h0.7M381.6 74.5h0.7M365.3 68.6h0.7M371.1 73.9h0.7M375.8 69.9h0.7M373.1 66.8h0.7M377.1 74.6h0.7M376.1 69.2h0.7M376.8 70.8h0.7M375.9 71.9h0.7M371.4 64.7h0.7M365.9 62.6h0.7M366.9 66.8h0.7M373.5 64.1h0.7M376.4 89.1h0.7M361.6 64.1h0.7M380.2 64.1h0.7M374.0 68.2h0.7M378.0 61.9h0.7M375.9 74.7h0.7M377.1 76.3h0.7M375.2 59.4h0.7M373.0 65.8h0.7M376.9 71.3h0.7M375.2 81.5h0.7M374.0 86.0h0.7M378.3 61.6h0.7M371.8 82.4h0.7M372.2 82.3h0.7M371.9 72.1h0.7M379.2 60.9h0.7M374.8 69.5h0.7M375.3 86.2h0.7M376.8 62.6h0.7M378.9 69.6h0.7M375.3 82.0h0.7M373.1 80.4h0.7M375.3 66.1h0.7M373.1 62.6h0.7M379.9 74.3h0.7M379.0 64.4h0.7M378.4 63.8h0.7M375.8 72.9h0.7M371.8 75.4h0.7M374.7 66.3h0.7M371.1 63.0h0.7M380.8 74.2h0.7M372.8 78.4h0.7M370.5 64.0h0.7M376.1 85.3h0.7M375.9 74.2h0.7M382.5 61.1h0.7M388.6 64.5h0.7M374.2 62.6h0.7M368.9 71.2h0.7M385.8 65.7h0.7M371.7 75.1h0.7M369.8 71.0h0.7M378.3 56.2h0.7M373.1 70.7h0.7M372.1 72.1h0.7M366.2 69.6h0.7M372.1 65.0h0.7M380.3 88.5h0.7M378.2 66.3h0.7M381.0 76.9h0.7M370.7 77.7h0.7M371.8 77.4h0.7M378.7 82.0h0.7M369.6 72.0h0.7M374.5 63.5h0.7M376.4 78.4h0.7M368.1 68.7h0.7M369.4 63.1h0.7M369.6 83.7h0.7M371.4 69.9h0.7M379.1 80.9h0.7M381.0 56.9h0.7M378.0 59.4h0.7M371.6 69.8h0.7M371.9 88.2h0.7M373.7 82.1h0.7M373.7 72.5h0.7M376.9 76.4h0.7M376.8 59.6h0.7M376.8 75.5h0.7M377.3 72.6h0.7M376.4 62.9h0.7M379.7 63.6h0.7M381.0 80.9h0.7M374.2 70.7h0.7M378.1 70.6h0.7M369.0 75.2h0.7M368.9 69.5h0.7M382.8 79.3h0.7M372.4 72.5h0.7M371.5 72.9h0.7M367.8 78.3h0.7M374.6 68.3h0.7M372.5 69.3h0.7M371.8 69.2h0.7M380.5 78.3h0.7M376.4 75.8h0.7M369.3 54.2h0.7M381.4 78.6h0.7M375.5 75.2h0.7M375.4 73.2h0.7M373.3 55.7h0.7M377.1 73.4h0.7M379.0 75.4h0.7M373.2 77.7h0.7M375.4 69.6h0.7M372.8 69.7h0.7M373.1 69.5h0.7M374.0 81.7h0.7M365.4 47.9h0.7M372.3 71.8h0.7M371.1 62.4h0.7M370.6 69.0h0.7M375.2 70.4h0.7M369.0 70.1h0.7M381.5 66.1h0.7M374.8 80.8h0.7M370.8 68.6h0.7M387.8 82.6h0.7M372.1 74.2h0.7M375.0 74.1h0.7M376.6 70.7h0.7M364.3 65.5h0.7M375.2 62.4h0.7M373.0 84.7h0.7M375.6 67.9h0.7M375.1 81.2h0.7M366.6 63.3h0.7M371.5 69.6h0.7M374.1 68.5h0.7M375.0 73.7h0.7M369.1 68.1h0.7M368.8 75.2h0.7M375.7 78.1h0.7M370.5 68.9h0.7M364.3 73.1h0.7M367.1 75.7h0.7M379.5 76.5h0.7M377.4 74.8h0.7M376.2 80.3h0.7M380.3 88.7h0.7M373.3 79.5h0.7M378.5 76.3h0.7M375.7 63.2h0.7M379.5 66.1h0.7M371.5 66.4h0.7M377.1 65.5h0.7M376.6 77.4h0.7M375.0 70.4h0.7M377.2 83.2h0.7M372.4 64.8h0.7M371.7 66.2h0.7M373.4 71.8h0.7M363.9 84.3h0.7M370.8 69.7h0.7M365.5 57.7h0.7M369.8 74.8h0.7M378.4 58.9h0.7M375.5 84.8h0.7M373.2 80.1h0.7M375.9 65.8h0.7M379.1 68.3h0.7M376.1 69.9h0.7M373.5 74.2h0.7M380.6 59.9h0.7M369.4 73.8h0.7M379.0 71.5h0.7M373.6 77.1h0.7M381.7 66.0h0.7M367.2 70.8h0.7M378.0 62.8h0.7M379.7 80.3h0.7M378.1 66.4h0.7M368.6 78.1h0.7M375.7 78.3h0.7M368.3 50.1h0.7M379.6 80.8h0.7M373.2 73.0h0.7M376.6 78.8h0.7M373.6 69.0h0.7M370.0 81.0h0.7M375.0 46.6h0.7M376.1 68.6h0.7M368.7 69.0h0.7M368.6 69.5h0.7M372.0 77.0h0.7M369.9 58.9h0.7M371.7 62.3h0.7M377.9 71.4h0.7M366.8 66.2h0.7M374.4 72.7h0.7M366.0 72.0h0.7M375.9 80.7h0.7M379.5 72.0h0.7M368.5 70.1h0.7M377.5 65.9h0.7M380.3 65.6h0.7M369.3 79.4h0.7M374.0 75.5h0.7M373.1 73.2h0.7M371.8 87.7h0.7M377.5 72.0h0.7M376.7 79.5h0.7M372.1 74.4h0.7M375.4 68.6h0.7M370.9 71.4h0.7M373.1 69.8h0.7M365.6 73.6h0.7M377.5 73.6h0.7M382.4 79.7h0.7M372.9 67.8h0.7M376.8 70.1h0.7M367.1 73.9h0.7M373.1 71.2h0.7" stroke="#807ccc" stroke-width="0.7" fill="none" opacity="0.7"/>
<path d="M373.2 51.9h0.8M376.0 48.9h0.8M371.8 52.3h0.8M371.1 49.6h0.8M375.5 46.5h0.8M372.7 45.5h0.8M372.7 45.0h0.8M369.7 55.0h0.8M375.1 51.7h0.8M366.6 54.6h0.8M372.5 47.7h0.8M371.3 47.0h0.8M371.8 51.0h0.8M372.2 53.9h0.8M370.7 44.1h0.8M369.7 47.2h0.8M371.3 49.9h0.8M371.9 55.8h0.8M372.1 47.8h0.8M371.4 48.4h0.8M371.5 53.2h0.8M369.7 53.6h0.8M375.6 56.3h0.8M375.2 51.6h0.8M369.3 57.9h0.8M371.9 52.1h0.8M371.3 48.2h0.8M373.2 46.7h0.8M369.3 53.1h0.8M371.3 48.5h0.8M373.0 56.0h0.8M371.4 50.9h0.8M373.1 54.4h0.8M374.1 53.5h0.8M370.7 53.0h0.8M372.0 45.7h0.8M374.5 53.2h0.8M374.7 51.1h0.8M373.4 51.1h0.8M372.3 54.3h0.8M372.1 53.3h0.8M371.9 55.3h0.8M373.3 45.9h0.8M375.3 52.7h0.8M371.0 49.3h0.8M376.0 51.6h0.8M373.0 53.2h0.8M370.8 57.0h0.8M376.2 48.8h0.8M374.3 46.0h0.8M371.3 51.5h0.8M372.1 53.2h0.8M372.8 52.5h0.8M371.7 52.3h0.8M370.9 57.7h0.8M372.1 55.3h0.8M372.2 50.8h0.8M371.6 47.1h0.8M376.1 52.7h0.8M372.3 49.8h0.8M374.5 50.2h0.8M371.1 49.5h0.8M375.1 52.3h0.8M371.7 49.2h0.8M374.6 52.2h0.8M371.3 54.2h0.8M373.7 48.1h0.8M374.3 54.9h0.8M371.5 47.0h0.8M374.2 50.2h0.8M371.6 50.4h0.8M371.5 54.0h0.8M369.8 53.0h0.8M374.3 54.7h0.8M373.4 52.2h0.8M371.6 50.9h0.8M370.3 56.7h0.8M371.8 48.0h0.8M373.7 56.2h0.8M372.6 50.3h0.8M369.8 53.4h0.8M371.5 49.2h0.8M373.2 47.1h0.8M373.5 43.4h0.8M370.8 46.7h0.8M371.5 53.9h0.8M369.4 55.7h0.8M370.7 49.7h0.8M374.0 48.9h0.8M374.9 50.6h0.8M371.8 48.2h0.8M374.3 51.1h0.8M371.1 48.2h0.8M370.8 51.0h0.8M370.6 53.9h0.8M371.9 49.3h0.8M372.9 55.9h0.8M367.9 52.5h0.8M374.1 51.7h0.8M373.6 46.3h0.8M370.5 54.6h0.8M371.8 51.5h0.8M373.3 52.5h0.8M372.9 49.7h0.8M371.4 55.5h0.8M371.1 46.7h0.8M371.3 54.2h0.8M375.5 51.8h0.8M370.8 53.3h0.8M372.6 55.1h0.8M373.0 53.7h0.8M373.0 52.7h0.8M370.2 50.8h0.8M375.2 55.6h0.8M373.9 52.6h0.8M371.8 52.4h0.8M371.4 54.8h0.8M371.4 48.9h0.8M368.9 56.3h0.8M370.6 48.5h0.8M372.8 57.1h0.8M373.3 50.2h0.8M373.1 48.6h0.8M371.5 51.4h0.8M372.1 53.8h0.8M373.1 57.4h0.8M373.7 50.4h0.8M372.5 48.6h0.8M370.9 50.2h0.8M374.0 49.1h0.8M369.0 48.0h0.8M369.7 50.7h0.8M371.5 47.6h0.8M370.5 50.0h0.8M372.8 53.3h0.8M374.6 50.5h0.8M373.3 51.6h0.8M369.9 49.3h0.8M376.3 50.8h0.8M375.3 54.0h0.8" stroke="#7470c8" stroke-width="0.8" fill="none" opacity="0.8"/>
<path d="M373.4 50.9h0.8M372.7 50.6h0.8M370.8 48.7h0.8M372.3 47.7h0.8M372.2 49.3h0.8M372.2 48.2h0.8M372.7 50.8h0.8M370.3 48.0h0.8M371.9 47.6h0.8M372.2 52.4h0.8M371.2 54.5h0.8M373.2 52.0h0.8M372.3 52.4h0.8M371.6 54.3h0.8M371.3 45.6h0.8M371.9 52.3h0.8M372.6 48.8h0.8M373.2 49.4h0.8M372.4 53.0h0.8M372.0 53.9h0.8M371.4 56.0h0.8M372.3 50.4h0.8M374.4 51.3h0.8M370.3 54.5h0.8M373.3 50.0h0.8M370.9 53.9h0.8M371.9 49.1h0.8M371.4 51.5h0.8M372.8 54.9h0.8M371.2 54.8h0.8M370.4 52.9h0.8M371.7 52.3h0.8M371.4 49.7h0.8M372.1 53.9h0.8M369.7 51.4h0.8M371.5 48.9h0.8M370.5 52.5h0.8M372.4 52.8h0.8M369.9 47.8h0.8M371.2 50.3h0.8M373.5 50.4h0.8M372.0 53.6h0.8M373.5 52.2h0.8M372.2 55.7h0.8M371.5 47.2h0.8M371.1 50.6h0.8M373.1 52.0h0.8M373.0 51.5h0.8M371.9 50.0h0.8M370.6 52.5h0.8M372.2 52.6h0.8M371.3 50.4h0.8M372.2 52.7h0.8M373.8 49.3h0.8M372.8 53.3h0.8M371.6 51.6h0.8M371.8 54.8h0.8M374.3 52.0h0.8M371.6 53.5h0.8M372.3 50.9h0.8" stroke="#a0b070" stroke-width="0.8" fill="none" opacity="0.9"/>
<path d="M372.2 53.0h0.9M371.5 52.9h0.9M370.2 48.9h0.9M371.5 51.6h0.9M370.7 54.1h0.9M371.5 51.6h0.9M371.7 52.7h0.9M371.3 52.7h0.9M371.2 48.5h0.9M372.1 51.6h0.9M372.3 47.6h0.9M371.8 50.1h0.9M371.6 50.6h0.9M371.5 50.0h0.9M372.4 48.0h0.9M370.6 52.0h0.9M373.1 49.9h0.9M371.1 49.1h0.9M371.0 53.7h0.9M372.2 53.0h0.9M372.0 51.7h0.9M371.3 49.5h0.9M372.2 56.0h0.9M371.5 53.7h0.9M371.3 51.4h0.9M372.9 51.2h0.9M372.2 50.2h0.9M373.0 49.0h0.9M372.1 50.9h0.9M371.9 52.0h0.9M372.6 53.0h0.9M372.4 52.0h0.9M371.0 53.9h0.9M372.8 52.2h0.9M372.3 50.9h0.9M370.8 53.2h0.9M371.2 54.9h0.9M372.2 51.3h0.9M371.3 51.5h0.9M371.0 50.6h0.9M372.8 50.7h0.9M373.0 51.1h0.9M372.0 49.5h0.9M371.5 50.5h0.9M370.8 55.0h0.9M372.1 51.1h0.9M371.0 51.4h0.9M371.0 49.5h0.9M371.6 55.4h0.9M370.5 52.4h0.9M371.4 45.8h0.9M370.8 51.0h0.9M371.8 49.9h0.9M372.9 52.3h0.9M371.3 48.2h0.9M371.8 50.0h0.9M372.4 49.3h0.9M372.5 50.4h0.9M371.9 50.8h0.9M372.1 53.5h0.9M371.4 49.6h0.9M373.0 53.1h0.9M373.0 53.1h0.9M371.8 54.4h0.9M371.3 50.5h0.9M371.5 52.6h0.9M371.1 51.0h0.9M371.2 50.9h0.9M372.5 53.4h0.9M371.6 56.2h0.9" stroke="#c4b830" stroke-width="0.9" fill="none" opacity="1"/>
<path d="M371.4 52.4h0.9M371.5 48.8h0.9M371.1 53.5h0.9M370.9 55.7h0.9M371.7 52.2h0.9M372.3 51.8h0.9M371.4 51.0h0.9M371.3 52.5h0.9" stroke="#dca040" stroke-width="0.9" fill="none" opacity="0.9"/>
<path d="M364.0 92.9h0.7M362.6 92.7h0.7M367.4 92.9h0.7M364.5 93.1h0.7M365.0 93.2h0.7M363.1 93.0h0.7M363.2 93.0h0.7M368.0 93.2h0.7M363.5 92.9h0.7M365.3 92.6h0.7M365.0 92.5h0.7M366.0 93.1h0.7M364.4 93.0h0.7M367.9 92.8h0.7M362.1 92.9h0.7M364.0 92.6h0.7M365.9 93.1h0.7M365.5 93.3h0.7M363.8 92.7h0.7M365.2 92.0h0.7M360.9 92.9h0.7M364.4 92.8h0.7M363.3 92.9h0.7M366.1 92.6h0.7M365.4 92.8h0.7M364.4 92.8h0.7M366.7 93.0h0.7M365.6 92.8h0.7M361.7 93.1h0.7M364.6 92.8h0.7M363.9 92.4h0.7M366.7 93.3h0.7M366.8 92.3h0.7M365.4 92.5h0.7M364.4 92.7h0.7M363.8 92.6h0.7M364.0 93.0h0.7M366.8 93.1h0.7M364.6 92.8h0.7M364.3 92.8h0.7" stroke="#222" stroke-width="0.7" fill="none" opacity="1"/>
<path d="M345.8 80.5h0.7M346.3 80.5h0.7M345.8 80.6h0.7M346.0 80.7h0.7M345.9 81.9h0.7M346.0 79.3h0.7M346.2 79.7h0.7M346.2 82.1h0.7M346.1 81.3h0.7M345.6 80.5h0.7M346.0 81.8h0.7M345.7 80.6h0.7M345.6 81.1h0.7M346.0 81.0h0.7M346.5 81.9h0.7M345.9 79.9h0.7M345.9 82.0h0.7M346.3 80.0h0.7M346.0 80.1h0.7M346.2 81.1h0.7M345.8 79.4h0.7M346.4 78.7h0.7M345.5 76.1h0.7M346.6 80.0h0.7M346.3 81.7h0.7M346.3 82.5h0.7M345.9 80.8h0.7M346.3 81.7h0.7M345.8 79.6h0.7M345.6 81.2h0.7" stroke="#222" stroke-width="0.7" fill="none" opacity="1"/>
</g>
<polygon points="365.9,42.7 376.2,42.1 379.6,48.2 376.2,57.3 368.3,58.5 364.3,53.7" fill="none" stroke="#3a3a5a" stroke-width="0.7"/>
<text x="387.8" y="36.4" font-size="5.0" text-anchor="middle" font-weight="normal" fill="#111" textLength="33.5" lengthAdjust="spacingAndGlyphs" stroke="#111" stroke-width="0.06">CD3- CD56dim</text>
<text x="390.2" y="41.8" font-size="5.0" text-anchor="middle" font-weight="normal" fill="#111" textLength="14" lengthAdjust="spacingAndGlyphs" stroke="#111" stroke-width="0.06">47.6%</text>
<text x="0" y="0" font-size="8.1" text-anchor="middle" font-weight="normal" fill="#111" textLength="38.5" lengthAdjust="spacingAndGlyphs" transform="translate(329.4 58.3) rotate(-90)" stroke="#111" stroke-width="0.5">CD56 PE-Cy7</text>
<text x="380.5" y="125.8" font-size="8.3" text-anchor="middle" font-weight="normal" fill="#111" textLength="28" lengthAdjust="spacingAndGlyphs" stroke="#111" stroke-width="0.5">CD3 V500</text>
<rect x="441.7" y="22.7" width="72.00000000000006" height="70.7" fill="#fff" stroke="#8c8c8c" stroke-width="0.55"/>
<text x="439.6" y="32.0" font-size="6.8" text-anchor="end" font-weight="normal" fill="#111" stroke="#111" stroke-width="0.24">10<tspan font-size="4.9" dy="-2.6">5</tspan></text>
<path d="M440.20000000000005 29.4h1.6" stroke="#333" stroke-width="0.6"/>
<text x="439.6" y="48.4" font-size="6.8" text-anchor="end" font-weight="normal" fill="#111" stroke="#111" stroke-width="0.24">10<tspan font-size="4.9" dy="-2.6">4</tspan></text>
<path d="M440.20000000000005 45.8h1.6" stroke="#333" stroke-width="0.6"/>
<text x="439.6" y="65.6" font-size="6.8" text-anchor="end" font-weight="normal" fill="#111" stroke="#111" stroke-width="0.24">10<tspan font-size="4.9" dy="-2.6">3</tspan></text>
<path d="M440.20000000000005 63.0h1.6" stroke="#333" stroke-width="0.6"/>
<text x="439.6" y="82.80000000000001" font-size="6.8" text-anchor="end" font-weight="normal" fill="#111" stroke="#111" stroke-width="0.24">0</text>
<path d="M440.20000000000005 80.4h1.6" stroke="#333" stroke-width="0.6"/>
<text x="0" y="0" font-size="7.0" text-anchor="end" font-weight="normal" fill="#111" transform="translate(463.3 101.4) rotate(-45)" stroke="#111" stroke-width="0.24">0</text>
<path d="M461.4 93.4v1.6" stroke="#333" stroke-width="0.6"/>
<text x="0" y="0" font-size="7.0" text-anchor="end" font-weight="normal" fill="#111" transform="translate(479.2 103.2) rotate(-45)" stroke="#111" stroke-width="0.24">10<tspan font-size="4.9" dy="-2.4">3</tspan></text>
<path d="M476.8 93.4v1.6" stroke="#333" stroke-width="0.6"/>
<text x="0" y="0" font-size="7.0" text-anchor="end" font-weight="normal" fill="#111" transform="translate(496.4 103.2) rotate(-45)" stroke="#111" stroke-width="0.24">10<tspan font-size="4.9" dy="-2.4">4</tspan></text>
<path d="M494.0 93.4v1.6" stroke="#333" stroke-width="0.6"/>
<text x="0" y="0" font-size="7.0" text-anchor="end" font-weight="normal" fill="#111" transform="translate(509.2 103.2) rotate(-45)" stroke="#111" stroke-width="0.24">10<tspan font-size="4.9" dy="-2.4">5</tspan></text>
<path d="M506.8 93.4v1.6" stroke="#333" stroke-width="0.6"/>
<clipPath id="c5"><rect x="442.0" y="23.0" width="71.40000000000006" height="70.10000000000001"/></clipPath>
<g clip-path="url(#c5)">
<path d="M461.0 70.5h0.7M460.9 74.5h0.7M464.5 73.3h0.7M464.4 75.2h0.7M457.7 72.1h0.7M468.4 75.4h0.7M456.7 72.3h0.7M470.7 75.4h0.7M462.9 76.0h0.7M470.3 76.8h0.7M456.8 71.1h0.7M461.1 73.7h0.7M461.9 74.3h0.7M470.9 76.1h0.7M468.5 73.8h0.7M471.7 74.8h0.7M464.8 73.8h0.7M454.6 78.3h0.7M463.5 75.7h0.7M474.7 73.4h0.7M457.9 75.9h0.7M464.8 71.8h0.7M468.3 73.8h0.7M458.9 68.5h0.7M458.7 74.6h0.7M458.5 75.8h0.7M474.4 74.5h0.7M464.7 73.6h0.7M467.8 73.9h0.7M468.7 76.8h0.7M467.8 71.8h0.7M466.9 73.3h0.7M465.1 75.8h0.7M460.3 74.2h0.7M470.8 72.1h0.7M462.6 75.3h0.7M462.5 76.0h0.7M458.6 70.7h0.7M465.5 73.5h0.7M465.1 75.8h0.7M468.8 73.1h0.7M461.7 69.7h0.7M458.8 74.3h0.7M464.7 70.7h0.7M467.5 73.7h0.7M469.0 73.1h0.7M468.4 71.5h0.7M454.4 72.1h0.7M467.0 74.7h0.7M454.3 74.1h0.7M466.9 77.3h0.7M467.4 74.9h0.7M455.8 74.6h0.7M453.9 73.2h0.7M461.8 71.8h0.7M458.6 73.5h0.7M466.5 72.5h0.7M465.1 75.3h0.7M463.5 77.8h0.7M462.0 72.3h0.7M454.2 76.0h0.7M466.9 73.4h0.7M465.1 73.5h0.7M467.9 73.8h0.7M464.7 73.6h0.7M459.2 69.2h0.7M466.3 71.2h0.7M465.6 75.1h0.7M472.9 72.3h0.7M464.3 75.8h0.7M460.3 72.6h0.7M465.8 78.1h0.7M468.9 75.8h0.7M458.8 75.2h0.7M469.2 71.2h0.7M463.6 73.4h0.7M466.8 70.2h0.7M467.1 73.8h0.7M462.3 69.4h0.7M453.3 72.7h0.7M466.8 74.7h0.7M467.3 70.3h0.7M464.6 76.6h0.7M455.9 75.2h0.7M460.0 74.9h0.7M464.1 70.4h0.7M458.4 76.5h0.7M463.0 76.4h0.7M465.3 75.7h0.7M461.6 74.3h0.7M461.7 75.7h0.7M460.7 76.1h0.7M471.4 71.3h0.7M462.7 74.9h0.7M472.4 76.2h0.7M464.0 70.2h0.7M467.7 72.6h0.7M464.5 74.6h0.7M456.6 76.0h0.7M468.1 75.0h0.7M466.5 74.5h0.7M456.7 72.7h0.7M467.6 73.1h0.7M463.7 74.6h0.7M464.0 74.3h0.7M466.0 73.8h0.7M458.1 73.2h0.7M468.3 72.4h0.7M465.9 74.4h0.7M459.2 67.9h0.7M463.5 72.2h0.7M460.5 75.7h0.7M459.8 74.5h0.7M464.2 74.2h0.7M473.4 69.7h0.7M468.3 73.5h0.7M462.2 72.4h0.7M463.8 73.9h0.7M459.0 77.2h0.7M459.9 73.5h0.7M457.3 74.1h0.7M465.3 76.1h0.7M468.4 72.8h0.7M471.5 73.6h0.7M471.2 77.4h0.7M461.6 71.6h0.7M466.2 76.8h0.7M465.5 76.1h0.7M466.5 75.6h0.7M470.1 73.2h0.7M456.6 73.6h0.7M459.7 71.3h0.7M462.7 75.3h0.7M454.5 70.7h0.7M467.5 72.0h0.7M461.6 76.6h0.7M469.1 74.5h0.7M466.2 68.2h0.7M466.3 74.6h0.7M456.7 74.2h0.7M465.8 73.6h0.7M467.5 75.6h0.7M463.8 73.3h0.7M457.7 76.2h0.7M460.7 74.5h0.7M471.1 75.4h0.7M457.3 73.6h0.7M460.1 70.4h0.7M459.6 75.0h0.7M465.2 73.4h0.7M464.4 71.4h0.7M459.8 73.5h0.7M467.5 73.1h0.7M462.7 74.5h0.7M470.8 71.2h0.7M466.2 74.2h0.7M463.2 74.3h0.7M453.8 73.9h0.7M462.4 71.2h0.7M467.7 73.6h0.7M461.9 75.4h0.7M459.0 72.3h0.7M467.6 75.6h0.7M473.5 72.9h0.7M456.4 70.7h0.7M457.7 74.0h0.7M462.4 72.4h0.7M458.6 72.4h0.7M461.8 76.3h0.7M466.6 76.6h0.7M467.6 75.4h0.7M469.4 74.7h0.7M471.1 76.1h0.7M472.5 74.3h0.7M459.7 79.0h0.7M462.2 74.9h0.7M461.7 72.4h0.7M465.7 71.5h0.7M462.8 76.7h0.7M464.2 75.5h0.7M466.7 74.6h0.7M464.1 75.1h0.7M458.8 75.0h0.7M458.3 72.2h0.7M460.7 71.0h0.7M453.8 74.6h0.7M466.0 75.2h0.7M474.4 74.2h0.7M467.2 72.3h0.7M467.0 71.4h0.7M473.3 71.8h0.7M461.5 75.4h0.7M452.7 76.6h0.7M458.9 74.2h0.7M468.4 74.1h0.7M468.1 72.8h0.7M466.5 69.3h0.7M471.0 72.4h0.7M459.3 73.8h0.7M471.9 72.3h0.7M463.4 73.1h0.7M458.9 71.1h0.7M466.4 75.3h0.7M459.8 74.3h0.7M465.7 74.6h0.7M462.7 73.9h0.7M464.9 71.6h0.7M462.8 75.4h0.7M460.8 76.5h0.7M462.3 71.5h0.7M462.1 71.0h0.7M466.5 70.5h0.7M463.6 73.3h0.7M462.0 74.7h0.7M464.9 72.6h0.7M467.6 72.9h0.7M468.0 76.6h0.7M465.4 75.7h0.7M456.9 75.0h0.7M456.2 73.4h0.7M467.0 68.2h0.7M459.7 72.2h0.7M458.9 73.8h0.7M466.7 71.4h0.7M460.5 70.0h0.7M460.0 69.5h0.7M456.1 74.8h0.7M467.8 72.1h0.7M465.2 72.2h0.7M468.8 77.4h0.7M451.4 72.0h0.7M460.4 72.8h0.7M471.2 77.1h0.7M463.4 75.1h0.7M455.7 73.2h0.7M462.1 73.5h0.7M465.0 70.6h0.7M458.4 78.2h0.7M455.0 73.9h0.7M467.1 74.8h0.7M463.8 70.5h0.7M461.2 70.6h0.7M473.2 74.5h0.7M467.1 74.2h0.7M461.6 76.2h0.7M467.9 75.1h0.7M466.4 75.3h0.7M462.1 74.7h0.7M463.9 73.3h0.7M466.7 78.2h0.7M453.5 76.8h0.7M461.4 76.3h0.7M458.5 73.4h0.7M468.6 73.7h0.7M465.2 71.3h0.7M457.9 77.3h0.7M464.3 73.6h0.7M456.7 71.7h0.7M458.4 73.7h0.7M462.9 72.5h0.7" stroke="#8482cc" stroke-width="0.7" fill="none" opacity="0.75"/>
<path d="M461.7 73.9h0.7M466.7 72.1h0.7M459.6 75.2h0.7M459.6 73.3h0.7M463.8 76.0h0.7M457.9 70.2h0.7M463.3 75.1h0.7M463.9 72.8h0.7M464.0 71.3h0.7M465.8 75.6h0.7M462.9 74.8h0.7M460.6 75.6h0.7M461.7 72.8h0.7M461.4 71.6h0.7M465.4 76.3h0.7M459.6 73.6h0.7M464.7 73.1h0.7M459.2 74.2h0.7M466.3 73.9h0.7M460.5 73.4h0.7M458.2 73.7h0.7M466.9 75.2h0.7M463.3 74.3h0.7M462.1 74.0h0.7M461.9 74.0h0.7M462.1 74.0h0.7M465.4 73.8h0.7M459.9 74.4h0.7M462.8 73.2h0.7M465.1 72.8h0.7M466.1 74.5h0.7M461.6 72.9h0.7M463.2 72.7h0.7M466.1 71.0h0.7M463.9 73.4h0.7M460.5 74.6h0.7M462.2 74.4h0.7M462.3 73.5h0.7M464.9 75.0h0.7M466.3 73.8h0.7M467.6 73.4h0.7M459.7 71.5h0.7M459.5 72.7h0.7M458.6 74.2h0.7M463.6 73.8h0.7M464.2 73.7h0.7M462.8 73.4h0.7M463.6 72.4h0.7M467.0 75.7h0.7M463.6 76.6h0.7M460.8 74.9h0.7M459.0 74.5h0.7M461.4 75.0h0.7M463.8 75.0h0.7M465.2 74.4h0.7M462.7 75.8h0.7M464.5 74.4h0.7M467.5 73.5h0.7M468.3 75.1h0.7M463.7 72.0h0.7M466.9 73.4h0.7M463.8 74.0h0.7M466.1 74.6h0.7M458.5 73.0h0.7M464.5 74.0h0.7M465.7 74.5h0.7M468.0 72.9h0.7M467.1 74.3h0.7M464.3 74.6h0.7M462.6 74.7h0.7M462.9 74.7h0.7M461.4 75.2h0.7M459.3 73.0h0.7M463.4 74.1h0.7M461.3 73.3h0.7M464.2 75.1h0.7M467.1 73.2h0.7M463.3 73.4h0.7M459.3 73.3h0.7M466.6 72.1h0.7M471.4 75.0h0.7M468.3 74.0h0.7M457.2 74.3h0.7M467.9 73.1h0.7M467.0 74.7h0.7M465.7 74.7h0.7M465.1 74.6h0.7M466.8 74.3h0.7M465.3 74.3h0.7M463.9 72.7h0.7" stroke="#6462b8" stroke-width="0.7" fill="none" opacity="0.8"/>
<path d="M468.3 71.2h0.7M471.3 70.1h0.7M481.8 72.8h0.7M484.9 80.6h0.7M482.2 72.5h0.7M480.1 73.0h0.7M479.6 78.2h0.7M486.7 76.4h0.7M479.6 77.6h0.7M482.5 75.5h0.7M471.7 72.1h0.7M479.0 73.0h0.7M475.2 69.0h0.7M474.0 73.3h0.7M479.7 71.1h0.7M477.3 77.6h0.7M478.9 69.0h0.7M477.0 73.5h0.7M484.9 74.0h0.7M485.5 74.3h0.7M484.4 76.6h0.7M486.4 74.0h0.7M481.5 82.4h0.7M471.5 74.0h0.7M480.6 71.9h0.7M482.5 73.1h0.7M482.3 73.9h0.7M473.0 75.9h0.7M488.9 75.6h0.7M479.6 69.6h0.7M479.8 73.4h0.7M473.8 69.1h0.7M480.5 75.7h0.7M481.9 78.7h0.7M467.8 74.3h0.7M477.9 76.8h0.7M477.9 71.3h0.7M477.7 74.5h0.7M474.1 71.7h0.7M479.5 75.5h0.7M476.8 74.6h0.7M475.3 72.7h0.7M479.1 75.7h0.7M486.6 73.2h0.7M480.5 78.0h0.7M482.6 72.7h0.7M480.3 70.3h0.7M466.8 71.8h0.7M474.2 70.5h0.7M483.6 72.5h0.7M478.5 73.7h0.7M477.0 70.8h0.7M488.5 69.0h0.7M477.9 75.1h0.7M477.0 73.3h0.7M479.7 74.1h0.7M476.3 76.0h0.7M480.8 77.0h0.7M478.6 69.0h0.7M469.2 72.3h0.7M480.5 69.8h0.7M475.0 76.4h0.7M479.9 71.9h0.7M477.5 73.8h0.7M475.8 72.8h0.7M474.7 74.0h0.7M486.6 76.8h0.7M471.4 78.8h0.7M477.4 70.3h0.7M470.1 73.8h0.7M479.3 72.1h0.7M473.8 73.0h0.7M479.5 75.1h0.7M481.1 68.1h0.7M474.9 74.1h0.7M480.1 75.3h0.7M470.1 77.1h0.7M471.7 73.1h0.7M475.6 72.4h0.7M473.9 75.4h0.7M482.3 74.3h0.7M471.3 72.1h0.7M477.8 74.4h0.7M475.1 72.9h0.7M492.1 73.7h0.7M476.5 67.9h0.7M474.1 77.2h0.7M482.6 70.8h0.7M482.3 73.9h0.7M473.8 75.3h0.7" stroke="#a4a2e0" stroke-width="0.7" fill="none" opacity="0.7"/>
<path d="M487.6 57.4h0.7M488.6 61.9h0.7M487.7 62.6h0.7M488.6 61.7h0.7M489.6 54.6h0.7M486.1 59.3h0.7M490.8 63.0h0.7M489.4 53.7h0.7M487.1 49.3h0.7M487.1 56.8h0.7M485.8 58.9h0.7M485.5 65.5h0.7M489.3 45.0h0.7M487.5 62.0h0.7M489.0 66.7h0.7M488.0 58.8h0.7M488.0 64.7h0.7M487.4 58.6h0.7M489.0 57.1h0.7M486.1 71.6h0.7M489.9 52.3h0.7M492.6 53.7h0.7M487.2 56.8h0.7M489.0 72.9h0.7M490.9 64.9h0.7M488.5 65.7h0.7M487.5 54.0h0.7M489.5 61.8h0.7M489.5 51.4h0.7M489.7 47.8h0.7M490.3 60.2h0.7M487.6 56.0h0.7M492.4 87.1h0.7M486.8 71.7h0.7M482.8 69.4h0.7M488.6 62.3h0.7M487.4 48.8h0.7M489.3 56.3h0.7M489.1 69.2h0.7M488.2 64.6h0.7M488.9 62.1h0.7M487.6 62.1h0.7M489.4 60.8h0.7M488.4 47.6h0.7M486.0 73.4h0.7M490.4 62.7h0.7M489.2 58.8h0.7M489.5 68.3h0.7M488.0 62.7h0.7M491.1 46.6h0.7M487.2 55.1h0.7M486.7 56.2h0.7M487.3 56.6h0.7M490.0 50.1h0.7M488.2 71.9h0.7M489.5 49.6h0.7M487.0 70.0h0.7M488.4 54.7h0.7M490.4 54.0h0.7M486.3 65.2h0.7M488.9 54.5h0.7M489.0 69.6h0.7M490.6 61.1h0.7M489.3 64.4h0.7M485.2 74.2h0.7M487.7 55.2h0.7M487.5 51.7h0.7M490.6 60.2h0.7M488.4 44.4h0.7M489.0 59.7h0.7M486.8 59.1h0.7M485.0 65.5h0.7M486.2 64.2h0.7M489.7 41.9h0.7M486.9 54.4h0.7M489.8 65.3h0.7M489.1 74.5h0.7M488.3 55.7h0.7M485.6 51.1h0.7M490.0 52.9h0.7M486.6 68.2h0.7M483.5 71.8h0.7M491.8 44.9h0.7M489.5 60.0h0.7M490.4 57.3h0.7M487.8 72.1h0.7M487.4 63.6h0.7M489.8 59.2h0.7M490.0 64.6h0.7M490.9 45.6h0.7M486.6 62.5h0.7M490.2 72.5h0.7M489.0 53.7h0.7M487.5 43.3h0.7M487.5 65.0h0.7M489.1 47.4h0.7M488.4 60.5h0.7M486.6 72.5h0.7M489.0 69.5h0.7M489.2 51.8h0.7M490.1 69.7h0.7M488.1 48.6h0.7M490.4 55.3h0.7M486.6 59.3h0.7M490.0 53.7h0.7M488.3 68.6h0.7M490.7 46.8h0.7M489.2 75.4h0.7M490.3 59.4h0.7M490.0 46.6h0.7M487.8 55.6h0.7M492.4 60.3h0.7M486.1 74.5h0.7M491.6 46.1h0.7M489.0 45.6h0.7M491.5 40.7h0.7M492.5 51.2h0.7M485.8 78.1h0.7M489.5 63.2h0.7M490.6 51.7h0.7M490.3 57.8h0.7M489.5 62.1h0.7M491.7 49.2h0.7M485.8 65.6h0.7M492.7 65.0h0.7M488.0 65.8h0.7M486.4 60.8h0.7M485.5 61.0h0.7M489.2 74.7h0.7M487.3 68.0h0.7M491.5 51.2h0.7M488.9 44.2h0.7M486.9 63.8h0.7M485.1 57.4h0.7M489.3 72.5h0.7M483.9 63.2h0.7M488.5 40.3h0.7M486.5 65.1h0.7M488.3 66.1h0.7M487.8 65.7h0.7M487.3 51.6h0.7M489.1 45.1h0.7M491.0 58.1h0.7M487.2 52.6h0.7M486.8 61.1h0.7M487.6 67.5h0.7M486.6 59.4h0.7M486.1 56.0h0.7M491.1 59.2h0.7M490.3 59.6h0.7M487.0 52.4h0.7M486.4 62.9h0.7M487.8 85.4h0.7M491.3 67.5h0.7M486.8 61.0h0.7M486.0 80.3h0.7M486.8 70.1h0.7M485.9 66.6h0.7M486.6 56.0h0.7M488.9 61.3h0.7M488.6 59.5h0.7M487.1 59.1h0.7M488.9 52.0h0.7M489.6 61.6h0.7M486.7 71.2h0.7M488.4 43.6h0.7M491.1 57.0h0.7M491.1 64.0h0.7M486.5 69.6h0.7M489.1 68.1h0.7M488.0 73.5h0.7M490.5 57.3h0.7M485.9 59.6h0.7M489.2 51.6h0.7M487.6 73.0h0.7M487.3 69.7h0.7M487.4 51.6h0.7M490.4 58.7h0.7M488.6 69.0h0.7M492.1 49.5h0.7M489.6 62.1h0.7M488.1 75.6h0.7M488.4 54.9h0.7M490.4 42.6h0.7M489.7 52.4h0.7M489.5 53.7h0.7M489.7 58.0h0.7M487.1 64.7h0.7M490.7 46.3h0.7M486.4 57.7h0.7M487.4 71.5h0.7M491.3 64.3h0.7M490.8 57.4h0.7M486.0 62.6h0.7M484.7 74.0h0.7M488.6 70.2h0.7M488.2 46.1h0.7M488.0 64.3h0.7M488.5 55.7h0.7M488.8 58.4h0.7M491.7 48.9h0.7M484.7 59.0h0.7M489.8 46.8h0.7M488.4 63.9h0.7M489.1 62.7h0.7M487.9 47.5h0.7M490.5 57.1h0.7M485.5 73.4h0.7M491.2 35.8h0.7M493.2 61.6h0.7M485.3 68.2h0.7M488.7 70.9h0.7M489.4 45.7h0.7M488.5 56.3h0.7M489.2 58.5h0.7M490.2 49.6h0.7M487.8 55.5h0.7M490.1 45.3h0.7M487.6 80.7h0.7M484.9 68.9h0.7M488.4 68.7h0.7M488.6 62.3h0.7M489.1 64.1h0.7M486.5 58.8h0.7M491.3 72.5h0.7M487.5 51.8h0.7M487.8 69.2h0.7M490.5 55.1h0.7M484.3 59.4h0.7M485.1 70.3h0.7M491.0 66.0h0.7M489.5 65.0h0.7M491.5 69.7h0.7M491.7 50.2h0.7M487.7 60.0h0.7M484.7 57.4h0.7M488.6 59.5h0.7M493.3 58.5h0.7M488.3 59.0h0.7M488.6 47.7h0.7" stroke="#8482cc" stroke-width="0.7" fill="none" opacity="0.75"/>
<path d="M489.6 67.1h0.7M488.5 67.2h0.7M486.9 59.3h0.7M487.6 69.6h0.7M487.8 70.6h0.7M486.9 65.6h0.7M488.2 66.5h0.7M488.3 73.9h0.7M487.4 67.7h0.7M487.1 69.6h0.7M488.3 63.5h0.7M486.6 61.2h0.7M487.6 67.8h0.7M487.3 66.5h0.7M488.2 78.4h0.7M489.7 78.2h0.7M488.2 68.1h0.7M490.8 68.9h0.7M489.0 64.6h0.7M487.2 70.8h0.7M487.1 63.8h0.7M485.9 68.4h0.7M487.9 69.7h0.7M486.8 61.0h0.7M489.6 67.1h0.7M489.1 61.5h0.7M486.1 54.8h0.7M488.4 71.8h0.7M489.9 75.6h0.7M485.4 61.8h0.7M487.2 63.2h0.7M487.7 63.2h0.7M485.9 66.8h0.7M488.2 63.3h0.7M488.1 60.7h0.7M487.5 65.4h0.7M487.3 66.6h0.7M486.2 60.5h0.7M486.8 70.6h0.7M486.6 62.5h0.7M490.9 65.8h0.7M487.5 62.7h0.7M490.1 69.6h0.7M488.4 74.7h0.7M486.3 58.9h0.7M489.6 69.1h0.7M487.3 70.9h0.7M487.9 76.4h0.7M486.2 68.7h0.7M489.4 71.3h0.7M487.5 65.1h0.7M487.4 70.3h0.7M487.4 66.3h0.7M489.5 66.5h0.7M488.4 66.4h0.7M488.0 56.3h0.7M486.6 68.8h0.7M487.1 64.0h0.7M488.1 78.1h0.7M486.9 62.4h0.7M485.4 69.2h0.7M487.9 62.9h0.7M487.4 71.7h0.7M489.5 68.8h0.7M489.7 71.9h0.7M487.3 70.9h0.7M488.2 70.7h0.7M488.4 77.3h0.7M486.2 68.8h0.7M486.4 78.2h0.7M487.3 65.2h0.7M488.0 66.8h0.7M490.5 66.7h0.7M488.4 72.2h0.7M490.2 62.4h0.7M488.4 60.6h0.7M488.7 73.9h0.7M487.2 65.6h0.7M489.7 69.1h0.7M489.2 64.8h0.7M487.5 65.2h0.7M490.3 59.8h0.7M487.3 74.6h0.7M487.9 61.7h0.7M488.3 65.9h0.7M487.8 69.4h0.7M489.1 59.7h0.7M488.3 74.3h0.7M486.1 66.5h0.7M486.3 70.2h0.7M486.8 65.4h0.7M487.4 69.2h0.7M486.1 60.2h0.7M488.3 73.6h0.7M487.3 69.0h0.7M488.4 67.5h0.7M488.0 64.3h0.7M487.6 72.9h0.7M488.6 73.2h0.7M486.9 67.6h0.7M487.1 60.6h0.7M489.3 65.6h0.7M488.3 60.1h0.7M487.6 66.4h0.7M487.4 71.9h0.7M488.7 67.6h0.7M488.3 64.8h0.7M487.0 65.6h0.7M486.5 66.2h0.7M487.8 72.5h0.7" stroke="#6462b8" stroke-width="0.7" fill="none" opacity="0.8"/>
<path d="M483.9 79.2h0.7M483.7 73.3h0.7M484.9 71.4h0.7M484.8 68.5h0.7M487.8 71.5h0.7M484.9 68.4h0.7M486.4 69.7h0.7M488.4 70.3h0.7M483.2 74.7h0.7M488.2 68.0h0.7M480.8 77.1h0.7M486.1 69.1h0.7M483.9 74.8h0.7M484.0 76.8h0.7M483.2 73.4h0.7M487.9 76.8h0.7M485.6 74.5h0.7M484.1 72.8h0.7M483.6 74.0h0.7M487.1 70.4h0.7M482.1 73.1h0.7M490.0 73.6h0.7M485.3 72.9h0.7M480.8 71.2h0.7M488.7 67.6h0.7M489.5 69.9h0.7M490.1 79.7h0.7M488.7 72.6h0.7M486.5 71.6h0.7M483.9 73.5h0.7M477.1 74.4h0.7M484.2 70.2h0.7M484.3 74.6h0.7M483.1 73.9h0.7M481.6 73.2h0.7M482.1 75.0h0.7M482.4 74.6h0.7M480.0 73.4h0.7M487.7 70.9h0.7M485.1 70.8h0.7M486.2 74.9h0.7M487.8 76.4h0.7M488.2 71.1h0.7M485.3 74.4h0.7M485.5 69.6h0.7M490.0 79.5h0.7M485.1 66.3h0.7M489.5 72.5h0.7M490.6 70.3h0.7M486.3 75.0h0.7" stroke="#8482cc" stroke-width="0.7" fill="none" opacity="0.75"/>
<path d="M458.6 92.7h0.7M461.1 93.0h0.7M461.0 92.0h0.7M457.3 92.9h0.7M462.6 92.3h0.7M461.0 93.1h0.7M459.2 92.3h0.7M460.8 92.7h0.7M460.4 92.7h0.7M460.3 92.9h0.7M459.8 92.8h0.7M459.7 92.5h0.7M461.0 92.6h0.7M461.2 92.8h0.7M461.9 93.0h0.7M457.8 92.8h0.7M461.4 92.8h0.7M460.5 93.1h0.7M461.4 92.4h0.7M460.6 93.1h0.7M460.7 92.4h0.7M461.5 93.0h0.7M462.0 92.9h0.7M460.6 93.1h0.7M459.0 93.3h0.7M461.0 92.9h0.7M461.5 93.0h0.7M457.5 93.1h0.7M460.3 92.6h0.7M461.7 93.1h0.7" stroke="#222" stroke-width="0.7" fill="none" opacity="1"/>
</g>
<path d="M475.8 22.7V93.4M441.7 65.4H513.7" stroke="#333" stroke-width="0.7" fill="none"/>
<text x="443.2" y="30.4" font-size="5.0" text-anchor="start" font-weight="normal" fill="#1a1a1a" >Q1</text>
<text x="443.2" y="36.2" font-size="5.0" text-anchor="start" font-weight="normal" fill="#1a1a1a" textLength="14" lengthAdjust="spacingAndGlyphs" >1.53%</text>
<text x="503.4" y="30.4" font-size="5.0" text-anchor="end" font-weight="normal" fill="#1a1a1a" >Q2</text>
<text x="503.8" y="36.2" font-size="5.0" text-anchor="end" font-weight="normal" fill="#1a1a1a" textLength="14" lengthAdjust="spacingAndGlyphs" >33.5%</text>
<text x="443.2" y="82.4" font-size="5.0" text-anchor="start" font-weight="normal" fill="#1a1a1a" >Q4</text>
<text x="443.2" y="88.6" font-size="5.0" text-anchor="start" font-weight="normal" fill="#1a1a1a" textLength="14" lengthAdjust="spacingAndGlyphs" >40.7%</text>
<text x="503.4" y="82.4" font-size="5.0" text-anchor="end" font-weight="normal" fill="#1a1a1a" >Q3</text>
<text x="503.8" y="88.6" font-size="5.0" text-anchor="end" font-weight="normal" fill="#1a1a1a" textLength="14" lengthAdjust="spacingAndGlyphs" >24.3%</text>
<text x="0" y="0" font-size="8.0" text-anchor="middle" font-weight="normal" fill="#111" textLength="34" lengthAdjust="spacingAndGlyphs" transform="translate(425.3 57.3) rotate(-90)" stroke="#111" stroke-width="0.5">IFNγ AF700</text>
<text x="478.6" y="125.0" font-size="8.3" text-anchor="middle" font-weight="normal" fill="#111" textLength="41.7" lengthAdjust="spacingAndGlyphs" stroke="#111" stroke-width="0.5">CD107 APC-H7</text>
<path d="M36.2 131.4H506" stroke="#111" stroke-width="1.1"/>
<path d="M513 131.5L503.6 127.8L505.6 131.5L503.6 135.2Z" fill="#111"/>
<text x="136.3" y="169.3" font-size="8.6" text-anchor="middle" font-weight="normal" fill="#1a1a1a" textLength="23.4" lengthAdjust="spacingAndGlyphs" >Brad3</text>
<text x="0" y="0" font-size="8.1" text-anchor="middle" font-weight="normal" fill="#1a1a1a" textLength="30" lengthAdjust="spacingAndGlyphs" transform="translate(65.2 208.1) rotate(-90)" stroke="#1a1a1a" stroke-width="0.4">CD107 (%)</text>
<rect x="93.20" y="218.91" width="13.7" height="16.79" fill="#c8102e"/>
<path d="M100.05 211.97V225.11M96.65 211.97h6.8M96.65 225.11h6.8" stroke="#222" stroke-opacity="0.75" stroke-width="0.6" fill="none"/>
<rect x="111.25" y="194.46" width="13.7" height="41.24" fill="#3aaa35"/>
<path d="M118.10 194.24V194.67M114.70 194.24h6.8M114.70 194.67h6.8" stroke="#222" stroke-opacity="0.75" stroke-width="0.6" fill="none"/>
<rect x="129.30" y="195.40" width="13.7" height="40.30" fill="#2da0dc"/>
<path d="M136.15 191.46V198.84M132.75 191.46h6.8M132.75 198.84h6.8" stroke="#222" stroke-opacity="0.75" stroke-width="0.6" fill="none"/>
<rect x="147.35" y="194.46" width="13.7" height="41.24" fill="#f39200"/>
<path d="M154.20 190.73V197.74M150.80 190.73h6.8M150.80 197.74h6.8" stroke="#222" stroke-opacity="0.75" stroke-width="0.6" fill="none"/>
<rect x="165.40" y="235.70" width="13.7" height="1.09" fill="#4b2a6e"/>
<path d="M172.25 236.28V238.33M168.85 236.28h6.8M168.85 238.33h6.8" stroke="#222" stroke-opacity="0.75" stroke-width="0.6" fill="none"/>
<path d="M86.2 174.70000000000002V240.4H186.5" stroke="#111" stroke-width="1.25" fill="none"/>
<path d="M86.0 235.7H186.5" stroke="#111" stroke-width="1.1" fill="none"/>
<path d="M83.2 177.30H86.0" stroke="#111" stroke-width="1.0"/>
<text x="79.8" y="179.9" font-size="7.2" text-anchor="end" font-weight="normal" fill="#1a1a1a" textLength="9.0" lengthAdjust="spacingAndGlyphs" stroke="#1a1a1a" stroke-width="0.12">80</text>
<path d="M83.2 191.90H86.0" stroke="#111" stroke-width="1.0"/>
<text x="79.8" y="194.5" font-size="7.2" text-anchor="end" font-weight="normal" fill="#1a1a1a" textLength="9.0" lengthAdjust="spacingAndGlyphs" stroke="#1a1a1a" stroke-width="0.12">60</text>
<path d="M83.2 206.50H86.0" stroke="#111" stroke-width="1.0"/>
<text x="79.8" y="209.1" font-size="7.2" text-anchor="end" font-weight="normal" fill="#1a1a1a" textLength="9.0" lengthAdjust="spacingAndGlyphs" stroke="#1a1a1a" stroke-width="0.12">40</text>
<path d="M83.2 221.10H86.0" stroke="#111" stroke-width="1.0"/>
<text x="79.8" y="223.7" font-size="7.2" text-anchor="end" font-weight="normal" fill="#1a1a1a" textLength="9.0" lengthAdjust="spacingAndGlyphs" stroke="#1a1a1a" stroke-width="0.12">20</text>
<path d="M83.2 235.70H86.0" stroke="#111" stroke-width="1.0"/>
<text x="79.8" y="238.3" font-size="7.2" text-anchor="end" font-weight="normal" fill="#1a1a1a" textLength="4.5" lengthAdjust="spacingAndGlyphs" stroke="#1a1a1a" stroke-width="0.12">0</text>
<path d="M100.05 240.4v2.8" stroke="#111" stroke-width="1.0"/>
<text x="0" y="0" font-size="7.75" text-anchor="end" font-weight="normal" fill="#111" transform="translate(103.65 249.3) rotate(-45)" stroke="#111" stroke-width="0.22">WT</text>
<path d="M118.10 240.4v2.8" stroke="#111" stroke-width="1.0"/>
<text x="0" y="0" font-size="7.75" text-anchor="end" font-weight="normal" fill="#111" transform="translate(121.7 249.3) rotate(-45)" stroke="#111" stroke-width="0.22">GASDALIE</text>
<path d="M136.15 240.4v2.8" stroke="#111" stroke-width="1.0"/>
<text x="0" y="0" font-size="7.75" text-anchor="end" font-weight="normal" fill="#111" transform="translate(139.75 249.3) rotate(-45)" stroke="#111" stroke-width="0.22">AFUC</text>
<path d="M154.20 240.4v2.8" stroke="#111" stroke-width="1.0"/>
<text x="0" y="0" font-size="7.75" text-anchor="end" font-weight="normal" fill="#111" transform="translate(157.8 249.3) rotate(-45)" stroke="#111" stroke-width="0.22">AFUC GASDALIE</text>
<path d="M172.25 240.4v2.8" stroke="#111" stroke-width="1.0"/>
<text x="0" y="0" font-size="7.75" text-anchor="end" font-weight="normal" fill="#111" transform="translate(175.85 249.3) rotate(-45)" stroke="#111" stroke-width="0.22">GRLR</text>
<text x="118.1" y="188.4" font-size="8" text-anchor="middle" font-weight="normal" fill="#1a1a1a" >**</text>
<text x="136.15" y="188.4" font-size="8" text-anchor="middle" font-weight="normal" fill="#1a1a1a" >**</text>
<text x="154.2" y="188.4" font-size="8" text-anchor="middle" font-weight="normal" fill="#1a1a1a" >**</text>
<text x="172.25" y="232.1" font-size="8" text-anchor="middle" font-weight="normal" fill="#1a1a1a" >*</text>
<text x="279.4" y="169.3" font-size="8.6" text-anchor="middle" font-weight="normal" fill="#1a1a1a" >Fog1</text>
<text x="0" y="0" font-size="8.1" text-anchor="middle" font-weight="normal" fill="#1a1a1a" textLength="30" lengthAdjust="spacingAndGlyphs" transform="translate(208.3 208.1) rotate(-90)" stroke="#1a1a1a" stroke-width="0.4">CD107 (%)</text>
<rect x="236.30" y="219.42" width="13.7" height="16.28" fill="#c8102e"/>
<path d="M243.15 213.80V224.75M239.75 213.80h6.8M239.75 224.75h6.8" stroke="#222" stroke-opacity="0.75" stroke-width="0.6" fill="none"/>
<rect x="254.35" y="191.90" width="13.7" height="43.80" fill="#3aaa35"/>
<path d="M261.20 190.81V193.00M257.80 190.81h6.8M257.80 193.00h6.8" stroke="#222" stroke-opacity="0.75" stroke-width="0.6" fill="none"/>
<rect x="272.40" y="191.90" width="13.7" height="43.80" fill="#2da0dc"/>
<path d="M279.25 188.62V195.19M275.85 188.62h6.8M275.85 195.19h6.8" stroke="#222" stroke-opacity="0.75" stroke-width="0.6" fill="none"/>
<rect x="290.45" y="190.59" width="13.7" height="45.11" fill="#f39200"/>
<path d="M297.30 188.10V193.00M293.90 188.10h6.8M293.90 193.00h6.8" stroke="#222" stroke-opacity="0.75" stroke-width="0.6" fill="none"/>
<rect x="308.50" y="235.70" width="13.7" height="1.09" fill="#4b2a6e"/>
<path d="M315.35 236.28V238.33M311.95 236.28h6.8M311.95 238.33h6.8" stroke="#222" stroke-opacity="0.75" stroke-width="0.6" fill="none"/>
<path d="M229.29999999999998 174.70000000000002V240.4H329.6" stroke="#111" stroke-width="1.25" fill="none"/>
<path d="M229.1 235.7H329.6" stroke="#111" stroke-width="1.1" fill="none"/>
<path d="M226.29999999999998 177.30H229.1" stroke="#111" stroke-width="1.0"/>
<text x="222.9" y="179.9" font-size="7.2" text-anchor="end" font-weight="normal" fill="#1a1a1a" textLength="9.0" lengthAdjust="spacingAndGlyphs" stroke="#1a1a1a" stroke-width="0.12">80</text>
<path d="M226.29999999999998 191.90H229.1" stroke="#111" stroke-width="1.0"/>
<text x="222.9" y="194.5" font-size="7.2" text-anchor="end" font-weight="normal" fill="#1a1a1a" textLength="9.0" lengthAdjust="spacingAndGlyphs" stroke="#1a1a1a" stroke-width="0.12">60</text>
<path d="M226.29999999999998 206.50H229.1" stroke="#111" stroke-width="1.0"/>
<text x="222.9" y="209.1" font-size="7.2" text-anchor="end" font-weight="normal" fill="#1a1a1a" textLength="9.0" lengthAdjust="spacingAndGlyphs" stroke="#1a1a1a" stroke-width="0.12">40</text>
<path d="M226.29999999999998 221.10H229.1" stroke="#111" stroke-width="1.0"/>
<text x="222.9" y="223.7" font-size="7.2" text-anchor="end" font-weight="normal" fill="#1a1a1a" textLength="9.0" lengthAdjust="spacingAndGlyphs" stroke="#1a1a1a" stroke-width="0.12">20</text>
<path d="M226.29999999999998 235.70H229.1" stroke="#111" stroke-width="1.0"/>
<text x="222.9" y="238.3" font-size="7.2" text-anchor="end" font-weight="normal" fill="#1a1a1a" textLength="4.5" lengthAdjust="spacingAndGlyphs" stroke="#1a1a1a" stroke-width="0.12">0</text>
<path d="M243.15 240.4v2.8" stroke="#111" stroke-width="1.0"/>
<text x="0" y="0" font-size="7.75" text-anchor="end" font-weight="normal" fill="#111" transform="translate(246.75 249.3) rotate(-45)" stroke="#111" stroke-width="0.22">WT</text>
<path d="M261.20 240.4v2.8" stroke="#111" stroke-width="1.0"/>
<text x="0" y="0" font-size="7.75" text-anchor="end" font-weight="normal" fill="#111" transform="translate(264.8 249.3) rotate(-45)" stroke="#111" stroke-width="0.22">GASDALIE</text>
<path d="M279.25 240.4v2.8" stroke="#111" stroke-width="1.0"/>
<text x="0" y="0" font-size="7.75" text-anchor="end" font-weight="normal" fill="#111" transform="translate(282.85 249.3) rotate(-45)" stroke="#111" stroke-width="0.22">AFUC</text>
<path d="M297.30 240.4v2.8" stroke="#111" stroke-width="1.0"/>
<text x="0" y="0" font-size="7.75" text-anchor="end" font-weight="normal" fill="#111" transform="translate(300.9 249.3) rotate(-45)" stroke="#111" stroke-width="0.22">AFUC GASDALIE</text>
<path d="M315.35 240.4v2.8" stroke="#111" stroke-width="1.0"/>
<text x="0" y="0" font-size="7.75" text-anchor="end" font-weight="normal" fill="#111" transform="translate(318.95 249.3) rotate(-45)" stroke="#111" stroke-width="0.22">GRLR</text>
<text x="261.2" y="188.4" font-size="8" text-anchor="middle" font-weight="normal" fill="#1a1a1a" >***</text>
<text x="279.25" y="188.4" font-size="8" text-anchor="middle" font-weight="normal" fill="#1a1a1a" >***</text>
<text x="297.3" y="188.4" font-size="8" text-anchor="middle" font-weight="normal" fill="#1a1a1a" >***</text>
<text x="315.35" y="233.2" font-size="8" text-anchor="middle" font-weight="normal" fill="#1a1a1a" >**</text>
<text x="423.5" y="169.3" font-size="8.6" text-anchor="middle" font-weight="normal" fill="#1a1a1a" textLength="29.2" lengthAdjust="spacingAndGlyphs" >VRC03</text>
<text x="0" y="0" font-size="8.1" text-anchor="middle" font-weight="normal" fill="#1a1a1a" textLength="30" lengthAdjust="spacingAndGlyphs" transform="translate(352.4 208.1) rotate(-90)" stroke="#1a1a1a" stroke-width="0.4">CD107 (%)</text>
<rect x="380.40" y="235.70" width="13.7" height="0.88" fill="#c8102e"/>
<path d="M387.25 235.85V237.60M383.85 235.85h6.8M383.85 237.60h6.8" stroke="#222" stroke-opacity="0.75" stroke-width="0.6" fill="none"/>
<rect x="398.45" y="235.70" width="13.7" height="0.73" fill="#3aaa35"/>
<path d="M405.30 235.99V237.01M401.90 235.99h6.8M401.90 237.01h6.8" stroke="#222" stroke-opacity="0.75" stroke-width="0.6" fill="none"/>
<rect x="416.50" y="235.70" width="13.7" height="0.58" fill="#2da0dc"/>
<path d="M423.35 234.97V238.18M419.95 234.97h6.8M419.95 238.18h6.8" stroke="#222" stroke-opacity="0.75" stroke-width="0.6" fill="none"/>
<rect x="434.55" y="235.12" width="13.7" height="0.58" fill="#f39200"/>
<path d="M441.40 233.80V237.45M438.00 233.80h6.8M438.00 237.45h6.8" stroke="#222" stroke-opacity="0.75" stroke-width="0.6" fill="none"/>
<rect x="452.60" y="235.70" width="13.7" height="1.17" fill="#4b2a6e"/>
<path d="M459.45 235.99V238.18M456.05 235.99h6.8M456.05 238.18h6.8" stroke="#222" stroke-opacity="0.75" stroke-width="0.6" fill="none"/>
<path d="M373.4 174.70000000000002V240.4H473.7" stroke="#111" stroke-width="1.25" fill="none"/>
<path d="M373.2 235.7H473.7" stroke="#111" stroke-width="1.1" fill="none"/>
<path d="M370.4 177.30H373.2" stroke="#111" stroke-width="1.0"/>
<text x="367.0" y="179.9" font-size="7.2" text-anchor="end" font-weight="normal" fill="#1a1a1a" textLength="9.0" lengthAdjust="spacingAndGlyphs" stroke="#1a1a1a" stroke-width="0.12">80</text>
<path d="M370.4 191.90H373.2" stroke="#111" stroke-width="1.0"/>
<text x="367.0" y="194.5" font-size="7.2" text-anchor="end" font-weight="normal" fill="#1a1a1a" textLength="9.0" lengthAdjust="spacingAndGlyphs" stroke="#1a1a1a" stroke-width="0.12">60</text>
<path d="M370.4 206.50H373.2" stroke="#111" stroke-width="1.0"/>
<text x="367.0" y="209.1" font-size="7.2" text-anchor="end" font-weight="normal" fill="#1a1a1a" textLength="9.0" lengthAdjust="spacingAndGlyphs" stroke="#1a1a1a" stroke-width="0.12">40</text>
<path d="M370.4 221.10H373.2" stroke="#111" stroke-width="1.0"/>
<text x="367.0" y="223.7" font-size="7.2" text-anchor="end" font-weight="normal" fill="#1a1a1a" textLength="9.0" lengthAdjust="spacingAndGlyphs" stroke="#1a1a1a" stroke-width="0.12">20</text>
<path d="M370.4 235.70H373.2" stroke="#111" stroke-width="1.0"/>
<text x="367.0" y="238.3" font-size="7.2" text-anchor="end" font-weight="normal" fill="#1a1a1a" textLength="4.5" lengthAdjust="spacingAndGlyphs" stroke="#1a1a1a" stroke-width="0.12">0</text>
<path d="M387.25 240.4v2.8" stroke="#111" stroke-width="1.0"/>
<text x="0" y="0" font-size="7.75" text-anchor="end" font-weight="normal" fill="#111" transform="translate(390.85 249.3) rotate(-45)" stroke="#111" stroke-width="0.22">WT</text>
<path d="M405.30 240.4v2.8" stroke="#111" stroke-width="1.0"/>
<text x="0" y="0" font-size="7.75" text-anchor="end" font-weight="normal" fill="#111" transform="translate(408.9 249.3) rotate(-45)" stroke="#111" stroke-width="0.22">GASDALIE</text>
<path d="M423.35 240.4v2.8" stroke="#111" stroke-width="1.0"/>
<text x="0" y="0" font-size="7.75" text-anchor="end" font-weight="normal" fill="#111" transform="translate(426.95 249.3) rotate(-45)" stroke="#111" stroke-width="0.22">AFUC</text>
<path d="M441.40 240.4v2.8" stroke="#111" stroke-width="1.0"/>
<text x="0" y="0" font-size="7.75" text-anchor="end" font-weight="normal" fill="#111" transform="translate(445.0 249.3) rotate(-45)" stroke="#111" stroke-width="0.22">AFUC GASDALIE</text>
<path d="M459.45 240.4v2.8" stroke="#111" stroke-width="1.0"/>
<text x="0" y="0" font-size="7.75" text-anchor="end" font-weight="normal" fill="#111" transform="translate(463.05 249.3) rotate(-45)" stroke="#111" stroke-width="0.22">GRLR</text>
<text x="0" y="0" font-size="8.1" text-anchor="middle" font-weight="normal" fill="#1a1a1a" textLength="26.4" lengthAdjust="spacingAndGlyphs" transform="translate(65.2 342.9) rotate(-90)" stroke="#1a1a1a" stroke-width="0.4">IFNγ (%)</text>
<rect x="93.20" y="360.86" width="13.7" height="9.44" fill="#c8102e"/>
<path d="M100.05 354.69V366.31M96.65 354.69h6.8M96.65 366.31h6.8" stroke="#222" stroke-opacity="0.75" stroke-width="0.6" fill="none"/>
<rect x="111.25" y="338.93" width="13.7" height="31.37" fill="#3aaa35"/>
<path d="M118.10 333.26V343.07M114.70 333.26h6.8M114.70 343.07h6.8" stroke="#222" stroke-opacity="0.75" stroke-width="0.6" fill="none"/>
<rect x="129.30" y="341.76" width="13.7" height="28.54" fill="#2da0dc"/>
<path d="M136.15 332.53V349.97M132.75 332.53h6.8M132.75 349.97h6.8" stroke="#222" stroke-opacity="0.75" stroke-width="0.6" fill="none"/>
<rect x="147.35" y="339.80" width="13.7" height="30.50" fill="#f39200"/>
<path d="M154.20 328.69V350.47M150.80 328.69h6.8M150.80 350.47h6.8" stroke="#222" stroke-opacity="0.75" stroke-width="0.6" fill="none"/>
<rect x="165.40" y="370.30" width="13.7" height="0.73" fill="#4b2a6e"/>
<path d="M172.25 370.59V371.46M168.85 370.59h6.8M168.85 371.46h6.8" stroke="#222" stroke-opacity="0.75" stroke-width="0.6" fill="none"/>
<path d="M86.2 309.59999999999997V375.5H186.5" stroke="#111" stroke-width="1.25" fill="none"/>
<path d="M86.0 370.3H186.5" stroke="#111" stroke-width="1.1" fill="none"/>
<path d="M83.2 312.20H86.0" stroke="#111" stroke-width="1.0"/>
<text x="79.8" y="314.8" font-size="7.2" text-anchor="end" font-weight="normal" fill="#1a1a1a" textLength="9.0" lengthAdjust="spacingAndGlyphs" stroke="#1a1a1a" stroke-width="0.12">80</text>
<path d="M83.2 326.73H86.0" stroke="#111" stroke-width="1.0"/>
<text x="79.8" y="329.33" font-size="7.2" text-anchor="end" font-weight="normal" fill="#1a1a1a" textLength="9.0" lengthAdjust="spacingAndGlyphs" stroke="#1a1a1a" stroke-width="0.12">60</text>
<path d="M83.2 341.25H86.0" stroke="#111" stroke-width="1.0"/>
<text x="79.8" y="343.85" font-size="7.2" text-anchor="end" font-weight="normal" fill="#1a1a1a" textLength="9.0" lengthAdjust="spacingAndGlyphs" stroke="#1a1a1a" stroke-width="0.12">40</text>
<path d="M83.2 355.77H86.0" stroke="#111" stroke-width="1.0"/>
<text x="79.8" y="358.38" font-size="7.2" text-anchor="end" font-weight="normal" fill="#1a1a1a" textLength="9.0" lengthAdjust="spacingAndGlyphs" stroke="#1a1a1a" stroke-width="0.12">20</text>
<path d="M83.2 370.30H86.0" stroke="#111" stroke-width="1.0"/>
<text x="79.8" y="372.9" font-size="7.2" text-anchor="end" font-weight="normal" fill="#1a1a1a" textLength="4.5" lengthAdjust="spacingAndGlyphs" stroke="#1a1a1a" stroke-width="0.12">0</text>
<path d="M100.05 375.5v2.8" stroke="#111" stroke-width="1.0"/>
<text x="0" y="0" font-size="7.75" text-anchor="end" font-weight="normal" fill="#111" transform="translate(103.65 384.4) rotate(-45)" stroke="#111" stroke-width="0.22">WT</text>
<path d="M118.10 375.5v2.8" stroke="#111" stroke-width="1.0"/>
<text x="0" y="0" font-size="7.75" text-anchor="end" font-weight="normal" fill="#111" transform="translate(121.7 384.4) rotate(-45)" stroke="#111" stroke-width="0.22">GASDALIE</text>
<path d="M136.15 375.5v2.8" stroke="#111" stroke-width="1.0"/>
<text x="0" y="0" font-size="7.75" text-anchor="end" font-weight="normal" fill="#111" transform="translate(139.75 384.4) rotate(-45)" stroke="#111" stroke-width="0.22">AFUC</text>
<path d="M154.20 375.5v2.8" stroke="#111" stroke-width="1.0"/>
<text x="0" y="0" font-size="7.75" text-anchor="end" font-weight="normal" fill="#111" transform="translate(157.8 384.4) rotate(-45)" stroke="#111" stroke-width="0.22">AFUC GASDALIE</text>
<path d="M172.25 375.5v2.8" stroke="#111" stroke-width="1.0"/>
<text x="0" y="0" font-size="7.75" text-anchor="end" font-weight="normal" fill="#111" transform="translate(175.85 384.4) rotate(-45)" stroke="#111" stroke-width="0.22">GRLR</text>
<text x="0" y="0" font-size="8.1" text-anchor="middle" font-weight="normal" fill="#1a1a1a" textLength="26.4" lengthAdjust="spacingAndGlyphs" transform="translate(208.3 342.9) rotate(-90)" stroke="#1a1a1a" stroke-width="0.4">IFNγ (%)</text>
<rect x="236.30" y="362.31" width="13.7" height="7.99" fill="#c8102e"/>
<path d="M243.15 357.45V366.31M239.75 357.45h6.8M239.75 366.31h6.8" stroke="#222" stroke-opacity="0.75" stroke-width="0.6" fill="none"/>
<rect x="254.35" y="340.52" width="13.7" height="29.78" fill="#3aaa35"/>
<path d="M261.20 334.50V345.24M257.80 334.50h6.8M257.80 345.24h6.8" stroke="#222" stroke-opacity="0.75" stroke-width="0.6" fill="none"/>
<rect x="272.40" y="340.52" width="13.7" height="29.78" fill="#2da0dc"/>
<path d="M279.25 331.08V348.80M275.85 331.08h6.8M275.85 348.80h6.8" stroke="#222" stroke-opacity="0.75" stroke-width="0.6" fill="none"/>
<rect x="290.45" y="339.07" width="13.7" height="31.23" fill="#f39200"/>
<path d="M297.30 329.12V348.00M293.90 329.12h6.8M293.90 348.00h6.8" stroke="#222" stroke-opacity="0.75" stroke-width="0.6" fill="none"/>
<rect x="308.50" y="370.30" width="13.7" height="0.73" fill="#4b2a6e"/>
<path d="M315.35 370.59V371.46M311.95 370.59h6.8M311.95 371.46h6.8" stroke="#222" stroke-opacity="0.75" stroke-width="0.6" fill="none"/>
<path d="M229.29999999999998 309.59999999999997V375.5H329.6" stroke="#111" stroke-width="1.25" fill="none"/>
<path d="M229.1 370.3H329.6" stroke="#111" stroke-width="1.1" fill="none"/>
<path d="M226.29999999999998 312.20H229.1" stroke="#111" stroke-width="1.0"/>
<text x="222.9" y="314.8" font-size="7.2" text-anchor="end" font-weight="normal" fill="#1a1a1a" textLength="9.0" lengthAdjust="spacingAndGlyphs" stroke="#1a1a1a" stroke-width="0.12">80</text>
<path d="M226.29999999999998 326.73H229.1" stroke="#111" stroke-width="1.0"/>
<text x="222.9" y="329.33" font-size="7.2" text-anchor="end" font-weight="normal" fill="#1a1a1a" textLength="9.0" lengthAdjust="spacingAndGlyphs" stroke="#1a1a1a" stroke-width="0.12">60</text>
<path d="M226.29999999999998 341.25H229.1" stroke="#111" stroke-width="1.0"/>
<text x="222.9" y="343.85" font-size="7.2" text-anchor="end" font-weight="normal" fill="#1a1a1a" textLength="9.0" lengthAdjust="spacingAndGlyphs" stroke="#1a1a1a" stroke-width="0.12">40</text>
<path d="M226.29999999999998 355.77H229.1" stroke="#111" stroke-width="1.0"/>
<text x="222.9" y="358.38" font-size="7.2" text-anchor="end" font-weight="normal" fill="#1a1a1a" textLength="9.0" lengthAdjust="spacingAndGlyphs" stroke="#1a1a1a" stroke-width="0.12">20</text>
<path d="M226.29999999999998 370.30H229.1" stroke="#111" stroke-width="1.0"/>
<text x="222.9" y="372.9" font-size="7.2" text-anchor="end" font-weight="normal" fill="#1a1a1a" textLength="4.5" lengthAdjust="spacingAndGlyphs" stroke="#1a1a1a" stroke-width="0.12">0</text>
<path d="M243.15 375.5v2.8" stroke="#111" stroke-width="1.0"/>
<text x="0" y="0" font-size="7.75" text-anchor="end" font-weight="normal" fill="#111" transform="translate(246.75 384.4) rotate(-45)" stroke="#111" stroke-width="0.22">WT</text>
<path d="M261.20 375.5v2.8" stroke="#111" stroke-width="1.0"/>
<text x="0" y="0" font-size="7.75" text-anchor="end" font-weight="normal" fill="#111" transform="translate(264.8 384.4) rotate(-45)" stroke="#111" stroke-width="0.22">GASDALIE</text>
<path d="M279.25 375.5v2.8" stroke="#111" stroke-width="1.0"/>
<text x="0" y="0" font-size="7.75" text-anchor="end" font-weight="normal" fill="#111" transform="translate(282.85 384.4) rotate(-45)" stroke="#111" stroke-width="0.22">AFUC</text>
<path d="M297.30 375.5v2.8" stroke="#111" stroke-width="1.0"/>
<text x="0" y="0" font-size="7.75" text-anchor="end" font-weight="normal" fill="#111" transform="translate(300.9 384.4) rotate(-45)" stroke="#111" stroke-width="0.22">AFUC GASDALIE</text>
<path d="M315.35 375.5v2.8" stroke="#111" stroke-width="1.0"/>
<text x="0" y="0" font-size="7.75" text-anchor="end" font-weight="normal" fill="#111" transform="translate(318.95 384.4) rotate(-45)" stroke="#111" stroke-width="0.22">GRLR</text>
<text x="0" y="0" font-size="8.1" text-anchor="middle" font-weight="normal" fill="#1a1a1a" textLength="26.4" lengthAdjust="spacingAndGlyphs" transform="translate(352.4 342.9) rotate(-90)" stroke="#1a1a1a" stroke-width="0.4">IFNγ (%)</text>
<rect x="380.40" y="370.30" width="13.7" height="0.44" fill="#c8102e"/>
<path d="M387.25 370.30V371.17M383.85 370.30h6.8M383.85 371.17h6.8" stroke="#222" stroke-opacity="0.75" stroke-width="0.6" fill="none"/>
<rect x="398.45" y="370.30" width="13.7" height="0.65" fill="#3aaa35"/>
<path d="M405.30 370.45V371.46M401.90 370.45h6.8M401.90 371.46h6.8" stroke="#222" stroke-opacity="0.75" stroke-width="0.6" fill="none"/>
<rect x="416.50" y="370.30" width="13.7" height="0.36" fill="#2da0dc"/>
<path d="M423.35 370.15V371.17M419.95 370.15h6.8M419.95 371.17h6.8" stroke="#222" stroke-opacity="0.75" stroke-width="0.6" fill="none"/>
<rect x="434.55" y="369.79" width="13.7" height="0.51" fill="#f39200"/>
<path d="M441.40 368.56V370.45M438.00 368.56h6.8M438.00 370.45h6.8" stroke="#222" stroke-opacity="0.75" stroke-width="0.6" fill="none"/>
<rect x="452.60" y="370.30" width="13.7" height="0.87" fill="#4b2a6e"/>
<path d="M459.45 370.45V371.90M456.05 370.45h6.8M456.05 371.90h6.8" stroke="#222" stroke-opacity="0.75" stroke-width="0.6" fill="none"/>
<path d="M373.4 309.59999999999997V375.5H473.7" stroke="#111" stroke-width="1.25" fill="none"/>
<path d="M373.2 370.3H473.7" stroke="#111" stroke-width="1.1" fill="none"/>
<path d="M370.4 312.20H373.2" stroke="#111" stroke-width="1.0"/>
<text x="367.0" y="314.8" font-size="7.2" text-anchor="end" font-weight="normal" fill="#1a1a1a" textLength="9.0" lengthAdjust="spacingAndGlyphs" stroke="#1a1a1a" stroke-width="0.12">80</text>
<path d="M370.4 326.73H373.2" stroke="#111" stroke-width="1.0"/>
<text x="367.0" y="329.33" font-size="7.2" text-anchor="end" font-weight="normal" fill="#1a1a1a" textLength="9.0" lengthAdjust="spacingAndGlyphs" stroke="#1a1a1a" stroke-width="0.12">60</text>
<path d="M370.4 341.25H373.2" stroke="#111" stroke-width="1.0"/>
<text x="367.0" y="343.85" font-size="7.2" text-anchor="end" font-weight="normal" fill="#1a1a1a" textLength="9.0" lengthAdjust="spacingAndGlyphs" stroke="#1a1a1a" stroke-width="0.12">40</text>
<path d="M370.4 355.77H373.2" stroke="#111" stroke-width="1.0"/>
<text x="367.0" y="358.38" font-size="7.2" text-anchor="end" font-weight="normal" fill="#1a1a1a" textLength="9.0" lengthAdjust="spacingAndGlyphs" stroke="#1a1a1a" stroke-width="0.12">20</text>
<path d="M370.4 370.30H373.2" stroke="#111" stroke-width="1.0"/>
<text x="367.0" y="372.9" font-size="7.2" text-anchor="end" font-weight="normal" fill="#1a1a1a" textLength="4.5" lengthAdjust="spacingAndGlyphs" stroke="#1a1a1a" stroke-width="0.12">0</text>
<path d="M387.25 375.5v2.8" stroke="#111" stroke-width="1.0"/>
<text x="0" y="0" font-size="7.75" text-anchor="end" font-weight="normal" fill="#111" transform="translate(390.85 384.4) rotate(-45)" stroke="#111" stroke-width="0.22">WT</text>
<path d="M405.30 375.5v2.8" stroke="#111" stroke-width="1.0"/>
<text x="0" y="0" font-size="7.75" text-anchor="end" font-weight="normal" fill="#111" transform="translate(408.9 384.4) rotate(-45)" stroke="#111" stroke-width="0.22">GASDALIE</text>
<path d="M423.35 375.5v2.8" stroke="#111" stroke-width="1.0"/>
<text x="0" y="0" font-size="7.75" text-anchor="end" font-weight="normal" fill="#111" transform="translate(426.95 384.4) rotate(-45)" stroke="#111" stroke-width="0.22">AFUC</text>
<path d="M441.40 375.5v2.8" stroke="#111" stroke-width="1.0"/>
<text x="0" y="0" font-size="7.75" text-anchor="end" font-weight="normal" fill="#111" transform="translate(445.0 384.4) rotate(-45)" stroke="#111" stroke-width="0.22">AFUC GASDALIE</text>
<path d="M459.45 375.5v2.8" stroke="#111" stroke-width="1.0"/>
<text x="0" y="0" font-size="7.75" text-anchor="end" font-weight="normal" fill="#111" transform="translate(463.05 384.4) rotate(-45)" stroke="#111" stroke-width="0.22">GRLR</text>
<text x="0" y="0" font-size="8.1" text-anchor="middle" font-weight="normal" fill="#1a1a1a" textLength="77.8" lengthAdjust="spacingAndGlyphs" transform="translate(65.4 481.4) rotate(-90)" stroke="#1a1a1a" stroke-width="0.4">Total NK cell activation (%)</text>
<rect x="93.20" y="491.87" width="13.7" height="17.73" fill="#c8102e"/>
<path d="M100.05 484.41V498.89M96.65 484.41h6.8M96.65 498.89h6.8" stroke="#222" stroke-opacity="0.75" stroke-width="0.6" fill="none"/>
<rect x="111.25" y="464.37" width="13.7" height="45.23" fill="#3aaa35"/>
<path d="M118.10 461.54V466.18M114.70 461.54h6.8M114.70 466.18h6.8" stroke="#222" stroke-opacity="0.75" stroke-width="0.6" fill="none"/>
<rect x="129.30" y="466.18" width="13.7" height="43.43" fill="#2da0dc"/>
<path d="M136.15 461.11V470.52M132.75 461.11h6.8M132.75 470.52h6.8" stroke="#222" stroke-opacity="0.75" stroke-width="0.6" fill="none"/>
<rect x="147.35" y="464.73" width="13.7" height="44.87" fill="#f39200"/>
<path d="M154.20 459.37V470.08M150.80 459.37h6.8M150.80 470.08h6.8" stroke="#222" stroke-opacity="0.75" stroke-width="0.6" fill="none"/>
<rect x="165.40" y="509.60" width="13.7" height="2.32" fill="#4b2a6e"/>
<path d="M172.25 510.69V516.48M168.85 510.69h6.8M168.85 516.48h6.8" stroke="#222" stroke-opacity="0.75" stroke-width="0.6" fill="none"/>
<path d="M86.2 449.09999999999997V514.7H186.5" stroke="#111" stroke-width="1.25" fill="none"/>
<path d="M86.0 509.6H186.5" stroke="#111" stroke-width="1.1" fill="none"/>
<path d="M83.2 451.70H86.0" stroke="#111" stroke-width="1.0"/>
<text x="79.8" y="454.3" font-size="7.2" text-anchor="end" font-weight="normal" fill="#1a1a1a" textLength="9.0" lengthAdjust="spacingAndGlyphs" stroke="#1a1a1a" stroke-width="0.12">80</text>
<path d="M83.2 466.18H86.0" stroke="#111" stroke-width="1.0"/>
<text x="79.8" y="468.78" font-size="7.2" text-anchor="end" font-weight="normal" fill="#1a1a1a" textLength="9.0" lengthAdjust="spacingAndGlyphs" stroke="#1a1a1a" stroke-width="0.12">60</text>
<path d="M83.2 480.65H86.0" stroke="#111" stroke-width="1.0"/>
<text x="79.8" y="483.25" font-size="7.2" text-anchor="end" font-weight="normal" fill="#1a1a1a" textLength="9.0" lengthAdjust="spacingAndGlyphs" stroke="#1a1a1a" stroke-width="0.12">40</text>
<path d="M83.2 495.12H86.0" stroke="#111" stroke-width="1.0"/>
<text x="79.8" y="497.73" font-size="7.2" text-anchor="end" font-weight="normal" fill="#1a1a1a" textLength="9.0" lengthAdjust="spacingAndGlyphs" stroke="#1a1a1a" stroke-width="0.12">20</text>
<path d="M83.2 509.60H86.0" stroke="#111" stroke-width="1.0"/>
<text x="79.8" y="512.2" font-size="7.2" text-anchor="end" font-weight="normal" fill="#1a1a1a" textLength="4.5" lengthAdjust="spacingAndGlyphs" stroke="#1a1a1a" stroke-width="0.12">0</text>
<path d="M100.05 514.7v2.8" stroke="#111" stroke-width="1.0"/>
<text x="0" y="0" font-size="7.75" text-anchor="end" font-weight="normal" fill="#111" transform="translate(103.65 523.6) rotate(-45)" stroke="#111" stroke-width="0.22">WT</text>
<path d="M118.10 514.7v2.8" stroke="#111" stroke-width="1.0"/>
<text x="0" y="0" font-size="7.75" text-anchor="end" font-weight="normal" fill="#111" transform="translate(121.7 523.6) rotate(-45)" stroke="#111" stroke-width="0.22">GASDALIE</text>
<path d="M136.15 514.7v2.8" stroke="#111" stroke-width="1.0"/>
<text x="0" y="0" font-size="7.75" text-anchor="end" font-weight="normal" fill="#111" transform="translate(139.75 523.6) rotate(-45)" stroke="#111" stroke-width="0.22">AFUC</text>
<path d="M154.20 514.7v2.8" stroke="#111" stroke-width="1.0"/>
<text x="0" y="0" font-size="7.75" text-anchor="end" font-weight="normal" fill="#111" transform="translate(157.8 523.6) rotate(-45)" stroke="#111" stroke-width="0.22">AFUC GASDALIE</text>
<path d="M172.25 514.7v2.8" stroke="#111" stroke-width="1.0"/>
<text x="0" y="0" font-size="7.75" text-anchor="end" font-weight="normal" fill="#111" transform="translate(175.85 523.6) rotate(-45)" stroke="#111" stroke-width="0.22">GRLR</text>
<text x="118.1" y="456.9" font-size="8" text-anchor="middle" font-weight="normal" fill="#1a1a1a" >**</text>
<text x="136.15" y="456.9" font-size="8" text-anchor="middle" font-weight="normal" fill="#1a1a1a" >**</text>
<text x="154.2" y="456.9" font-size="8" text-anchor="middle" font-weight="normal" fill="#1a1a1a" >**</text>
<text x="172.25" y="507.7" font-size="8" text-anchor="middle" font-weight="normal" fill="#1a1a1a" >*</text>
<text x="0" y="0" font-size="8.1" text-anchor="middle" font-weight="normal" fill="#1a1a1a" textLength="77.8" lengthAdjust="spacingAndGlyphs" transform="translate(208.5 481.4) rotate(-90)" stroke="#1a1a1a" stroke-width="0.4">Total NK cell activation (%)</text>
<rect x="236.30" y="492.95" width="13.7" height="16.65" fill="#c8102e"/>
<path d="M243.15 486.80V498.02M239.75 486.80h6.8M239.75 498.02h6.8" stroke="#222" stroke-opacity="0.75" stroke-width="0.6" fill="none"/>
<rect x="254.35" y="464.37" width="13.7" height="45.23" fill="#3aaa35"/>
<path d="M261.20 462.56V465.81M257.80 462.56h6.8M257.80 465.81h6.8" stroke="#222" stroke-opacity="0.75" stroke-width="0.6" fill="none"/>
<rect x="272.40" y="463.64" width="13.7" height="45.96" fill="#2da0dc"/>
<path d="M279.25 459.66V467.26M275.85 459.66h6.8M275.85 467.26h6.8" stroke="#222" stroke-opacity="0.75" stroke-width="0.6" fill="none"/>
<rect x="290.45" y="461.83" width="13.7" height="47.77" fill="#f39200"/>
<path d="M297.30 458.58V464.37M293.90 458.58h6.8M293.90 464.37h6.8" stroke="#222" stroke-opacity="0.75" stroke-width="0.6" fill="none"/>
<rect x="308.50" y="509.60" width="13.7" height="2.46" fill="#4b2a6e"/>
<path d="M315.35 510.69V516.11M311.95 510.69h6.8M311.95 516.11h6.8" stroke="#222" stroke-opacity="0.75" stroke-width="0.6" fill="none"/>
<path d="M229.29999999999998 449.09999999999997V514.7H329.6" stroke="#111" stroke-width="1.25" fill="none"/>
<path d="M229.1 509.6H329.6" stroke="#111" stroke-width="1.1" fill="none"/>
<path d="M226.29999999999998 451.70H229.1" stroke="#111" stroke-width="1.0"/>
<text x="222.9" y="454.3" font-size="7.2" text-anchor="end" font-weight="normal" fill="#1a1a1a" textLength="9.0" lengthAdjust="spacingAndGlyphs" stroke="#1a1a1a" stroke-width="0.12">80</text>
<path d="M226.29999999999998 466.18H229.1" stroke="#111" stroke-width="1.0"/>
<text x="222.9" y="468.78" font-size="7.2" text-anchor="end" font-weight="normal" fill="#1a1a1a" textLength="9.0" lengthAdjust="spacingAndGlyphs" stroke="#1a1a1a" stroke-width="0.12">60</text>
<path d="M226.29999999999998 480.65H229.1" stroke="#111" stroke-width="1.0"/>
<text x="222.9" y="483.25" font-size="7.2" text-anchor="end" font-weight="normal" fill="#1a1a1a" textLength="9.0" lengthAdjust="spacingAndGlyphs" stroke="#1a1a1a" stroke-width="0.12">40</text>
<path d="M226.29999999999998 495.12H229.1" stroke="#111" stroke-width="1.0"/>
<text x="222.9" y="497.73" font-size="7.2" text-anchor="end" font-weight="normal" fill="#1a1a1a" textLength="9.0" lengthAdjust="spacingAndGlyphs" stroke="#1a1a1a" stroke-width="0.12">20</text>
<path d="M226.29999999999998 509.60H229.1" stroke="#111" stroke-width="1.0"/>
<text x="222.9" y="512.2" font-size="7.2" text-anchor="end" font-weight="normal" fill="#1a1a1a" textLength="4.5" lengthAdjust="spacingAndGlyphs" stroke="#1a1a1a" stroke-width="0.12">0</text>
<path d="M243.15 514.7v2.8" stroke="#111" stroke-width="1.0"/>
<text x="0" y="0" font-size="7.75" text-anchor="end" font-weight="normal" fill="#111" transform="translate(246.75 523.6) rotate(-45)" stroke="#111" stroke-width="0.22">WT</text>
<path d="M261.20 514.7v2.8" stroke="#111" stroke-width="1.0"/>
<text x="0" y="0" font-size="7.75" text-anchor="end" font-weight="normal" fill="#111" transform="translate(264.8 523.6) rotate(-45)" stroke="#111" stroke-width="0.22">GASDALIE</text>
<path d="M279.25 514.7v2.8" stroke="#111" stroke-width="1.0"/>
<text x="0" y="0" font-size="7.75" text-anchor="end" font-weight="normal" fill="#111" transform="translate(282.85 523.6) rotate(-45)" stroke="#111" stroke-width="0.22">AFUC</text>
<path d="M297.30 514.7v2.8" stroke="#111" stroke-width="1.0"/>
<text x="0" y="0" font-size="7.75" text-anchor="end" font-weight="normal" fill="#111" transform="translate(300.9 523.6) rotate(-45)" stroke="#111" stroke-width="0.22">AFUC GASDALIE</text>
<path d="M315.35 514.7v2.8" stroke="#111" stroke-width="1.0"/>
<text x="0" y="0" font-size="7.75" text-anchor="end" font-weight="normal" fill="#111" transform="translate(318.95 523.6) rotate(-45)" stroke="#111" stroke-width="0.22">GRLR</text>
<text x="261.2" y="456.9" font-size="8" text-anchor="middle" font-weight="normal" fill="#1a1a1a" >***</text>
<text x="279.25" y="456.9" font-size="8" text-anchor="middle" font-weight="normal" fill="#1a1a1a" >***</text>
<text x="297.3" y="456.9" font-size="8" text-anchor="middle" font-weight="normal" fill="#1a1a1a" >****</text>
<text x="315.35" y="504.0" font-size="8" text-anchor="middle" font-weight="normal" fill="#1a1a1a" >**</text>
<text x="0" y="0" font-size="8.1" text-anchor="middle" font-weight="normal" fill="#1a1a1a" textLength="77.8" lengthAdjust="spacingAndGlyphs" transform="translate(352.6 481.4) rotate(-90)" stroke="#1a1a1a" stroke-width="0.4">Total NK cell activation (%)</text>
<rect x="380.40" y="509.60" width="13.7" height="1.59" fill="#c8102e"/>
<path d="M387.25 510.32V512.64M383.85 510.32h6.8M383.85 512.64h6.8" stroke="#222" stroke-opacity="0.75" stroke-width="0.6" fill="none"/>
<rect x="398.45" y="509.60" width="13.7" height="1.30" fill="#3aaa35"/>
<path d="M405.30 510.03V512.64M401.90 510.03h6.8M401.90 512.64h6.8" stroke="#222" stroke-opacity="0.75" stroke-width="0.6" fill="none"/>
<rect x="416.50" y="509.60" width="13.7" height="1.45" fill="#2da0dc"/>
<path d="M423.35 509.89V512.93M419.95 509.89h6.8M419.95 512.93h6.8" stroke="#222" stroke-opacity="0.75" stroke-width="0.6" fill="none"/>
<rect x="434.55" y="509.02" width="13.7" height="0.58" fill="#f39200"/>
<path d="M441.40 508.15V512.35M438.00 508.15h6.8M438.00 512.35h6.8" stroke="#222" stroke-opacity="0.75" stroke-width="0.6" fill="none"/>
<rect x="452.60" y="509.60" width="13.7" height="2.46" fill="#4b2a6e"/>
<path d="M459.45 510.76V513.51M456.05 510.76h6.8M456.05 513.51h6.8" stroke="#222" stroke-opacity="0.75" stroke-width="0.6" fill="none"/>
<path d="M373.4 449.09999999999997V514.7H473.7" stroke="#111" stroke-width="1.25" fill="none"/>
<path d="M373.2 509.6H473.7" stroke="#111" stroke-width="1.1" fill="none"/>
<path d="M370.4 451.70H373.2" stroke="#111" stroke-width="1.0"/>
<text x="367.0" y="454.3" font-size="7.2" text-anchor="end" font-weight="normal" fill="#1a1a1a" textLength="9.0" lengthAdjust="spacingAndGlyphs" stroke="#1a1a1a" stroke-width="0.12">80</text>
<path d="M370.4 466.18H373.2" stroke="#111" stroke-width="1.0"/>
<text x="367.0" y="468.78" font-size="7.2" text-anchor="end" font-weight="normal" fill="#1a1a1a" textLength="9.0" lengthAdjust="spacingAndGlyphs" stroke="#1a1a1a" stroke-width="0.12">60</text>
<path d="M370.4 480.65H373.2" stroke="#111" stroke-width="1.0"/>
<text x="367.0" y="483.25" font-size="7.2" text-anchor="end" font-weight="normal" fill="#1a1a1a" textLength="9.0" lengthAdjust="spacingAndGlyphs" stroke="#1a1a1a" stroke-width="0.12">40</text>
<path d="M370.4 495.12H373.2" stroke="#111" stroke-width="1.0"/>
<text x="367.0" y="497.73" font-size="7.2" text-anchor="end" font-weight="normal" fill="#1a1a1a" textLength="9.0" lengthAdjust="spacingAndGlyphs" stroke="#1a1a1a" stroke-width="0.12">20</text>
<path d="M370.4 509.60H373.2" stroke="#111" stroke-width="1.0"/>
<text x="367.0" y="512.2" font-size="7.2" text-anchor="end" font-weight="normal" fill="#1a1a1a" textLength="4.5" lengthAdjust="spacingAndGlyphs" stroke="#1a1a1a" stroke-width="0.12">0</text>
<path d="M387.25 514.7v2.8" stroke="#111" stroke-width="1.0"/>
<text x="0" y="0" font-size="7.75" text-anchor="end" font-weight="normal" fill="#111" transform="translate(390.85 523.6) rotate(-45)" stroke="#111" stroke-width="0.22">WT</text>
<path d="M405.30 514.7v2.8" stroke="#111" stroke-width="1.0"/>
<text x="0" y="0" font-size="7.75" text-anchor="end" font-weight="normal" fill="#111" transform="translate(408.9 523.6) rotate(-45)" stroke="#111" stroke-width="0.22">GASDALIE</text>
<path d="M423.35 514.7v2.8" stroke="#111" stroke-width="1.0"/>
<text x="0" y="0" font-size="7.75" text-anchor="end" font-weight="normal" fill="#111" transform="translate(426.95 523.6) rotate(-45)" stroke="#111" stroke-width="0.22">AFUC</text>
<path d="M441.40 514.7v2.8" stroke="#111" stroke-width="1.0"/>
<text x="0" y="0" font-size="7.75" text-anchor="end" font-weight="normal" fill="#111" transform="translate(445.0 523.6) rotate(-45)" stroke="#111" stroke-width="0.22">AFUC GASDALIE</text>
<path d="M459.45 514.7v2.8" stroke="#111" stroke-width="1.0"/>
<text x="0" y="0" font-size="7.75" text-anchor="end" font-weight="normal" fill="#111" transform="translate(463.05 523.6) rotate(-45)" stroke="#111" stroke-width="0.22">GRLR</text>
<path d="M0 0H520V574H0Z M1 1V572.9H518.9V1Z" fill="#4a4a4a" fill-rule="evenodd"/>
<path d="M1 1H518.9V573H1Z" fill="none" stroke="#4a4a4a" stroke-opacity="0.25" stroke-width="0.6"/>
</svg>
</body></html>
